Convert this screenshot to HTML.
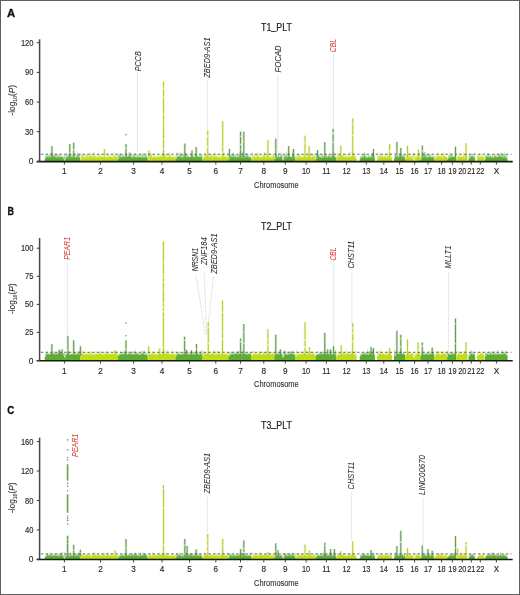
<!DOCTYPE html><html><head><meta charset="utf-8"><style>html,body{margin:0;padding:0;background:#fff;}svg{display:block;will-change:transform;}</style></head><body>
<svg width="520" height="595" viewBox="0 0 520 595" font-family='"Liberation Sans", sans-serif'>
<rect x="0" y="0" width="520" height="595" fill="#fff"/>
<text x="7" y="16.6" font-size="11.4" font-weight="bold" fill="#111" stroke="#111" stroke-width="0.3" textLength="8.2" lengthAdjust="spacingAndGlyphs">A</text>
<text x="261.0" y="31" font-size="10.2" fill="#222" stroke="#222" stroke-width="0.2" textLength="30.8" lengthAdjust="spacingAndGlyphs">T1<tspan dy="-1.3">_</tspan><tspan dy="1.3">PLT</tspan></text>
<text x="254.1" y="188" font-size="9.7" fill="#333" stroke="#333" stroke-width="0.15" textLength="44.6" lengthAdjust="spacingAndGlyphs">Chromosome</text>
<g transform="translate(15.0,100.2) rotate(-90)"><text x="0" y="0" text-anchor="middle" font-size="8.8" fill="#333" stroke="#333" stroke-width="0.12" textLength="30.6" lengthAdjust="spacingAndGlyphs">-log<tspan font-size="5.4" dy="1.6">10</tspan><tspan dy="-1.6">(</tspan><tspan font-style="italic">P</tspan>)</text></g>
<line x1="137.4" y1="73" x2="137.4" y2="152" stroke="#bdbdc4" stroke-width="0.6" stroke-dasharray="1.2 0.8"/>
<line x1="207.3" y1="80.4" x2="207.3" y2="130" stroke="#bdbdc4" stroke-width="0.6" stroke-dasharray="1.2 0.8"/>
<line x1="277.9" y1="74.8" x2="277.9" y2="152" stroke="#bdbdc4" stroke-width="0.6" stroke-dasharray="1.2 0.8"/>
<line x1="333.4" y1="54.2" x2="333.4" y2="128" stroke="#bdbdc4" stroke-width="0.6" stroke-dasharray="1.2 0.8"/>
<polygon points="44.8,161.4 44.8,157.5 45.4,157.5 45.4,156.1 46,156.1 46,154.8 46.6,154.8 46.6,154.6 47.2,154.6 47.2,154.5 47.8,154.5 47.8,155.3 48.4,155.3 48.4,154.3 49,154.3 49,155 49.6,155 49.6,156.2 50.2,156.2 50.2,155.2 50.8,155.2 50.8,156.3 51.4,156.3 51.4,154 52,154 52,153.9 52.6,153.9 52.6,155.5 53.2,155.5 53.2,155.6 53.8,155.6 53.8,154.4 54.4,154.4 54.4,155.9 55,155.9 55,155.9 55.6,155.9 55.6,155.9 56.2,155.9 56.2,155.5 56.8,155.5 56.8,154.8 57.4,154.8 57.4,153.9 58,153.9 58,155.9 58.6,155.9 58.6,153.9 59.2,153.9 59.2,155 59.8,155 59.8,154.1 60.4,154.1 60.4,154.3 61,154.3 61,156 61.6,156 61.6,154.7 62.2,154.7 62.2,156.1 62.8,156.1 62.8,156.7 63.4,156.7 63.4,156.7 64,156.7 64,156.6 64.6,156.6 64.6,156.8 65.2,156.8 65.2,156.9 65.8,156.9 65.8,154.2 66.4,154.2 66.4,154 67,154 67,155.8 67.6,155.8 67.6,155.2 68.2,155.2 68.2,154.7 68.8,154.7 68.8,154.1 69.4,154.1 69.4,156.1 70,156.1 70,155 70.6,155 70.6,153.9 71.2,153.9 71.2,154.8 71.8,154.8 71.8,154.5 72.4,154.5 72.4,154.4 73,154.4 73,155.1 73.6,155.1 73.6,155.6 74.2,155.6 74.2,154.9 74.8,154.9 74.8,155 75.4,155 75.4,155.5 76,155.5 76,154.2 76.6,154.2 76.6,155.5 77.2,155.5 77.2,155.1 77.8,155.1 77.8,154.4 78.4,154.4 78.4,154.3 79,154.3 79,154.3 79.6,154.3 79.6,155.4 80.2,155.4 80.2,157 80.4,157 80.4,161.4" fill="#5cb02e" fill-opacity="0.42"/>
<polygon points="44.8,161.4 44.8,158.9 45.6,158.9 45.6,157.9 46.4,157.9 46.4,157.2 47.2,157.2 47.2,157.1 48,157.1 48,157.4 48.8,157.4 48.8,157.4 49.6,157.4 49.6,157.3 50.4,157.3 50.4,157.8 51.2,157.8 51.2,157.2 52,157.2 52,157 52.8,157 52.8,157.7 53.6,157.7 53.6,157.1 54.4,157.1 54.4,157.2 55.2,157.2 55.2,157.8 56,157.8 56,157.8 56.8,157.8 56.8,157.3 57.6,157.3 57.6,157.7 58.4,157.7 58.4,157.6 59.2,157.6 59.2,157.3 60,157.3 60,157.2 60.8,157.2 60.8,157.2 61.6,157.2 61.6,157.3 62.4,157.3 62.4,157.6 63.2,157.6 63.2,159.3 64,159.3 64,161.1 64.8,161.1 64.8,160.1 65.6,160.1 65.6,157.9 66.4,157.9 66.4,157.2 67.2,157.2 67.2,157.7 68,157.7 68,157.5 68.8,157.5 68.8,157 69.6,157 69.6,157.5 70.4,157.5 70.4,157.2 71.2,157.2 71.2,157.3 72,157.3 72,157.2 72.8,157.2 72.8,157.4 73.6,157.4 73.6,157.4 74.4,157.4 74.4,157.2 75.2,157.2 75.2,157.7 76,157.7 76,157.1 76.8,157.1 76.8,157 77.6,157 77.6,157.9 78.4,157.9 78.4,157.7 79.2,157.7 79.2,158.1 80,158.1 80,159.2 80.4,159.2 80.4,161.4" fill="#5cb02e"/>
<line x1="50.1" y1="157.9" x2="50.1" y2="153.5" stroke="#6a945c" stroke-width="0.7" stroke-opacity="0.5"/>
<line x1="49.5" y1="157.9" x2="49.5" y2="155.6" stroke="#6a945c" stroke-width="0.7" stroke-opacity="0.5"/>
<line x1="78.1" y1="157.9" x2="78.1" y2="154.6" stroke="#6a945c" stroke-width="0.7" stroke-opacity="0.5"/>
<line x1="64" y1="157.9" x2="64" y2="154.3" stroke="#6a945c" stroke-width="0.7" stroke-opacity="0.5"/>
<line x1="57.2" y1="157.9" x2="57.2" y2="154.4" stroke="#6a945c" stroke-width="0.7" stroke-opacity="0.5"/>
<line x1="52" y1="157.9" x2="52" y2="153.8" stroke="#6a945c" stroke-width="0.7" stroke-opacity="0.5"/>
<line x1="53.9" y1="157.9" x2="53.9" y2="155.4" stroke="#6a945c" stroke-width="0.7" stroke-opacity="0.5"/>
<line x1="52.5" y1="157.9" x2="52.5" y2="154.6" stroke="#6a945c" stroke-width="0.7" stroke-opacity="0.5"/>
<line x1="77.6" y1="157.9" x2="77.6" y2="153.7" stroke="#6a945c" stroke-width="0.7" stroke-opacity="0.5"/>
<line x1="79.3" y1="157.9" x2="79.3" y2="154.6" stroke="#6a945c" stroke-width="0.7" stroke-opacity="0.5"/>
<line x1="54.3" y1="157.9" x2="54.3" y2="153.2" stroke="#6a945c" stroke-width="0.7" stroke-opacity="0.5"/>
<line x1="51.8" y1="157.9" x2="51.8" y2="151.5" stroke="#6a945c" stroke-width="0.7" stroke-opacity="0.5"/>
<line x1="58.8" y1="157.9" x2="58.8" y2="155.1" stroke="#6a945c" stroke-width="0.7" stroke-opacity="0.5"/>
<line x1="54.6" y1="157.9" x2="54.6" y2="155" stroke="#6a945c" stroke-width="0.7" stroke-opacity="0.5"/>
<line x1="77.8" y1="157.9" x2="77.8" y2="151.6" stroke="#6a945c" stroke-width="0.7" stroke-opacity="0.5"/>
<line x1="64.6" y1="157.9" x2="64.6" y2="155.2" stroke="#6a945c" stroke-width="0.7" stroke-opacity="0.5"/>
<line x1="45.5" y1="157.9" x2="45.5" y2="155.6" stroke="#6a945c" stroke-width="0.7" stroke-opacity="0.5"/>
<line x1="55.6" y1="157.9" x2="55.6" y2="153.5" stroke="#6a945c" stroke-width="0.7" stroke-opacity="0.5"/>
<line x1="67" y1="157.9" x2="67" y2="152.4" stroke="#6a945c" stroke-width="0.7" stroke-opacity="0.5"/>
<line x1="73.8" y1="157.9" x2="73.8" y2="154.8" stroke="#6a945c" stroke-width="0.7" stroke-opacity="0.5"/>
<line x1="68.6" y1="157.9" x2="68.6" y2="154.4" stroke="#6a945c" stroke-width="0.7" stroke-opacity="0.5"/>
<line x1="70.5" y1="157.9" x2="70.5" y2="155.3" stroke="#6a945c" stroke-width="0.7" stroke-opacity="0.5"/>
<polygon points="80.4,161.4 80.4,155.3 81,155.3 81,157.2 81.6,157.2 81.6,155.2 82.2,155.2 82.2,155.5 82.8,155.5 82.8,154.3 83.4,154.3 83.4,156 84,156 84,154.1 84.6,154.1 84.6,156.4 85.2,156.4 85.2,154.5 85.8,154.5 85.8,154.6 86.4,154.6 86.4,155.1 87,155.1 87,155.9 87.6,155.9 87.6,155.4 88.2,155.4 88.2,155.2 88.8,155.2 88.8,155.8 89.4,155.8 89.4,156 90,156 90,154.2 90.6,154.2 90.6,155 91.2,155 91.2,155.7 91.8,155.7 91.8,154.8 92.4,154.8 92.4,154.8 93,154.8 93,156 93.6,156 93.6,154.9 94.2,154.9 94.2,154.9 94.8,154.9 94.8,156.1 95.4,156.1 95.4,155.6 96,155.6 96,154.2 96.6,154.2 96.6,154.9 97.2,154.9 97.2,155.8 97.8,155.8 97.8,155.4 98.4,155.4 98.4,155.2 99,155.2 99,154.6 99.6,154.6 99.6,154.2 100.2,154.2 100.2,156.2 100.8,156.2 100.8,156.3 101.4,156.3 101.4,155.3 102,155.3 102,156.3 102.6,156.3 102.6,156 103.2,156 103.2,156.1 103.8,156.1 103.8,156.2 104.4,156.2 104.4,154.8 105,154.8 105,156.2 105.6,156.2 105.6,154.9 106.2,154.9 106.2,153.9 106.8,153.9 106.8,156 107.4,156 107.4,154.4 108,154.4 108,154.9 108.6,154.9 108.6,156 109.2,156 109.2,153.9 109.8,153.9 109.8,154.5 110.4,154.5 110.4,155.4 111,155.4 111,154.1 111.6,154.1 111.6,156.1 112.2,156.1 112.2,154.2 112.8,154.2 112.8,154.2 113.4,154.2 113.4,156.1 114,156.1 114,154 114.6,154 114.6,154.4 115.2,154.4 115.2,154 115.8,154 115.8,155.7 116.4,155.7 116.4,154.6 117,154.6 117,155 117.6,155 117.6,156.7 117.9,156.7 117.9,161.4" fill="#c0dd16" fill-opacity="0.42"/>
<polygon points="80.4,161.4 80.4,159.7 81.2,159.7 81.2,158.8 82,158.8 82,157.4 82.8,157.4 82.8,157.4 83.6,157.4 83.6,157.8 84.4,157.8 84.4,157.3 85.2,157.3 85.2,157.8 86,157.8 86,157.4 86.8,157.4 86.8,157.4 87.6,157.4 87.6,157.7 88.4,157.7 88.4,157.9 89.2,157.9 89.2,157 90,157 90,157 90.8,157 90.8,157.3 91.6,157.3 91.6,157.9 92.4,157.9 92.4,157.4 93.2,157.4 93.2,156.9 94,156.9 94,157.1 94.8,157.1 94.8,157.2 95.6,157.2 95.6,157.9 96.4,157.9 96.4,157.3 97.2,157.3 97.2,157.7 98,157.7 98,156.9 98.8,156.9 98.8,157.9 99.6,157.9 99.6,157.7 100.4,157.7 100.4,157 101.2,157 101.2,157.8 102,157.8 102,157.6 102.8,157.6 102.8,157.6 103.6,157.6 103.6,157 104.4,157 104.4,157.2 105.2,157.2 105.2,157 106,157 106,157.7 106.8,157.7 106.8,157.8 107.6,157.8 107.6,157.6 108.4,157.6 108.4,157.1 109.2,157.1 109.2,157.3 110,157.3 110,157 110.8,157 110.8,157.2 111.6,157.2 111.6,157.8 112.4,157.8 112.4,157.6 113.2,157.6 113.2,157.7 114,157.7 114,157.6 114.8,157.6 114.8,157.2 115.6,157.2 115.6,157.5 116.4,157.5 116.4,157.3 117.2,157.3 117.2,158.9 117.9,158.9 117.9,161.4" fill="#c0dd16"/>
<line x1="114.2" y1="157.9" x2="114.2" y2="155.4" stroke="#bac93c" stroke-width="0.7" stroke-opacity="0.5"/>
<line x1="108.1" y1="157.9" x2="108.1" y2="152.4" stroke="#bac93c" stroke-width="0.7" stroke-opacity="0.5"/>
<line x1="82.3" y1="157.9" x2="82.3" y2="154" stroke="#bac93c" stroke-width="0.7" stroke-opacity="0.5"/>
<line x1="116.6" y1="157.9" x2="116.6" y2="155.7" stroke="#bac93c" stroke-width="0.7" stroke-opacity="0.5"/>
<line x1="99" y1="157.9" x2="99" y2="154.5" stroke="#bac93c" stroke-width="0.7" stroke-opacity="0.5"/>
<line x1="94.8" y1="157.9" x2="94.8" y2="155.3" stroke="#bac93c" stroke-width="0.7" stroke-opacity="0.5"/>
<line x1="87.4" y1="157.9" x2="87.4" y2="155.1" stroke="#bac93c" stroke-width="0.7" stroke-opacity="0.5"/>
<line x1="88.8" y1="157.9" x2="88.8" y2="155" stroke="#bac93c" stroke-width="0.7" stroke-opacity="0.5"/>
<line x1="113.9" y1="157.9" x2="113.9" y2="151.8" stroke="#bac93c" stroke-width="0.7" stroke-opacity="0.5"/>
<line x1="90.3" y1="157.9" x2="90.3" y2="155.6" stroke="#bac93c" stroke-width="0.7" stroke-opacity="0.5"/>
<line x1="90.6" y1="157.9" x2="90.6" y2="152.4" stroke="#bac93c" stroke-width="0.7" stroke-opacity="0.5"/>
<line x1="87.3" y1="157.9" x2="87.3" y2="153.4" stroke="#bac93c" stroke-width="0.7" stroke-opacity="0.5"/>
<line x1="84.2" y1="157.9" x2="84.2" y2="154.8" stroke="#bac93c" stroke-width="0.7" stroke-opacity="0.5"/>
<line x1="87" y1="157.9" x2="87" y2="153.7" stroke="#bac93c" stroke-width="0.7" stroke-opacity="0.5"/>
<line x1="94.4" y1="157.9" x2="94.4" y2="152.8" stroke="#bac93c" stroke-width="0.7" stroke-opacity="0.5"/>
<line x1="99.8" y1="157.9" x2="99.8" y2="154.6" stroke="#bac93c" stroke-width="0.7" stroke-opacity="0.5"/>
<line x1="81.6" y1="157.9" x2="81.6" y2="152.5" stroke="#bac93c" stroke-width="0.7" stroke-opacity="0.5"/>
<line x1="82.2" y1="157.9" x2="82.2" y2="154.2" stroke="#bac93c" stroke-width="0.7" stroke-opacity="0.5"/>
<line x1="117.1" y1="157.9" x2="117.1" y2="152.7" stroke="#bac93c" stroke-width="0.7" stroke-opacity="0.5"/>
<line x1="93.8" y1="157.9" x2="93.8" y2="151.9" stroke="#bac93c" stroke-width="0.7" stroke-opacity="0.5"/>
<line x1="90.3" y1="157.9" x2="90.3" y2="153.8" stroke="#bac93c" stroke-width="0.7" stroke-opacity="0.5"/>
<line x1="101.9" y1="157.9" x2="101.9" y2="153.1" stroke="#bac93c" stroke-width="0.7" stroke-opacity="0.5"/>
<line x1="91.4" y1="157.9" x2="91.4" y2="154.6" stroke="#bac93c" stroke-width="0.7" stroke-opacity="0.5"/>
<polygon points="117.9,161.4 117.9,157 118.5,157 118.5,154.9 119.1,154.9 119.1,154.8 119.7,154.8 119.7,155.5 120.3,155.5 120.3,154.4 120.9,154.4 120.9,154.8 121.5,154.8 121.5,155.8 122.1,155.8 122.1,155.1 122.7,155.1 122.7,156.1 123.3,156.1 123.3,155.9 123.9,155.9 123.9,156.2 124.5,156.2 124.5,156.2 125.1,156.2 125.1,154.8 125.7,154.8 125.7,154.2 126.3,154.2 126.3,154.2 126.9,154.2 126.9,155.8 127.5,155.8 127.5,153.9 128.1,153.9 128.1,155.5 128.7,155.5 128.7,154.6 129.3,154.6 129.3,154.9 129.9,154.9 129.9,155.2 130.5,155.2 130.5,154.6 131.1,154.6 131.1,154.1 131.7,154.1 131.7,154.6 132.3,154.6 132.3,155.1 132.9,155.1 132.9,154.2 133.5,154.2 133.5,154.5 134.1,154.5 134.1,155.4 134.7,155.4 134.7,153.9 135.3,153.9 135.3,155.4 135.9,155.4 135.9,156.3 136.5,156.3 136.5,153.9 137.1,153.9 137.1,153.9 137.7,153.9 137.7,155 138.3,155 138.3,154.4 138.9,154.4 138.9,154.6 139.5,154.6 139.5,156.1 140.1,156.1 140.1,154.3 140.7,154.3 140.7,154.8 141.3,154.8 141.3,153.9 141.9,153.9 141.9,155.2 142.5,155.2 142.5,155.7 143.1,155.7 143.1,154.4 143.7,154.4 143.7,155 144.3,155 144.3,154.1 144.9,154.1 144.9,156.3 145.5,156.3 145.5,154.6 146.1,154.6 146.1,154 146.7,154 146.7,156.5 147.3,156.5 147.3,157.2 147.7,157.2 147.7,161.4" fill="#5cb02e" fill-opacity="0.42"/>
<polygon points="117.9,161.4 117.9,159.3 118.7,159.3 118.7,158.2 119.5,158.2 119.5,157.3 120.3,157.3 120.3,157.4 121.1,157.4 121.1,157.6 121.9,157.6 121.9,157.2 122.7,157.2 122.7,156.9 123.5,156.9 123.5,157.4 124.3,157.4 124.3,157.5 125.1,157.5 125.1,156.9 125.9,156.9 125.9,157.7 126.7,157.7 126.7,157.3 127.5,157.3 127.5,157.1 128.3,157.1 128.3,157.1 129.1,157.1 129.1,157.2 129.9,157.2 129.9,157.2 130.7,157.2 130.7,157.5 131.5,157.5 131.5,156.9 132.3,156.9 132.3,157.9 133.1,157.9 133.1,157.5 133.9,157.5 133.9,157.4 134.7,157.4 134.7,157.2 135.5,157.2 135.5,157.6 136.3,157.6 136.3,157.7 137.1,157.7 137.1,157.5 137.9,157.5 137.9,157.3 138.7,157.3 138.7,157.4 139.5,157.4 139.5,157 140.3,157 140.3,157.4 141.1,157.4 141.1,157.7 141.9,157.7 141.9,157.3 142.7,157.3 142.7,157.5 143.5,157.5 143.5,157.9 144.3,157.9 144.3,157.5 145.1,157.5 145.1,157.8 145.9,157.8 145.9,157.3 146.7,157.3 146.7,157.7 147.5,157.7 147.5,158.8 147.7,158.8 147.7,161.4" fill="#5cb02e"/>
<line x1="146.1" y1="157.9" x2="146.1" y2="155.4" stroke="#6a945c" stroke-width="0.7" stroke-opacity="0.5"/>
<line x1="142.5" y1="157.9" x2="142.5" y2="152.9" stroke="#6a945c" stroke-width="0.7" stroke-opacity="0.5"/>
<line x1="125.3" y1="157.9" x2="125.3" y2="154.3" stroke="#6a945c" stroke-width="0.7" stroke-opacity="0.5"/>
<line x1="123.3" y1="157.9" x2="123.3" y2="154.9" stroke="#6a945c" stroke-width="0.7" stroke-opacity="0.5"/>
<line x1="133.5" y1="157.9" x2="133.5" y2="154.7" stroke="#6a945c" stroke-width="0.7" stroke-opacity="0.5"/>
<line x1="129.6" y1="157.9" x2="129.6" y2="153.2" stroke="#6a945c" stroke-width="0.7" stroke-opacity="0.5"/>
<line x1="137.9" y1="157.9" x2="137.9" y2="155.5" stroke="#6a945c" stroke-width="0.7" stroke-opacity="0.5"/>
<line x1="134.8" y1="157.9" x2="134.8" y2="152.8" stroke="#6a945c" stroke-width="0.7" stroke-opacity="0.5"/>
<line x1="119.2" y1="157.9" x2="119.2" y2="153" stroke="#6a945c" stroke-width="0.7" stroke-opacity="0.5"/>
<line x1="118.9" y1="157.9" x2="118.9" y2="154.5" stroke="#6a945c" stroke-width="0.7" stroke-opacity="0.5"/>
<line x1="129.4" y1="157.9" x2="129.4" y2="155.7" stroke="#6a945c" stroke-width="0.7" stroke-opacity="0.5"/>
<line x1="120.5" y1="157.9" x2="120.5" y2="153.4" stroke="#6a945c" stroke-width="0.7" stroke-opacity="0.5"/>
<line x1="126" y1="157.9" x2="126" y2="154.1" stroke="#6a945c" stroke-width="0.7" stroke-opacity="0.5"/>
<line x1="123" y1="157.9" x2="123" y2="153.7" stroke="#6a945c" stroke-width="0.7" stroke-opacity="0.5"/>
<line x1="145.4" y1="157.9" x2="145.4" y2="153" stroke="#6a945c" stroke-width="0.7" stroke-opacity="0.5"/>
<line x1="128.9" y1="157.9" x2="128.9" y2="151.8" stroke="#6a945c" stroke-width="0.7" stroke-opacity="0.5"/>
<line x1="128.5" y1="157.9" x2="128.5" y2="155.1" stroke="#6a945c" stroke-width="0.7" stroke-opacity="0.5"/>
<line x1="130.5" y1="157.9" x2="130.5" y2="151.6" stroke="#6a945c" stroke-width="0.7" stroke-opacity="0.5"/>
<polygon points="147.7,161.4 147.7,156.8 148.3,156.8 148.3,156.5 148.9,156.5 148.9,155.3 149.5,155.3 149.5,154.7 150.1,154.7 150.1,154.4 150.7,154.4 150.7,154.6 151.3,154.6 151.3,154.7 151.9,154.7 151.9,155.3 152.5,155.3 152.5,155.3 153.1,155.3 153.1,153.8 153.7,153.8 153.7,155.1 154.3,155.1 154.3,154.4 154.9,154.4 154.9,155.5 155.5,155.5 155.5,156.4 156.1,156.4 156.1,155.4 156.7,155.4 156.7,155 157.3,155 157.3,155.4 157.9,155.4 157.9,155.9 158.5,155.9 158.5,156 159.1,156 159.1,156.3 159.7,156.3 159.7,154.6 160.3,154.6 160.3,155 160.9,155 160.9,154.3 161.5,154.3 161.5,154.2 162.1,154.2 162.1,154.4 162.7,154.4 162.7,154.3 163.3,154.3 163.3,154.1 163.9,154.1 163.9,154 164.5,154 164.5,154.3 165.1,154.3 165.1,154.1 165.7,154.1 165.7,155.5 166.3,155.5 166.3,153.8 166.9,153.8 166.9,154.1 167.5,154.1 167.5,154.3 168.1,154.3 168.1,154.2 168.7,154.2 168.7,154.5 169.3,154.5 169.3,154.9 169.9,154.9 169.9,155.1 170.5,155.1 170.5,154 171.1,154 171.1,155.7 171.7,155.7 171.7,154.7 172.3,154.7 172.3,154 172.9,154 172.9,155.7 173.5,155.7 173.5,156 174.1,156 174.1,155.7 174.7,155.7 174.7,155.9 175.3,155.9 175.3,156.3 175.6,156.3 175.6,161.4" fill="#c0dd16" fill-opacity="0.42"/>
<polygon points="147.7,161.4 147.7,159.5 148.5,159.5 148.5,158.6 149.3,158.6 149.3,157.8 150.1,157.8 150.1,157.4 150.9,157.4 150.9,157.8 151.7,157.8 151.7,157.5 152.5,157.5 152.5,157.7 153.3,157.7 153.3,157.3 154.1,157.3 154.1,157.3 154.9,157.3 154.9,157.7 155.7,157.7 155.7,156.9 156.5,156.9 156.5,157.6 157.3,157.6 157.3,157 158.1,157 158.1,157.6 158.9,157.6 158.9,157.3 159.7,157.3 159.7,157.3 160.5,157.3 160.5,157.3 161.3,157.3 161.3,157.6 162.1,157.6 162.1,157.1 162.9,157.1 162.9,157.3 163.7,157.3 163.7,157.3 164.5,157.3 164.5,157.4 165.3,157.4 165.3,157.6 166.1,157.6 166.1,157.5 166.9,157.5 166.9,157.2 167.7,157.2 167.7,157.2 168.5,157.2 168.5,156.9 169.3,156.9 169.3,157.2 170.1,157.2 170.1,156.9 170.9,156.9 170.9,157.6 171.7,157.6 171.7,157.6 172.5,157.6 172.5,156.9 173.3,156.9 173.3,157.5 174.1,157.5 174.1,157.4 174.9,157.4 174.9,158.1 175.6,158.1 175.6,161.4" fill="#c0dd16"/>
<line x1="151.5" y1="157.9" x2="151.5" y2="155.5" stroke="#bac93c" stroke-width="0.7" stroke-opacity="0.5"/>
<line x1="160.8" y1="157.9" x2="160.8" y2="155.3" stroke="#bac93c" stroke-width="0.7" stroke-opacity="0.5"/>
<line x1="149.8" y1="157.9" x2="149.8" y2="153.2" stroke="#bac93c" stroke-width="0.7" stroke-opacity="0.5"/>
<line x1="163" y1="157.9" x2="163" y2="154.4" stroke="#bac93c" stroke-width="0.7" stroke-opacity="0.5"/>
<line x1="165.4" y1="157.9" x2="165.4" y2="155" stroke="#bac93c" stroke-width="0.7" stroke-opacity="0.5"/>
<line x1="158.8" y1="157.9" x2="158.8" y2="154.9" stroke="#bac93c" stroke-width="0.7" stroke-opacity="0.5"/>
<line x1="165.6" y1="157.9" x2="165.6" y2="154.4" stroke="#bac93c" stroke-width="0.7" stroke-opacity="0.5"/>
<line x1="163.8" y1="157.9" x2="163.8" y2="154" stroke="#bac93c" stroke-width="0.7" stroke-opacity="0.5"/>
<line x1="163.5" y1="157.9" x2="163.5" y2="155.6" stroke="#bac93c" stroke-width="0.7" stroke-opacity="0.5"/>
<line x1="169.2" y1="157.9" x2="169.2" y2="152.1" stroke="#bac93c" stroke-width="0.7" stroke-opacity="0.5"/>
<line x1="150" y1="157.9" x2="150" y2="153" stroke="#bac93c" stroke-width="0.7" stroke-opacity="0.5"/>
<line x1="163.6" y1="157.9" x2="163.6" y2="153" stroke="#bac93c" stroke-width="0.7" stroke-opacity="0.5"/>
<line x1="148.5" y1="157.9" x2="148.5" y2="155.6" stroke="#bac93c" stroke-width="0.7" stroke-opacity="0.5"/>
<line x1="162.9" y1="157.9" x2="162.9" y2="154" stroke="#bac93c" stroke-width="0.7" stroke-opacity="0.5"/>
<line x1="150.9" y1="157.9" x2="150.9" y2="152.8" stroke="#bac93c" stroke-width="0.7" stroke-opacity="0.5"/>
<line x1="150.8" y1="157.9" x2="150.8" y2="152.2" stroke="#bac93c" stroke-width="0.7" stroke-opacity="0.5"/>
<line x1="169.7" y1="157.9" x2="169.7" y2="153.1" stroke="#bac93c" stroke-width="0.7" stroke-opacity="0.5"/>
<polygon points="175.6,161.4 175.6,155.6 176.2,155.6 176.2,156.5 176.8,156.5 176.8,155.2 177.4,155.2 177.4,156.3 178,156.3 178,154.4 178.6,154.4 178.6,155.9 179.2,155.9 179.2,156.3 179.8,156.3 179.8,154.4 180.4,154.4 180.4,156.2 181,156.2 181,154.7 181.6,154.7 181.6,153.9 182.2,153.9 182.2,155 182.8,155 182.8,155 183.4,155 183.4,154.4 184,154.4 184,154.5 184.6,154.5 184.6,155.1 185.2,155.1 185.2,156.3 185.8,156.3 185.8,153.8 186.4,153.8 186.4,154.5 187,154.5 187,155.2 187.6,155.2 187.6,154.7 188.2,154.7 188.2,155.7 188.8,155.7 188.8,155.8 189.4,155.8 189.4,156.3 190,156.3 190,155.4 190.6,155.4 190.6,154.9 191.2,154.9 191.2,156.1 191.8,156.1 191.8,155.9 192.4,155.9 192.4,155.4 193,155.4 193,156.4 193.6,156.4 193.6,154.3 194.2,154.3 194.2,156 194.8,156 194.8,154 195.4,154 195.4,154.9 196,154.9 196,155.6 196.6,155.6 196.6,156.2 197.2,156.2 197.2,154.8 197.8,154.8 197.8,156.2 198.4,156.2 198.4,155.5 199,155.5 199,153.8 199.6,153.8 199.6,154.2 200.2,154.2 200.2,154.6 200.8,154.6 200.8,154.9 201.4,154.9 201.4,155.2 202,155.2 202,155.5 202.5,155.5 202.5,161.4" fill="#5cb02e" fill-opacity="0.42"/>
<polygon points="175.6,161.4 175.6,158.9 176.4,158.9 176.4,158.7 177.2,158.7 177.2,157 178,157 178,156.9 178.8,156.9 178.8,157.3 179.6,157.3 179.6,157.6 180.4,157.6 180.4,157.8 181.2,157.8 181.2,157.6 182,157.6 182,157.9 182.8,157.9 182.8,157.2 183.6,157.2 183.6,157.3 184.4,157.3 184.4,157.2 185.2,157.2 185.2,157 186,157 186,157.6 186.8,157.6 186.8,157.2 187.6,157.2 187.6,157.2 188.4,157.2 188.4,157.3 189.2,157.3 189.2,157.8 190,157.8 190,157 190.8,157 190.8,157.3 191.6,157.3 191.6,157.4 192.4,157.4 192.4,157 193.2,157 193.2,157.8 194,157.8 194,157.9 194.8,157.9 194.8,157.2 195.6,157.2 195.6,157.2 196.4,157.2 196.4,157.4 197.2,157.4 197.2,157.3 198,157.3 198,157.1 198.8,157.1 198.8,157.1 199.6,157.1 199.6,157.3 200.4,157.3 200.4,157.2 201.2,157.2 201.2,157.7 202,157.7 202,159 202.5,159 202.5,161.4" fill="#5cb02e"/>
<line x1="196.9" y1="157.9" x2="196.9" y2="155.6" stroke="#6a945c" stroke-width="0.7" stroke-opacity="0.5"/>
<line x1="180.4" y1="157.9" x2="180.4" y2="153.9" stroke="#6a945c" stroke-width="0.7" stroke-opacity="0.5"/>
<line x1="185.6" y1="157.9" x2="185.6" y2="152.2" stroke="#6a945c" stroke-width="0.7" stroke-opacity="0.5"/>
<line x1="183.8" y1="157.9" x2="183.8" y2="154.2" stroke="#6a945c" stroke-width="0.7" stroke-opacity="0.5"/>
<line x1="180.9" y1="157.9" x2="180.9" y2="152.4" stroke="#6a945c" stroke-width="0.7" stroke-opacity="0.5"/>
<line x1="185.4" y1="157.9" x2="185.4" y2="153.1" stroke="#6a945c" stroke-width="0.7" stroke-opacity="0.5"/>
<line x1="195.2" y1="157.9" x2="195.2" y2="154.4" stroke="#6a945c" stroke-width="0.7" stroke-opacity="0.5"/>
<line x1="179" y1="157.9" x2="179" y2="151.7" stroke="#6a945c" stroke-width="0.7" stroke-opacity="0.5"/>
<line x1="177" y1="157.9" x2="177" y2="152.5" stroke="#6a945c" stroke-width="0.7" stroke-opacity="0.5"/>
<line x1="180.1" y1="157.9" x2="180.1" y2="154.5" stroke="#6a945c" stroke-width="0.7" stroke-opacity="0.5"/>
<line x1="187.6" y1="157.9" x2="187.6" y2="154.5" stroke="#6a945c" stroke-width="0.7" stroke-opacity="0.5"/>
<line x1="191.4" y1="157.9" x2="191.4" y2="153.4" stroke="#6a945c" stroke-width="0.7" stroke-opacity="0.5"/>
<line x1="193.7" y1="157.9" x2="193.7" y2="155.6" stroke="#6a945c" stroke-width="0.7" stroke-opacity="0.5"/>
<line x1="185.7" y1="157.9" x2="185.7" y2="155.3" stroke="#6a945c" stroke-width="0.7" stroke-opacity="0.5"/>
<line x1="201.3" y1="157.9" x2="201.3" y2="154" stroke="#6a945c" stroke-width="0.7" stroke-opacity="0.5"/>
<line x1="201.8" y1="157.9" x2="201.8" y2="155.3" stroke="#6a945c" stroke-width="0.7" stroke-opacity="0.5"/>
<polygon points="202.5,161.4 202.5,156.1 203.1,156.1 203.1,155.9 203.7,155.9 203.7,155.9 204.3,155.9 204.3,155.9 204.9,155.9 204.9,154.8 205.5,154.8 205.5,154.1 206.1,154.1 206.1,155.1 206.7,155.1 206.7,155.1 207.3,155.1 207.3,153.9 207.9,153.9 207.9,155.7 208.5,155.7 208.5,155.5 209.1,155.5 209.1,154.1 209.7,154.1 209.7,156.2 210.3,156.2 210.3,156.3 210.9,156.3 210.9,154.7 211.5,154.7 211.5,155.1 212.1,155.1 212.1,154 212.7,154 212.7,154.9 213.3,154.9 213.3,155.7 213.9,155.7 213.9,154.7 214.5,154.7 214.5,155.2 215.1,155.2 215.1,154.8 215.7,154.8 215.7,155.9 216.3,155.9 216.3,156.2 216.9,156.2 216.9,154 217.5,154 217.5,154.2 218.1,154.2 218.1,156 218.7,156 218.7,156.1 219.3,156.1 219.3,154.2 219.9,154.2 219.9,154.6 220.5,154.6 220.5,155.2 221.1,155.2 221.1,154.2 221.7,154.2 221.7,154.3 222.3,154.3 222.3,154.3 222.9,154.3 222.9,154 223.5,154 223.5,154.3 224.1,154.3 224.1,156.4 224.7,156.4 224.7,154.7 225.3,154.7 225.3,156.2 225.9,156.2 225.9,154.1 226.5,154.1 226.5,154.3 227.1,154.3 227.1,155 227.7,155 227.7,156 228.3,156 228.3,155.9 228.5,155.9 228.5,161.4" fill="#c0dd16" fill-opacity="0.42"/>
<polygon points="202.5,161.4 202.5,159.5 203.3,159.5 203.3,158.1 204.1,158.1 204.1,156.9 204.9,156.9 204.9,157.9 205.7,157.9 205.7,157.5 206.5,157.5 206.5,157.1 207.3,157.1 207.3,157.7 208.1,157.7 208.1,157.5 208.9,157.5 208.9,157.1 209.7,157.1 209.7,157.3 210.5,157.3 210.5,157.6 211.3,157.6 211.3,157.5 212.1,157.5 212.1,157.5 212.9,157.5 212.9,157.4 213.7,157.4 213.7,156.9 214.5,156.9 214.5,157.7 215.3,157.7 215.3,157.6 216.1,157.6 216.1,157 216.9,157 216.9,157.4 217.7,157.4 217.7,157.3 218.5,157.3 218.5,157 219.3,157 219.3,157.8 220.1,157.8 220.1,157.7 220.9,157.7 220.9,157.8 221.7,157.8 221.7,157.7 222.5,157.7 222.5,157.8 223.3,157.8 223.3,157.7 224.1,157.7 224.1,157 224.9,157 224.9,157 225.7,157 225.7,157.2 226.5,157.2 226.5,157.4 227.3,157.4 227.3,157.6 228.1,157.6 228.1,158.3 228.5,158.3 228.5,161.4" fill="#c0dd16"/>
<line x1="210" y1="157.9" x2="210" y2="153.1" stroke="#bac93c" stroke-width="0.7" stroke-opacity="0.5"/>
<line x1="206.1" y1="157.9" x2="206.1" y2="154.7" stroke="#bac93c" stroke-width="0.7" stroke-opacity="0.5"/>
<line x1="216.2" y1="157.9" x2="216.2" y2="153.6" stroke="#bac93c" stroke-width="0.7" stroke-opacity="0.5"/>
<line x1="208.1" y1="157.9" x2="208.1" y2="154.6" stroke="#bac93c" stroke-width="0.7" stroke-opacity="0.5"/>
<line x1="207.1" y1="157.9" x2="207.1" y2="154.8" stroke="#bac93c" stroke-width="0.7" stroke-opacity="0.5"/>
<line x1="223.2" y1="157.9" x2="223.2" y2="155.2" stroke="#bac93c" stroke-width="0.7" stroke-opacity="0.5"/>
<line x1="211.2" y1="157.9" x2="211.2" y2="153.7" stroke="#bac93c" stroke-width="0.7" stroke-opacity="0.5"/>
<line x1="207.7" y1="157.9" x2="207.7" y2="152.2" stroke="#bac93c" stroke-width="0.7" stroke-opacity="0.5"/>
<line x1="211.1" y1="157.9" x2="211.1" y2="155" stroke="#bac93c" stroke-width="0.7" stroke-opacity="0.5"/>
<line x1="211" y1="157.9" x2="211" y2="154.4" stroke="#bac93c" stroke-width="0.7" stroke-opacity="0.5"/>
<line x1="214.2" y1="157.9" x2="214.2" y2="154.6" stroke="#bac93c" stroke-width="0.7" stroke-opacity="0.5"/>
<line x1="213.4" y1="157.9" x2="213.4" y2="155.3" stroke="#bac93c" stroke-width="0.7" stroke-opacity="0.5"/>
<line x1="204.5" y1="157.9" x2="204.5" y2="152.3" stroke="#bac93c" stroke-width="0.7" stroke-opacity="0.5"/>
<line x1="223.9" y1="157.9" x2="223.9" y2="153" stroke="#bac93c" stroke-width="0.7" stroke-opacity="0.5"/>
<line x1="215.1" y1="157.9" x2="215.1" y2="151.7" stroke="#bac93c" stroke-width="0.7" stroke-opacity="0.5"/>
<line x1="206.2" y1="157.9" x2="206.2" y2="155.6" stroke="#bac93c" stroke-width="0.7" stroke-opacity="0.5"/>
<polygon points="228.5,161.4 228.5,155.4 229.1,155.4 229.1,155.9 229.7,155.9 229.7,155.4 230.3,155.4 230.3,155.1 230.9,155.1 230.9,154.5 231.5,154.5 231.5,154.7 232.1,154.7 232.1,154.5 232.7,154.5 232.7,155.1 233.3,155.1 233.3,154.4 233.9,154.4 233.9,154.7 234.5,154.7 234.5,154.2 235.1,154.2 235.1,154.4 235.7,154.4 235.7,156.1 236.3,156.1 236.3,155.2 236.9,155.2 236.9,154.7 237.5,154.7 237.5,154.5 238.1,154.5 238.1,155.2 238.7,155.2 238.7,154.9 239.3,154.9 239.3,154.1 239.9,154.1 239.9,155.8 240.5,155.8 240.5,155.7 241.1,155.7 241.1,155.6 241.7,155.6 241.7,156 242.3,156 242.3,154.8 242.9,154.8 242.9,154.9 243.5,154.9 243.5,153.8 244.1,153.8 244.1,155 244.7,155 244.7,155.8 245.3,155.8 245.3,156.1 245.9,156.1 245.9,154.8 246.5,154.8 246.5,156 247.1,156 247.1,156.1 247.7,156.1 247.7,155.2 248.3,155.2 248.3,154.3 248.9,154.3 248.9,155.6 249.5,155.6 249.5,155.7 250.1,155.7 250.1,156.4 250.7,156.4 250.7,154.6 251.3,154.6 251.3,155.6 251.5,155.6 251.5,161.4" fill="#5cb02e" fill-opacity="0.42"/>
<polygon points="228.5,161.4 228.5,159.2 229.3,159.2 229.3,158.8 230.1,158.8 230.1,157 230.9,157 230.9,157.3 231.7,157.3 231.7,157.2 232.5,157.2 232.5,157.2 233.3,157.2 233.3,157.3 234.1,157.3 234.1,157.5 234.9,157.5 234.9,157.1 235.7,157.1 235.7,157.8 236.5,157.8 236.5,157.6 237.3,157.6 237.3,157.3 238.1,157.3 238.1,157.4 238.9,157.4 238.9,157.4 239.7,157.4 239.7,157.3 240.5,157.3 240.5,157.8 241.3,157.8 241.3,157.7 242.1,157.7 242.1,157.9 242.9,157.9 242.9,157.2 243.7,157.2 243.7,157.3 244.5,157.3 244.5,157.9 245.3,157.9 245.3,157.7 246.1,157.7 246.1,157.6 246.9,157.6 246.9,157.1 247.7,157.1 247.7,157.2 248.5,157.2 248.5,157.7 249.3,157.7 249.3,157.4 250.1,157.4 250.1,157.6 250.9,157.6 250.9,158.3 251.5,158.3 251.5,161.4" fill="#5cb02e"/>
<line x1="233" y1="157.9" x2="233" y2="155.3" stroke="#6a945c" stroke-width="0.7" stroke-opacity="0.5"/>
<line x1="246" y1="157.9" x2="246" y2="153.3" stroke="#6a945c" stroke-width="0.7" stroke-opacity="0.5"/>
<line x1="235.7" y1="157.9" x2="235.7" y2="155.2" stroke="#6a945c" stroke-width="0.7" stroke-opacity="0.5"/>
<line x1="238.8" y1="157.9" x2="238.8" y2="155.6" stroke="#6a945c" stroke-width="0.7" stroke-opacity="0.5"/>
<line x1="242.8" y1="157.9" x2="242.8" y2="152.8" stroke="#6a945c" stroke-width="0.7" stroke-opacity="0.5"/>
<line x1="233.6" y1="157.9" x2="233.6" y2="152.2" stroke="#6a945c" stroke-width="0.7" stroke-opacity="0.5"/>
<line x1="247.7" y1="157.9" x2="247.7" y2="155.6" stroke="#6a945c" stroke-width="0.7" stroke-opacity="0.5"/>
<line x1="245.7" y1="157.9" x2="245.7" y2="152.8" stroke="#6a945c" stroke-width="0.7" stroke-opacity="0.5"/>
<line x1="242.1" y1="157.9" x2="242.1" y2="155.2" stroke="#6a945c" stroke-width="0.7" stroke-opacity="0.5"/>
<line x1="239.6" y1="157.9" x2="239.6" y2="151.8" stroke="#6a945c" stroke-width="0.7" stroke-opacity="0.5"/>
<line x1="242.3" y1="157.9" x2="242.3" y2="151.8" stroke="#6a945c" stroke-width="0.7" stroke-opacity="0.5"/>
<line x1="247" y1="157.9" x2="247" y2="153.7" stroke="#6a945c" stroke-width="0.7" stroke-opacity="0.5"/>
<line x1="247.1" y1="157.9" x2="247.1" y2="154.3" stroke="#6a945c" stroke-width="0.7" stroke-opacity="0.5"/>
<line x1="232" y1="157.9" x2="232" y2="154" stroke="#6a945c" stroke-width="0.7" stroke-opacity="0.5"/>
<polygon points="251.5,161.4 251.5,157.3 252.1,157.3 252.1,156.5 252.7,156.5 252.7,156.5 253.3,156.5 253.3,155 253.9,155 253.9,154.4 254.5,154.4 254.5,153.8 255.1,153.8 255.1,154.4 255.7,154.4 255.7,154.5 256.3,154.5 256.3,154.4 256.9,154.4 256.9,155.8 257.5,155.8 257.5,154.8 258.1,154.8 258.1,154 258.7,154 258.7,154.7 259.3,154.7 259.3,155.4 259.9,155.4 259.9,154.5 260.5,154.5 260.5,154.1 261.1,154.1 261.1,155.3 261.7,155.3 261.7,155.8 262.3,155.8 262.3,155.5 262.9,155.5 262.9,154.5 263.5,154.5 263.5,155.9 264.1,155.9 264.1,155.9 264.7,155.9 264.7,153.9 265.3,153.9 265.3,156.3 265.9,156.3 265.9,156.1 266.5,156.1 266.5,154.3 267.1,154.3 267.1,154.7 267.7,154.7 267.7,154.1 268.3,154.1 268.3,154 268.9,154 268.9,155.9 269.5,155.9 269.5,154.5 270.1,154.5 270.1,155.7 270.7,155.7 270.7,154.7 271.3,154.7 271.3,156.3 271.9,156.3 271.9,154.4 272.5,154.4 272.5,155.9 273.1,155.9 273.1,154.8 273.7,154.8 273.7,155.8 274.3,155.8 274.3,155.9 274.6,155.9 274.6,161.4" fill="#c0dd16" fill-opacity="0.42"/>
<polygon points="251.5,161.4 251.5,159.4 252.3,159.4 252.3,158.8 253.1,158.8 253.1,157.6 253.9,157.6 253.9,157.6 254.7,157.6 254.7,156.9 255.5,156.9 255.5,157.9 256.3,157.9 256.3,157.1 257.1,157.1 257.1,157.8 257.9,157.8 257.9,157.6 258.7,157.6 258.7,157.2 259.5,157.2 259.5,157.3 260.3,157.3 260.3,157.9 261.1,157.9 261.1,157.6 261.9,157.6 261.9,157.6 262.7,157.6 262.7,157.3 263.5,157.3 263.5,157.4 264.3,157.4 264.3,157.4 265.1,157.4 265.1,157.9 265.9,157.9 265.9,157.5 266.7,157.5 266.7,157.4 267.5,157.4 267.5,157.8 268.3,157.8 268.3,157.3 269.1,157.3 269.1,157.8 269.9,157.8 269.9,157.5 270.7,157.5 270.7,157.8 271.5,157.8 271.5,157.5 272.3,157.5 272.3,157.8 273.1,157.8 273.1,157.5 273.9,157.5 273.9,158.4 274.6,158.4 274.6,161.4" fill="#c0dd16"/>
<line x1="272.9" y1="157.9" x2="272.9" y2="155" stroke="#bac93c" stroke-width="0.7" stroke-opacity="0.5"/>
<line x1="254.5" y1="157.9" x2="254.5" y2="154.6" stroke="#bac93c" stroke-width="0.7" stroke-opacity="0.5"/>
<line x1="268.3" y1="157.9" x2="268.3" y2="155.2" stroke="#bac93c" stroke-width="0.7" stroke-opacity="0.5"/>
<line x1="273.2" y1="157.9" x2="273.2" y2="155.1" stroke="#bac93c" stroke-width="0.7" stroke-opacity="0.5"/>
<line x1="266.2" y1="157.9" x2="266.2" y2="155.5" stroke="#bac93c" stroke-width="0.7" stroke-opacity="0.5"/>
<line x1="264.8" y1="157.9" x2="264.8" y2="152.9" stroke="#bac93c" stroke-width="0.7" stroke-opacity="0.5"/>
<line x1="263.1" y1="157.9" x2="263.1" y2="155" stroke="#bac93c" stroke-width="0.7" stroke-opacity="0.5"/>
<line x1="264.6" y1="157.9" x2="264.6" y2="151.6" stroke="#bac93c" stroke-width="0.7" stroke-opacity="0.5"/>
<line x1="257.8" y1="157.9" x2="257.8" y2="153" stroke="#bac93c" stroke-width="0.7" stroke-opacity="0.5"/>
<line x1="263.9" y1="157.9" x2="263.9" y2="151.6" stroke="#bac93c" stroke-width="0.7" stroke-opacity="0.5"/>
<line x1="258" y1="157.9" x2="258" y2="152.4" stroke="#bac93c" stroke-width="0.7" stroke-opacity="0.5"/>
<line x1="252.6" y1="157.9" x2="252.6" y2="151.9" stroke="#bac93c" stroke-width="0.7" stroke-opacity="0.5"/>
<line x1="253" y1="157.9" x2="253" y2="154.9" stroke="#bac93c" stroke-width="0.7" stroke-opacity="0.5"/>
<line x1="256.9" y1="157.9" x2="256.9" y2="155" stroke="#bac93c" stroke-width="0.7" stroke-opacity="0.5"/>
<polygon points="274.4,161.4 274.4,155.5 275,155.5 275,156.8 275.6,156.8 275.6,155.2 276.2,155.2 276.2,154.8 276.8,154.8 276.8,156.2 277.4,156.2 277.4,154.4 278,154.4 278,153.9 278.6,153.9 278.6,155.1 279.2,155.1 279.2,155.9 279.8,155.9 279.8,155.6 280.4,155.6 280.4,154.9 281,154.9 281,153.9 281.6,153.9 281.6,155.1 282.2,155.1 282.2,157.3 282.8,157.3 282.8,158.6 283.4,158.6 283.4,156.1 284,156.1 284,155.8 284.6,155.8 284.6,155.6 285.2,155.6 285.2,154.3 285.8,154.3 285.8,155.6 286.4,155.6 286.4,154.4 287,154.4 287,154.4 287.6,154.4 287.6,154.4 288.2,154.4 288.2,155.8 288.8,155.8 288.8,155.1 289.4,155.1 289.4,154.1 290,154.1 290,155.7 290.6,155.7 290.6,156.2 291.2,156.2 291.2,156.3 291.8,156.3 291.8,154.8 292.4,154.8 292.4,155.1 293,155.1 293,154.5 293.6,154.5 293.6,154 294.2,154 294.2,155.2 294.8,155.2 294.8,156.1 295.4,156.1 295.4,155.5 295.5,155.5 295.5,161.4" fill="#5cb02e" fill-opacity="0.42"/>
<polygon points="274.4,161.4 274.4,159.1 275.2,159.1 275.2,158.8 276,158.8 276,157.6 276.8,157.6 276.8,157.3 277.6,157.3 277.6,157.7 278.4,157.7 278.4,156.9 279.2,156.9 279.2,157.9 280,157.9 280,157 280.8,157 280.8,157 281.6,157 281.6,158.5 282.4,158.5 282.4,160.4 283.2,160.4 283.2,160.2 284,160.2 284,158.6 284.8,158.6 284.8,156.9 285.6,156.9 285.6,157.3 286.4,157.3 286.4,157.4 287.2,157.4 287.2,157.6 288,157.6 288,157.3 288.8,157.3 288.8,157.3 289.6,157.3 289.6,157.2 290.4,157.2 290.4,157.2 291.2,157.2 291.2,157.2 292,157.2 292,157.8 292.8,157.8 292.8,157.4 293.6,157.4 293.6,157.5 294.4,157.5 294.4,157.7 295.2,157.7 295.2,159.2 295.5,159.2 295.5,161.4" fill="#5cb02e"/>
<line x1="281.3" y1="157.9" x2="281.3" y2="155" stroke="#6a945c" stroke-width="0.7" stroke-opacity="0.5"/>
<line x1="281.2" y1="157.9" x2="281.2" y2="151.9" stroke="#6a945c" stroke-width="0.7" stroke-opacity="0.5"/>
<line x1="292.8" y1="157.9" x2="292.8" y2="151.6" stroke="#6a945c" stroke-width="0.7" stroke-opacity="0.5"/>
<line x1="281.9" y1="157.9" x2="281.9" y2="154.4" stroke="#6a945c" stroke-width="0.7" stroke-opacity="0.5"/>
<line x1="275.9" y1="157.9" x2="275.9" y2="153.6" stroke="#6a945c" stroke-width="0.7" stroke-opacity="0.5"/>
<line x1="283.9" y1="157.9" x2="283.9" y2="154.7" stroke="#6a945c" stroke-width="0.7" stroke-opacity="0.5"/>
<line x1="292.6" y1="157.9" x2="292.6" y2="151.5" stroke="#6a945c" stroke-width="0.7" stroke-opacity="0.5"/>
<line x1="288.6" y1="157.9" x2="288.6" y2="153" stroke="#6a945c" stroke-width="0.7" stroke-opacity="0.5"/>
<line x1="288.9" y1="157.9" x2="288.9" y2="152.7" stroke="#6a945c" stroke-width="0.7" stroke-opacity="0.5"/>
<line x1="286.4" y1="157.9" x2="286.4" y2="151.8" stroke="#6a945c" stroke-width="0.7" stroke-opacity="0.5"/>
<line x1="278.6" y1="157.9" x2="278.6" y2="153.5" stroke="#6a945c" stroke-width="0.7" stroke-opacity="0.5"/>
<line x1="284.6" y1="157.9" x2="284.6" y2="154.9" stroke="#6a945c" stroke-width="0.7" stroke-opacity="0.5"/>
<line x1="288.9" y1="157.9" x2="288.9" y2="155.6" stroke="#6a945c" stroke-width="0.7" stroke-opacity="0.5"/>
<polygon points="295.5,161.4 295.5,155.5 296.1,155.5 296.1,155.2 296.7,155.2 296.7,156.4 297.3,156.4 297.3,154.1 297.9,154.1 297.9,155.5 298.5,155.5 298.5,154.5 299.1,154.5 299.1,156.3 299.7,156.3 299.7,154.3 300.3,154.3 300.3,154.4 300.9,154.4 300.9,155.3 301.5,155.3 301.5,155.4 302.1,155.4 302.1,155.1 302.7,155.1 302.7,156.1 303.3,156.1 303.3,153.9 303.9,153.9 303.9,155.1 304.5,155.1 304.5,154.8 305.1,154.8 305.1,154.9 305.7,154.9 305.7,156 306.3,156 306.3,154.6 306.9,154.6 306.9,153.9 307.5,153.9 307.5,153.8 308.1,153.8 308.1,155.3 308.7,155.3 308.7,155.2 309.3,155.2 309.3,153.8 309.9,153.8 309.9,154.3 310.5,154.3 310.5,154.6 311.1,154.6 311.1,154.6 311.7,154.6 311.7,154.1 312.3,154.1 312.3,155.6 312.9,155.6 312.9,155.5 313.5,155.5 313.5,155.5 314.1,155.5 314.1,156.3 314.7,156.3 314.7,155.7 315.3,155.7 315.3,161.4" fill="#c0dd16" fill-opacity="0.42"/>
<polygon points="295.5,161.4 295.5,159.8 296.3,159.8 296.3,158.2 297.1,158.2 297.1,157.6 297.9,157.6 297.9,157.5 298.7,157.5 298.7,157.8 299.5,157.8 299.5,157.1 300.3,157.1 300.3,157.7 301.1,157.7 301.1,157.9 301.9,157.9 301.9,157.1 302.7,157.1 302.7,157.9 303.5,157.9 303.5,157.6 304.3,157.6 304.3,156.9 305.1,156.9 305.1,157.7 305.9,157.7 305.9,157.4 306.7,157.4 306.7,157.2 307.5,157.2 307.5,157.3 308.3,157.3 308.3,157.4 309.1,157.4 309.1,157.1 309.9,157.1 309.9,157.8 310.7,157.8 310.7,157.6 311.5,157.6 311.5,157.7 312.3,157.7 312.3,156.9 313.1,156.9 313.1,157 313.9,157 313.9,157.9 314.7,157.9 314.7,158.5 315.3,158.5 315.3,161.4" fill="#c0dd16"/>
<line x1="309.8" y1="157.9" x2="309.8" y2="154" stroke="#bac93c" stroke-width="0.7" stroke-opacity="0.5"/>
<line x1="310.1" y1="157.9" x2="310.1" y2="152.9" stroke="#bac93c" stroke-width="0.7" stroke-opacity="0.5"/>
<line x1="297" y1="157.9" x2="297" y2="155.5" stroke="#bac93c" stroke-width="0.7" stroke-opacity="0.5"/>
<line x1="300.1" y1="157.9" x2="300.1" y2="155.3" stroke="#bac93c" stroke-width="0.7" stroke-opacity="0.5"/>
<line x1="298" y1="157.9" x2="298" y2="155" stroke="#bac93c" stroke-width="0.7" stroke-opacity="0.5"/>
<line x1="304.2" y1="157.9" x2="304.2" y2="154.5" stroke="#bac93c" stroke-width="0.7" stroke-opacity="0.5"/>
<line x1="299" y1="157.9" x2="299" y2="153.9" stroke="#bac93c" stroke-width="0.7" stroke-opacity="0.5"/>
<line x1="307.8" y1="157.9" x2="307.8" y2="155.1" stroke="#bac93c" stroke-width="0.7" stroke-opacity="0.5"/>
<line x1="314.6" y1="157.9" x2="314.6" y2="153.4" stroke="#bac93c" stroke-width="0.7" stroke-opacity="0.5"/>
<line x1="313.9" y1="157.9" x2="313.9" y2="154.3" stroke="#bac93c" stroke-width="0.7" stroke-opacity="0.5"/>
<line x1="310.3" y1="157.9" x2="310.3" y2="153.5" stroke="#bac93c" stroke-width="0.7" stroke-opacity="0.5"/>
<line x1="313.1" y1="157.9" x2="313.1" y2="154.9" stroke="#bac93c" stroke-width="0.7" stroke-opacity="0.5"/>
<polygon points="315.6,161.4 315.6,156.8 316.2,156.8 316.2,154.9 316.8,154.9 316.8,156.1 317.4,156.1 317.4,155.3 318,155.3 318,155.7 318.6,155.7 318.6,156.3 319.2,156.3 319.2,153.9 319.8,153.9 319.8,156.4 320.4,156.4 320.4,155 321,155 321,155 321.6,155 321.6,154.2 322.2,154.2 322.2,153.8 322.8,153.8 322.8,154.5 323.4,154.5 323.4,155.1 324,155.1 324,154.1 324.6,154.1 324.6,155.9 325.2,155.9 325.2,154.7 325.8,154.7 325.8,155.6 326.4,155.6 326.4,154 327,154 327,156.2 327.6,156.2 327.6,154.8 328.2,154.8 328.2,155.7 328.8,155.7 328.8,153.9 329.4,153.9 329.4,155.9 330,155.9 330,154.5 330.6,154.5 330.6,156.4 331.2,156.4 331.2,155.8 331.8,155.8 331.8,155.4 332.4,155.4 332.4,154.7 333,154.7 333,154.4 333.6,154.4 333.6,155.2 334.2,155.2 334.2,156 334.8,156 334.8,155.6 335.4,155.6 335.4,156.7 336,156.7 336,155.4 336.3,155.4 336.3,161.4" fill="#5cb02e" fill-opacity="0.42"/>
<polygon points="315.6,161.4 315.6,159.3 316.4,159.3 316.4,158.4 317.2,158.4 317.2,157.2 318,157.2 318,157.3 318.8,157.3 318.8,157.4 319.6,157.4 319.6,157.5 320.4,157.5 320.4,157.3 321.2,157.3 321.2,157.9 322,157.9 322,157.2 322.8,157.2 322.8,157.6 323.6,157.6 323.6,157.6 324.4,157.6 324.4,157.8 325.2,157.8 325.2,156.9 326,156.9 326,157.5 326.8,157.5 326.8,157.9 327.6,157.9 327.6,156.9 328.4,156.9 328.4,157.1 329.2,157.1 329.2,157.1 330,157.1 330,157.8 330.8,157.8 330.8,157.7 331.6,157.7 331.6,157.2 332.4,157.2 332.4,157.3 333.2,157.3 333.2,157.2 334,157.2 334,157.2 334.8,157.2 334.8,157.3 335.6,157.3 335.6,158.1 336.3,158.1 336.3,161.4" fill="#5cb02e"/>
<line x1="333.3" y1="157.9" x2="333.3" y2="153.5" stroke="#6a945c" stroke-width="0.7" stroke-opacity="0.5"/>
<line x1="318.7" y1="157.9" x2="318.7" y2="154.1" stroke="#6a945c" stroke-width="0.7" stroke-opacity="0.5"/>
<line x1="326.1" y1="157.9" x2="326.1" y2="154.5" stroke="#6a945c" stroke-width="0.7" stroke-opacity="0.5"/>
<line x1="334.7" y1="157.9" x2="334.7" y2="154" stroke="#6a945c" stroke-width="0.7" stroke-opacity="0.5"/>
<line x1="333.3" y1="157.9" x2="333.3" y2="152.2" stroke="#6a945c" stroke-width="0.7" stroke-opacity="0.5"/>
<line x1="331.7" y1="157.9" x2="331.7" y2="155.6" stroke="#6a945c" stroke-width="0.7" stroke-opacity="0.5"/>
<line x1="328.3" y1="157.9" x2="328.3" y2="154.8" stroke="#6a945c" stroke-width="0.7" stroke-opacity="0.5"/>
<line x1="330.7" y1="157.9" x2="330.7" y2="155.5" stroke="#6a945c" stroke-width="0.7" stroke-opacity="0.5"/>
<line x1="316.1" y1="157.9" x2="316.1" y2="153.3" stroke="#6a945c" stroke-width="0.7" stroke-opacity="0.5"/>
<line x1="329" y1="157.9" x2="329" y2="153.5" stroke="#6a945c" stroke-width="0.7" stroke-opacity="0.5"/>
<line x1="318.1" y1="157.9" x2="318.1" y2="153.4" stroke="#6a945c" stroke-width="0.7" stroke-opacity="0.5"/>
<line x1="333.8" y1="157.9" x2="333.8" y2="152.3" stroke="#6a945c" stroke-width="0.7" stroke-opacity="0.5"/>
<polygon points="336.3,161.4 336.3,156.4 336.9,156.4 336.9,156.4 337.5,156.4 337.5,154.4 338.1,154.4 338.1,154 338.7,154 338.7,154.3 339.3,154.3 339.3,155.2 339.9,155.2 339.9,156.1 340.5,156.1 340.5,155.3 341.1,155.3 341.1,154.4 341.7,154.4 341.7,155.8 342.3,155.8 342.3,155.4 342.9,155.4 342.9,155.5 343.5,155.5 343.5,154.4 344.1,154.4 344.1,155.6 344.7,155.6 344.7,154.9 345.3,154.9 345.3,155.7 345.9,155.7 345.9,153.9 346.5,153.9 346.5,155.9 347.1,155.9 347.1,154.2 347.7,154.2 347.7,155.4 348.3,155.4 348.3,154.5 348.9,154.5 348.9,154 349.5,154 349.5,156.1 350.1,156.1 350.1,155.9 350.7,155.9 350.7,155.9 351.3,155.9 351.3,155.9 351.9,155.9 351.9,154.5 352.5,154.5 352.5,155.7 353.1,155.7 353.1,155 353.7,155 353.7,156.1 354.3,156.1 354.3,155.1 354.9,155.1 354.9,155.6 355.5,155.6 355.5,155.1 356.1,155.1 356.1,156.5 356.5,156.5 356.5,161.4" fill="#c0dd16" fill-opacity="0.42"/>
<polygon points="336.3,161.4 336.3,159.7 337.1,159.7 337.1,158.4 337.9,158.4 337.9,157.7 338.7,157.7 338.7,157.9 339.5,157.9 339.5,157.4 340.3,157.4 340.3,157.3 341.1,157.3 341.1,157.1 341.9,157.1 341.9,157.2 342.7,157.2 342.7,157.9 343.5,157.9 343.5,157.5 344.3,157.5 344.3,157.6 345.1,157.6 345.1,157 345.9,157 345.9,157.2 346.7,157.2 346.7,157.7 347.5,157.7 347.5,157.3 348.3,157.3 348.3,157.1 349.1,157.1 349.1,157.2 349.9,157.2 349.9,157.3 350.7,157.3 350.7,157.3 351.5,157.3 351.5,156.9 352.3,156.9 352.3,157 353.1,157 353.1,157.5 353.9,157.5 353.9,156.9 354.7,156.9 354.7,157.1 355.5,157.1 355.5,158.2 356.3,158.2 356.3,159.1 356.5,159.1 356.5,161.4" fill="#c0dd16"/>
<line x1="337.3" y1="157.9" x2="337.3" y2="152.6" stroke="#bac93c" stroke-width="0.7" stroke-opacity="0.5"/>
<line x1="338.8" y1="157.9" x2="338.8" y2="154.9" stroke="#bac93c" stroke-width="0.7" stroke-opacity="0.5"/>
<line x1="354.1" y1="157.9" x2="354.1" y2="152" stroke="#bac93c" stroke-width="0.7" stroke-opacity="0.5"/>
<line x1="340.6" y1="157.9" x2="340.6" y2="154" stroke="#bac93c" stroke-width="0.7" stroke-opacity="0.5"/>
<line x1="343.4" y1="157.9" x2="343.4" y2="153.1" stroke="#bac93c" stroke-width="0.7" stroke-opacity="0.5"/>
<line x1="346" y1="157.9" x2="346" y2="153.5" stroke="#bac93c" stroke-width="0.7" stroke-opacity="0.5"/>
<line x1="350.2" y1="157.9" x2="350.2" y2="151.6" stroke="#bac93c" stroke-width="0.7" stroke-opacity="0.5"/>
<line x1="343.2" y1="157.9" x2="343.2" y2="155.7" stroke="#bac93c" stroke-width="0.7" stroke-opacity="0.5"/>
<line x1="342.3" y1="157.9" x2="342.3" y2="155.7" stroke="#bac93c" stroke-width="0.7" stroke-opacity="0.5"/>
<line x1="337.9" y1="157.9" x2="337.9" y2="155.6" stroke="#bac93c" stroke-width="0.7" stroke-opacity="0.5"/>
<line x1="341.4" y1="157.9" x2="341.4" y2="153.8" stroke="#bac93c" stroke-width="0.7" stroke-opacity="0.5"/>
<line x1="338.9" y1="157.9" x2="338.9" y2="154.5" stroke="#bac93c" stroke-width="0.7" stroke-opacity="0.5"/>
<polygon points="359.8,161.4 359.8,155.8 360.4,155.8 360.4,155.9 361,155.9 361,155.8 361.6,155.8 361.6,154.5 362.2,154.5 362.2,154.1 362.8,154.1 362.8,154 363.4,154 363.4,155.3 364,155.3 364,154.5 364.6,154.5 364.6,154.5 365.2,154.5 365.2,155.6 365.8,155.6 365.8,155.9 366.4,155.9 366.4,154.6 367,154.6 367,156.3 367.6,156.3 367.6,156.3 368.2,156.3 368.2,153.8 368.8,153.8 368.8,155 369.4,155 369.4,155.4 370,155.4 370,155.1 370.6,155.1 370.6,155.9 371.2,155.9 371.2,156 371.8,156 371.8,155.4 372.4,155.4 372.4,154.5 373,154.5 373,154.1 373.6,154.1 373.6,156.6 374.2,156.6 374.2,156.4 374.8,156.4 374.8,161.4" fill="#5cb02e" fill-opacity="0.42"/>
<polygon points="359.8,161.4 359.8,159 360.6,159 360.6,158.3 361.4,158.3 361.4,157 362.2,157 362.2,157.5 363,157.5 363,157.2 363.8,157.2 363.8,157 364.6,157 364.6,157.4 365.4,157.4 365.4,157.8 366.2,157.8 366.2,157.9 367,157.9 367,157.8 367.8,157.8 367.8,157.3 368.6,157.3 368.6,157 369.4,157 369.4,157.7 370.2,157.7 370.2,157.5 371,157.5 371,157.8 371.8,157.8 371.8,157.6 372.6,157.6 372.6,157.6 373.4,157.6 373.4,158.1 374.2,158.1 374.2,158.4 374.8,158.4 374.8,161.4" fill="#5cb02e"/>
<line x1="371.5" y1="157.9" x2="371.5" y2="154.9" stroke="#6a945c" stroke-width="0.7" stroke-opacity="0.5"/>
<line x1="373" y1="157.9" x2="373" y2="152" stroke="#6a945c" stroke-width="0.7" stroke-opacity="0.5"/>
<line x1="372.3" y1="157.9" x2="372.3" y2="153.6" stroke="#6a945c" stroke-width="0.7" stroke-opacity="0.5"/>
<line x1="364.5" y1="157.9" x2="364.5" y2="152.8" stroke="#6a945c" stroke-width="0.7" stroke-opacity="0.5"/>
<line x1="365" y1="157.9" x2="365" y2="151.6" stroke="#6a945c" stroke-width="0.7" stroke-opacity="0.5"/>
<line x1="373.1" y1="157.9" x2="373.1" y2="155.1" stroke="#6a945c" stroke-width="0.7" stroke-opacity="0.5"/>
<line x1="372.7" y1="157.9" x2="372.7" y2="155.5" stroke="#6a945c" stroke-width="0.7" stroke-opacity="0.5"/>
<line x1="364.4" y1="157.9" x2="364.4" y2="154.7" stroke="#6a945c" stroke-width="0.7" stroke-opacity="0.5"/>
<line x1="372.8" y1="157.9" x2="372.8" y2="153.1" stroke="#6a945c" stroke-width="0.7" stroke-opacity="0.5"/>
<polygon points="377,161.4 377,156.1 377.6,156.1 377.6,155.4 378.2,155.4 378.2,155.5 378.8,155.5 378.8,155.7 379.4,155.7 379.4,156 380,156 380,154.4 380.6,154.4 380.6,155.4 381.2,155.4 381.2,155.3 381.8,155.3 381.8,155.9 382.4,155.9 382.4,153.8 383,153.8 383,155.9 383.6,155.9 383.6,156.4 384.2,156.4 384.2,155.5 384.8,155.5 384.8,155.8 385.4,155.8 385.4,155.7 386,155.7 386,156.2 386.6,156.2 386.6,154.2 387.2,154.2 387.2,155.2 387.8,155.2 387.8,154.4 388.4,154.4 388.4,154.7 389,154.7 389,156.2 389.6,156.2 389.6,154.2 390.2,154.2 390.2,155.6 390.8,155.6 390.8,154.7 391.4,154.7 391.4,156.3 392,156.3 392,161.4" fill="#c0dd16" fill-opacity="0.42"/>
<polygon points="377,161.4 377,159.5 377.8,159.5 377.8,158.8 378.6,158.8 378.6,157.8 379.4,157.8 379.4,157.8 380.2,157.8 380.2,157.4 381,157.4 381,157 381.8,157 381.8,157.8 382.6,157.8 382.6,157 383.4,157 383.4,157.6 384.2,157.6 384.2,157 385,157 385,157.6 385.8,157.6 385.8,157.7 386.6,157.7 386.6,157.7 387.4,157.7 387.4,157 388.2,157 388.2,157.1 389,157.1 389,157.8 389.8,157.8 389.8,157.4 390.6,157.4 390.6,157.5 391.4,157.5 391.4,158.6 392,158.6 392,161.4" fill="#c0dd16"/>
<line x1="385.4" y1="157.9" x2="385.4" y2="153.6" stroke="#bac93c" stroke-width="0.7" stroke-opacity="0.5"/>
<line x1="379.1" y1="157.9" x2="379.1" y2="155.5" stroke="#bac93c" stroke-width="0.7" stroke-opacity="0.5"/>
<line x1="377.7" y1="157.9" x2="377.7" y2="155.6" stroke="#bac93c" stroke-width="0.7" stroke-opacity="0.5"/>
<line x1="382.4" y1="157.9" x2="382.4" y2="154.4" stroke="#bac93c" stroke-width="0.7" stroke-opacity="0.5"/>
<line x1="380" y1="157.9" x2="380" y2="153.5" stroke="#bac93c" stroke-width="0.7" stroke-opacity="0.5"/>
<line x1="385.4" y1="157.9" x2="385.4" y2="154.1" stroke="#bac93c" stroke-width="0.7" stroke-opacity="0.5"/>
<line x1="387.9" y1="157.9" x2="387.9" y2="151.5" stroke="#bac93c" stroke-width="0.7" stroke-opacity="0.5"/>
<line x1="379.3" y1="157.9" x2="379.3" y2="151.8" stroke="#bac93c" stroke-width="0.7" stroke-opacity="0.5"/>
<line x1="381.7" y1="157.9" x2="381.7" y2="153.5" stroke="#bac93c" stroke-width="0.7" stroke-opacity="0.5"/>
<polygon points="394,161.4 394,156.8 394.6,156.8 394.6,154.9 395.2,154.9 395.2,154.3 395.8,154.3 395.8,156 396.4,156 396.4,156.3 397,156.3 397,155 397.6,155 397.6,155.4 398.2,155.4 398.2,154.6 398.8,154.6 398.8,154.6 399.4,154.6 399.4,154.2 400,154.2 400,154.6 400.6,154.6 400.6,154.7 401.2,154.7 401.2,156.3 401.8,156.3 401.8,155.1 402.4,155.1 402.4,154.5 403,154.5 403,154.7 403.6,154.7 403.6,154.4 404.2,154.4 404.2,155.3 404.8,155.3 404.8,154.9 405.3,154.9 405.3,161.4" fill="#5cb02e" fill-opacity="0.42"/>
<polygon points="394,161.4 394,159.1 394.8,159.1 394.8,157.9 395.6,157.9 395.6,157 396.4,157 396.4,157.8 397.2,157.8 397.2,157 398,157 398,157.8 398.8,157.8 398.8,157.3 399.6,157.3 399.6,157 400.4,157 400.4,157.6 401.2,157.6 401.2,157.3 402,157.3 402,157.3 402.8,157.3 402.8,157.1 403.6,157.1 403.6,157.1 404.4,157.1 404.4,158.5 405.2,158.5 405.2,159.5 405.3,159.5 405.3,161.4" fill="#5cb02e"/>
<line x1="402.8" y1="157.9" x2="402.8" y2="155.5" stroke="#6a945c" stroke-width="0.7" stroke-opacity="0.5"/>
<line x1="403.7" y1="157.9" x2="403.7" y2="155.7" stroke="#6a945c" stroke-width="0.7" stroke-opacity="0.5"/>
<line x1="399.9" y1="157.9" x2="399.9" y2="152.7" stroke="#6a945c" stroke-width="0.7" stroke-opacity="0.5"/>
<line x1="395.5" y1="157.9" x2="395.5" y2="154.4" stroke="#6a945c" stroke-width="0.7" stroke-opacity="0.5"/>
<line x1="399.9" y1="157.9" x2="399.9" y2="154.9" stroke="#6a945c" stroke-width="0.7" stroke-opacity="0.5"/>
<line x1="400.5" y1="157.9" x2="400.5" y2="155.3" stroke="#6a945c" stroke-width="0.7" stroke-opacity="0.5"/>
<line x1="395.2" y1="157.9" x2="395.2" y2="155.3" stroke="#6a945c" stroke-width="0.7" stroke-opacity="0.5"/>
<polygon points="405.3,161.4 405.3,155.9 405.9,155.9 405.9,155 406.5,155 406.5,156.1 407.1,156.1 407.1,156.3 407.7,156.3 407.7,155.4 408.3,155.4 408.3,154.7 408.9,154.7 408.9,153.8 409.5,153.8 409.5,155.5 410.1,155.5 410.1,155.2 410.7,155.2 410.7,154.4 411.3,154.4 411.3,156.1 411.9,156.1 411.9,154 412.5,154 412.5,154.5 413.1,154.5 413.1,155.6 413.7,155.6 413.7,157.8 414.3,157.8 414.3,156.2 414.9,156.2 414.9,155.5 415.5,155.5 415.5,154.4 416.1,154.4 416.1,155.6 416.7,155.6 416.7,154.2 417.3,154.2 417.3,154.5 417.9,154.5 417.9,155.2 418.5,155.2 418.5,154.4 419.1,154.4 419.1,155.6 419.7,155.6 419.7,154.8 420.3,154.8 420.3,155.5 420.5,155.5 420.5,161.4" fill="#c0dd16" fill-opacity="0.42"/>
<polygon points="405.3,161.4 405.3,159.1 406.1,159.1 406.1,158.2 406.9,158.2 406.9,157.4 407.7,157.4 407.7,157.2 408.5,157.2 408.5,157.4 409.3,157.4 409.3,157.5 410.1,157.5 410.1,157.7 410.9,157.7 410.9,157.4 411.7,157.4 411.7,157.4 412.5,157.4 412.5,158.2 413.3,158.2 413.3,160.5 414.1,160.5 414.1,161 414.9,161 414.9,158.2 415.7,158.2 415.7,157 416.5,157 416.5,157.6 417.3,157.6 417.3,157.1 418.1,157.1 418.1,157.2 418.9,157.2 418.9,157.8 419.7,157.8 419.7,158.4 420.5,158.4 420.5,161.4" fill="#c0dd16"/>
<line x1="406.8" y1="157.9" x2="406.8" y2="154.8" stroke="#bac93c" stroke-width="0.7" stroke-opacity="0.5"/>
<line x1="414.4" y1="157.9" x2="414.4" y2="153.1" stroke="#bac93c" stroke-width="0.7" stroke-opacity="0.5"/>
<line x1="418.1" y1="157.9" x2="418.1" y2="153.7" stroke="#bac93c" stroke-width="0.7" stroke-opacity="0.5"/>
<line x1="419.5" y1="157.9" x2="419.5" y2="154.6" stroke="#bac93c" stroke-width="0.7" stroke-opacity="0.5"/>
<line x1="414" y1="157.9" x2="414" y2="152.4" stroke="#bac93c" stroke-width="0.7" stroke-opacity="0.5"/>
<line x1="409.5" y1="157.9" x2="409.5" y2="151.6" stroke="#bac93c" stroke-width="0.7" stroke-opacity="0.5"/>
<line x1="407.3" y1="157.9" x2="407.3" y2="153.5" stroke="#bac93c" stroke-width="0.7" stroke-opacity="0.5"/>
<line x1="413.2" y1="157.9" x2="413.2" y2="152.7" stroke="#bac93c" stroke-width="0.7" stroke-opacity="0.5"/>
<line x1="411.9" y1="157.9" x2="411.9" y2="154.9" stroke="#bac93c" stroke-width="0.7" stroke-opacity="0.5"/>
<polygon points="420.5,161.4 420.5,156.5 421.1,156.5 421.1,157.3 421.7,157.3 421.7,154.4 422.3,154.4 422.3,154.3 422.9,154.3 422.9,154.4 423.5,154.4 423.5,155.2 424.1,155.2 424.1,156 424.7,156 424.7,153.9 425.3,153.9 425.3,156.2 425.9,156.2 425.9,154.3 426.5,154.3 426.5,154.8 427.1,154.8 427.1,155.5 427.7,155.5 427.7,154 428.3,154 428.3,154.8 428.9,154.8 428.9,156.4 429.5,156.4 429.5,154 430.1,154 430.1,153.9 430.7,153.9 430.7,154.7 431.3,154.7 431.3,155.8 431.9,155.8 431.9,155.7 432.5,155.7 432.5,155.5 433.1,155.5 433.1,156.3 433.7,156.3 433.7,156.3 434.2,156.3 434.2,161.4" fill="#5cb02e" fill-opacity="0.42"/>
<polygon points="420.5,161.4 420.5,159.7 421.3,159.7 421.3,158.2 422.1,158.2 422.1,157.1 422.9,157.1 422.9,157.6 423.7,157.6 423.7,157.7 424.5,157.7 424.5,157 425.3,157 425.3,157.8 426.1,157.8 426.1,157.5 426.9,157.5 426.9,157.4 427.7,157.4 427.7,157.8 428.5,157.8 428.5,157.2 429.3,157.2 429.3,157.3 430.1,157.3 430.1,157.1 430.9,157.1 430.9,157.6 431.7,157.6 431.7,157 432.5,157 432.5,157.2 433.3,157.2 433.3,158 434.1,158 434.1,159.2 434.2,159.2 434.2,161.4" fill="#5cb02e"/>
<line x1="429.3" y1="157.9" x2="429.3" y2="154.3" stroke="#6a945c" stroke-width="0.7" stroke-opacity="0.5"/>
<line x1="425.6" y1="157.9" x2="425.6" y2="151.5" stroke="#6a945c" stroke-width="0.7" stroke-opacity="0.5"/>
<line x1="424.3" y1="157.9" x2="424.3" y2="155.1" stroke="#6a945c" stroke-width="0.7" stroke-opacity="0.5"/>
<line x1="423" y1="157.9" x2="423" y2="155.6" stroke="#6a945c" stroke-width="0.7" stroke-opacity="0.5"/>
<line x1="424.4" y1="157.9" x2="424.4" y2="151.8" stroke="#6a945c" stroke-width="0.7" stroke-opacity="0.5"/>
<line x1="423.9" y1="157.9" x2="423.9" y2="152.4" stroke="#6a945c" stroke-width="0.7" stroke-opacity="0.5"/>
<line x1="428.8" y1="157.9" x2="428.8" y2="154.8" stroke="#6a945c" stroke-width="0.7" stroke-opacity="0.5"/>
<line x1="425.6" y1="157.9" x2="425.6" y2="153.8" stroke="#6a945c" stroke-width="0.7" stroke-opacity="0.5"/>
<polygon points="434.2,161.4 434.2,156.8 434.8,156.8 434.8,154.7 435.4,154.7 435.4,155.1 436,155.1 436,156.3 436.6,156.3 436.6,156 437.2,156 437.2,154.1 437.8,154.1 437.8,156.3 438.4,156.3 438.4,156.1 439,156.1 439,155.3 439.6,155.3 439.6,154 440.2,154 440.2,155.5 440.8,155.5 440.8,155.4 441.4,155.4 441.4,154.4 442,154.4 442,154.7 442.6,154.7 442.6,154.4 443.2,154.4 443.2,155.6 443.8,155.6 443.8,155.9 444.4,155.9 444.4,154.2 445,154.2 445,155.8 445.6,155.8 445.6,154.5 446.2,154.5 446.2,154.8 446.8,154.8 446.8,156.6 447.2,156.6 447.2,161.4" fill="#c0dd16" fill-opacity="0.42"/>
<polygon points="434.2,161.4 434.2,159.2 435,159.2 435,158.6 435.8,158.6 435.8,157.3 436.6,157.3 436.6,157.8 437.4,157.8 437.4,157.6 438.2,157.6 438.2,157.3 439,157.3 439,157.2 439.8,157.2 439.8,157.3 440.6,157.3 440.6,157.3 441.4,157.3 441.4,157.3 442.2,157.3 442.2,157.9 443,157.9 443,157.1 443.8,157.1 443.8,156.9 444.6,156.9 444.6,157.2 445.4,157.2 445.4,157 446.2,157 446.2,157.6 447,157.6 447,159.3 447.2,159.3 447.2,161.4" fill="#c0dd16"/>
<line x1="438" y1="157.9" x2="438" y2="152.1" stroke="#bac93c" stroke-width="0.7" stroke-opacity="0.5"/>
<line x1="434.6" y1="157.9" x2="434.6" y2="154.7" stroke="#bac93c" stroke-width="0.7" stroke-opacity="0.5"/>
<line x1="437.9" y1="157.9" x2="437.9" y2="154.5" stroke="#bac93c" stroke-width="0.7" stroke-opacity="0.5"/>
<line x1="438.9" y1="157.9" x2="438.9" y2="154.5" stroke="#bac93c" stroke-width="0.7" stroke-opacity="0.5"/>
<line x1="444.8" y1="157.9" x2="444.8" y2="153.3" stroke="#bac93c" stroke-width="0.7" stroke-opacity="0.5"/>
<line x1="443.4" y1="157.9" x2="443.4" y2="152.2" stroke="#bac93c" stroke-width="0.7" stroke-opacity="0.5"/>
<line x1="441.7" y1="157.9" x2="441.7" y2="155.5" stroke="#bac93c" stroke-width="0.7" stroke-opacity="0.5"/>
<line x1="441.3" y1="157.9" x2="441.3" y2="153.3" stroke="#bac93c" stroke-width="0.7" stroke-opacity="0.5"/>
<polygon points="447.2,161.4 447.2,157.8 447.8,157.8 447.8,156.6 448.4,156.6 448.4,154.5 449,154.5 449,155 449.6,155 449.6,155.8 450.2,155.8 450.2,155.6 450.8,155.6 450.8,155.1 451.4,155.1 451.4,154.1 452,154.1 452,156.3 452.6,156.3 452.6,155.1 453.2,155.1 453.2,155.9 453.8,155.9 453.8,156 454.4,156 454.4,156.3 455,156.3 455,155.3 455.6,155.3 455.6,156.2 456.2,156.2 456.2,155.6 456.3,155.6 456.3,161.4" fill="#5cb02e" fill-opacity="0.42"/>
<polygon points="447.2,161.4 447.2,159.7 448,159.7 448,158.7 448.8,158.7 448.8,157.7 449.6,157.7 449.6,157.4 450.4,157.4 450.4,157.5 451.2,157.5 451.2,157.3 452,157.3 452,157.1 452.8,157.1 452.8,157.1 453.6,157.1 453.6,157.3 454.4,157.3 454.4,157.2 455.2,157.2 455.2,157.7 456,157.7 456,158.8 456.3,158.8 456.3,161.4" fill="#5cb02e"/>
<line x1="455.3" y1="157.9" x2="455.3" y2="153.6" stroke="#6a945c" stroke-width="0.7" stroke-opacity="0.5"/>
<line x1="455.5" y1="157.9" x2="455.5" y2="154.3" stroke="#6a945c" stroke-width="0.7" stroke-opacity="0.5"/>
<line x1="449.6" y1="157.9" x2="449.6" y2="152.3" stroke="#6a945c" stroke-width="0.7" stroke-opacity="0.5"/>
<line x1="451" y1="157.9" x2="451" y2="154.7" stroke="#6a945c" stroke-width="0.7" stroke-opacity="0.5"/>
<line x1="452.1" y1="157.9" x2="452.1" y2="153.5" stroke="#6a945c" stroke-width="0.7" stroke-opacity="0.5"/>
<polygon points="456.3,161.4 456.3,156.6 456.9,156.6 456.9,155.4 457.5,155.4 457.5,155.6 458.1,155.6 458.1,154.2 458.7,154.2 458.7,155.8 459.3,155.8 459.3,155.9 459.9,155.9 459.9,154 460.5,154 460.5,155.5 461.1,155.5 461.1,155.7 461.7,155.7 461.7,155.3 462.3,155.3 462.3,156.4 462.9,156.4 462.9,156 463.5,156 463.5,155.7 464.1,155.7 464.1,153.9 464.7,153.9 464.7,155.1 465.3,155.1 465.3,155.1 465.9,155.1 465.9,156.4 466.5,156.4 466.5,155.8 467.1,155.8 467.1,156.1 467.4,156.1 467.4,161.4" fill="#c0dd16" fill-opacity="0.42"/>
<polygon points="456.3,161.4 456.3,159.2 457.1,159.2 457.1,158.7 457.9,158.7 457.9,157 458.7,157 458.7,157.2 459.5,157.2 459.5,157.1 460.3,157.1 460.3,157.7 461.1,157.7 461.1,157.1 461.9,157.1 461.9,157.8 462.7,157.8 462.7,157.7 463.5,157.7 463.5,157.4 464.3,157.4 464.3,157.9 465.1,157.9 465.1,157.1 465.9,157.1 465.9,157.8 466.7,157.8 466.7,158.3 467.4,158.3 467.4,161.4" fill="#c0dd16"/>
<line x1="463.5" y1="157.9" x2="463.5" y2="151.9" stroke="#bac93c" stroke-width="0.7" stroke-opacity="0.5"/>
<line x1="459.4" y1="157.9" x2="459.4" y2="151.6" stroke="#bac93c" stroke-width="0.7" stroke-opacity="0.5"/>
<line x1="462.2" y1="157.9" x2="462.2" y2="155.6" stroke="#bac93c" stroke-width="0.7" stroke-opacity="0.5"/>
<line x1="466.5" y1="157.9" x2="466.5" y2="153.8" stroke="#bac93c" stroke-width="0.7" stroke-opacity="0.5"/>
<line x1="466" y1="157.9" x2="466" y2="153.8" stroke="#bac93c" stroke-width="0.7" stroke-opacity="0.5"/>
<line x1="464.2" y1="157.9" x2="464.2" y2="154.2" stroke="#bac93c" stroke-width="0.7" stroke-opacity="0.5"/>
<polygon points="468.6,161.4 468.6,155.5 469.2,155.5 469.2,155.3 469.8,155.3 469.8,155.3 470.4,155.3 470.4,154.8 471,154.8 471,155.8 471.6,155.8 471.6,155.8 472.2,155.8 472.2,154 472.8,154 472.8,155.6 473.4,155.6 473.4,155.8 474,155.8 474,156.1 474.6,156.1 474.6,156.5 475.1,156.5 475.1,161.4" fill="#5cb02e" fill-opacity="0.42"/>
<polygon points="468.6,161.4 468.6,159 469.4,159 469.4,158.2 470.2,158.2 470.2,157.2 471,157.2 471,157 471.8,157 471.8,157.3 472.6,157.3 472.6,157.3 473.4,157.3 473.4,157.4 474.2,157.4 474.2,158.3 475,158.3 475,158.8 475.1,158.8 475.1,161.4" fill="#5cb02e"/>
<line x1="471.7" y1="157.9" x2="471.7" y2="153" stroke="#6a945c" stroke-width="0.7" stroke-opacity="0.5"/>
<line x1="474.4" y1="157.9" x2="474.4" y2="153.2" stroke="#6a945c" stroke-width="0.7" stroke-opacity="0.5"/>
<line x1="472.5" y1="157.9" x2="472.5" y2="153.8" stroke="#6a945c" stroke-width="0.7" stroke-opacity="0.5"/>
<line x1="469.8" y1="157.9" x2="469.8" y2="154.9" stroke="#6a945c" stroke-width="0.7" stroke-opacity="0.5"/>
<polygon points="477,161.4 477,155.4 477.6,155.4 477.6,155 478.2,155 478.2,155.1 478.8,155.1 478.8,155.5 479.4,155.5 479.4,154.6 480,154.6 480,156.1 480.6,156.1 480.6,154.8 481.2,154.8 481.2,153.9 481.8,153.9 481.8,153.9 482.4,153.9 482.4,154.2 483,154.2 483,156.1 483.6,156.1 483.6,156 484.2,156 484.2,157.1 484.3,157.1 484.3,161.4" fill="#c0dd16" fill-opacity="0.42"/>
<polygon points="477,161.4 477,158.9 477.8,158.9 477.8,158.1 478.6,158.1 478.6,156.9 479.4,156.9 479.4,157.6 480.2,157.6 480.2,157.5 481,157.5 481,157.1 481.8,157.1 481.8,157.3 482.6,157.3 482.6,157.6 483.4,157.6 483.4,158.6 484.2,158.6 484.2,159.6 484.3,159.6 484.3,161.4" fill="#c0dd16"/>
<line x1="477.5" y1="157.9" x2="477.5" y2="155.4" stroke="#bac93c" stroke-width="0.7" stroke-opacity="0.5"/>
<line x1="479.6" y1="157.9" x2="479.6" y2="153.7" stroke="#bac93c" stroke-width="0.7" stroke-opacity="0.5"/>
<line x1="483.9" y1="157.9" x2="483.9" y2="155.6" stroke="#bac93c" stroke-width="0.7" stroke-opacity="0.5"/>
<line x1="477.7" y1="157.9" x2="477.7" y2="155.7" stroke="#bac93c" stroke-width="0.7" stroke-opacity="0.5"/>
<polygon points="484.9,161.4 484.9,155.9 485.5,155.9 485.5,155.5 486.1,155.5 486.1,155.8 486.7,155.8 486.7,155.1 487.3,155.1 487.3,154.2 487.9,154.2 487.9,155.9 488.5,155.9 488.5,154 489.1,154 489.1,155.9 489.7,155.9 489.7,154.4 490.3,154.4 490.3,154 490.9,154 490.9,156.3 491.5,156.3 491.5,155.7 492.1,155.7 492.1,155.5 492.7,155.5 492.7,154 493.3,154 493.3,156.1 493.9,156.1 493.9,154 494.5,154 494.5,155 495.1,155 495.1,156.1 495.7,156.1 495.7,154.3 496.3,154.3 496.3,155.7 496.9,155.7 496.9,156.3 497.5,156.3 497.5,154.6 498.1,154.6 498.1,155.2 498.7,155.2 498.7,154 499.3,154 499.3,153.9 499.9,153.9 499.9,154.1 500.5,154.1 500.5,156.3 501.1,156.3 501.1,155.4 501.7,155.4 501.7,154 502.3,154 502.3,154.7 502.9,154.7 502.9,155.1 503.5,155.1 503.5,155 504.1,155 504.1,154 504.7,154 504.7,154 505.3,154 505.3,155.4 505.9,155.4 505.9,153.8 506.5,153.8 506.5,155.5 507.1,155.5 507.1,154.9 507.5,154.9 507.5,161.4" fill="#5cb02e" fill-opacity="0.42"/>
<polygon points="484.9,161.4 484.9,159.2 485.7,159.2 485.7,157.9 486.5,157.9 486.5,157.2 487.3,157.2 487.3,156.9 488.1,156.9 488.1,157.4 488.9,157.4 488.9,157.4 489.7,157.4 489.7,157.3 490.5,157.3 490.5,157.7 491.3,157.7 491.3,156.9 492.1,156.9 492.1,157.8 492.9,157.8 492.9,157.4 493.7,157.4 493.7,157.8 494.5,157.8 494.5,157.1 495.3,157.1 495.3,157.5 496.1,157.5 496.1,157.4 496.9,157.4 496.9,157.6 497.7,157.6 497.7,157.1 498.5,157.1 498.5,157 499.3,157 499.3,156.9 500.1,156.9 500.1,157.1 500.9,157.1 500.9,157.7 501.7,157.7 501.7,157 502.5,157 502.5,157.6 503.3,157.6 503.3,157.8 504.1,157.8 504.1,157.7 504.9,157.7 504.9,157.8 505.7,157.8 505.7,157.6 506.5,157.6 506.5,158.4 507.3,158.4 507.3,159.3 507.5,159.3 507.5,161.4" fill="#5cb02e"/>
<line x1="495.7" y1="157.9" x2="495.7" y2="155.2" stroke="#6a945c" stroke-width="0.7" stroke-opacity="0.5"/>
<line x1="487.3" y1="157.9" x2="487.3" y2="153" stroke="#6a945c" stroke-width="0.7" stroke-opacity="0.5"/>
<line x1="499" y1="157.9" x2="499" y2="155.6" stroke="#6a945c" stroke-width="0.7" stroke-opacity="0.5"/>
<line x1="503" y1="157.9" x2="503" y2="155.3" stroke="#6a945c" stroke-width="0.7" stroke-opacity="0.5"/>
<line x1="504.7" y1="157.9" x2="504.7" y2="152.1" stroke="#6a945c" stroke-width="0.7" stroke-opacity="0.5"/>
<line x1="498.9" y1="157.9" x2="498.9" y2="153.7" stroke="#6a945c" stroke-width="0.7" stroke-opacity="0.5"/>
<line x1="485.4" y1="157.9" x2="485.4" y2="155.2" stroke="#6a945c" stroke-width="0.7" stroke-opacity="0.5"/>
<line x1="488.7" y1="157.9" x2="488.7" y2="153.1" stroke="#6a945c" stroke-width="0.7" stroke-opacity="0.5"/>
<line x1="494.8" y1="157.9" x2="494.8" y2="153.5" stroke="#6a945c" stroke-width="0.7" stroke-opacity="0.5"/>
<line x1="505.3" y1="157.9" x2="505.3" y2="155.7" stroke="#6a945c" stroke-width="0.7" stroke-opacity="0.5"/>
<line x1="499.6" y1="157.9" x2="499.6" y2="154.6" stroke="#6a945c" stroke-width="0.7" stroke-opacity="0.5"/>
<line x1="501.1" y1="157.9" x2="501.1" y2="152.1" stroke="#6a945c" stroke-width="0.7" stroke-opacity="0.5"/>
<line x1="501.4" y1="157.9" x2="501.4" y2="152.9" stroke="#6a945c" stroke-width="0.7" stroke-opacity="0.5"/>
<line x1="490.5" y1="157.9" x2="490.5" y2="155.2" stroke="#6a945c" stroke-width="0.7" stroke-opacity="0.5"/>
<line x1="51.9" y1="146.1" x2="51.9" y2="157.4" stroke="#5cb02e" stroke-width="2.4" stroke-opacity="0.3"/>
<line x1="51.9" y1="146.1" x2="51.9" y2="151.6" stroke="#6a945c" stroke-width="1"/>
<line x1="51.9" y1="151.6" x2="51.9" y2="155.8" stroke="#6a945c" stroke-width="1"/>
<line x1="51.9" y1="155.8" x2="51.9" y2="157.4" stroke="#6a945c" stroke-width="1"/>
<line x1="69.8" y1="144.1" x2="69.8" y2="157.4" stroke="#5cb02e" stroke-width="2.4" stroke-opacity="0.3"/>
<line x1="69.8" y1="144.1" x2="69.8" y2="152.4" stroke="#6a945c" stroke-width="1"/>
<line x1="69.8" y1="153.9" x2="69.8" y2="157.4" stroke="#6a945c" stroke-width="1"/>
<line x1="73.7" y1="142.6" x2="73.7" y2="157.4" stroke="#5cb02e" stroke-width="2.4" stroke-opacity="0.3"/>
<line x1="73.7" y1="142.6" x2="73.7" y2="148.9" stroke="#6a945c" stroke-width="1"/>
<line x1="73.7" y1="150.8" x2="73.7" y2="155.4" stroke="#6a945c" stroke-width="1"/>
<line x1="73.7" y1="155.4" x2="73.7" y2="157.4" stroke="#6a945c" stroke-width="1"/>
<line x1="104.4" y1="148.9" x2="104.4" y2="157.4" stroke="#c0dd16" stroke-width="2.4" stroke-opacity="0.3"/>
<line x1="104.4" y1="148.9" x2="104.4" y2="156.1" stroke="#bac93c" stroke-width="1"/>
<line x1="126" y1="144.1" x2="126" y2="157.4" stroke="#5cb02e" stroke-width="2.4" stroke-opacity="0.3"/>
<line x1="126" y1="144.1" x2="126" y2="147.7" stroke="#6a945c" stroke-width="1"/>
<line x1="126" y1="148.8" x2="126" y2="154.4" stroke="#6a945c" stroke-width="1"/>
<line x1="126" y1="154.4" x2="126" y2="157.4" stroke="#6a945c" stroke-width="1"/>
<circle cx="126" cy="134.7" r="0.75" fill="#6f7f78"/>
<line x1="148.7" y1="150.5" x2="148.7" y2="157.4" stroke="#c0dd16" stroke-width="2.4" stroke-opacity="0.3"/>
<line x1="148.7" y1="150.5" x2="148.7" y2="157.4" stroke="#bac93c" stroke-width="1"/>
<line x1="163.5" y1="81.8" x2="163.5" y2="157.4" stroke="#c0dd16" stroke-width="2.4" stroke-opacity="0.3"/>
<line x1="163.5" y1="81.8" x2="163.5" y2="87.6" stroke="#bac93c" stroke-width="1"/>
<line x1="163.5" y1="89.5" x2="163.5" y2="96.6" stroke="#bac93c" stroke-width="1"/>
<line x1="163.5" y1="98.4" x2="163.5" y2="105.5" stroke="#bac93c" stroke-width="1"/>
<line x1="163.5" y1="105.5" x2="163.5" y2="113.6" stroke="#bac93c" stroke-width="1"/>
<line x1="163.5" y1="115.3" x2="163.5" y2="121" stroke="#bac93c" stroke-width="1"/>
<line x1="163.5" y1="121.6" x2="163.5" y2="124.7" stroke="#bac93c" stroke-width="1"/>
<line x1="163.5" y1="125.5" x2="163.5" y2="129.6" stroke="#bac93c" stroke-width="1"/>
<line x1="163.5" y1="129.6" x2="163.5" y2="138.4" stroke="#bac93c" stroke-width="1"/>
<line x1="163.5" y1="139.5" x2="163.5" y2="144" stroke="#bac93c" stroke-width="1"/>
<line x1="163.5" y1="144" x2="163.5" y2="148.4" stroke="#bac93c" stroke-width="1"/>
<line x1="163.5" y1="149.5" x2="163.5" y2="154.2" stroke="#bac93c" stroke-width="1"/>
<line x1="163.5" y1="154.2" x2="163.5" y2="157.4" stroke="#bac93c" stroke-width="1"/>
<line x1="184.8" y1="143.6" x2="184.8" y2="157.4" stroke="#5cb02e" stroke-width="2.4" stroke-opacity="0.3"/>
<line x1="184.8" y1="143.6" x2="184.8" y2="149.5" stroke="#6a945c" stroke-width="1"/>
<line x1="184.8" y1="149.5" x2="184.8" y2="152" stroke="#6a945c" stroke-width="1"/>
<line x1="184.8" y1="152" x2="184.8" y2="155.6" stroke="#6a945c" stroke-width="1"/>
<line x1="184.8" y1="156.5" x2="184.8" y2="157.4" stroke="#6a945c" stroke-width="1"/>
<line x1="192" y1="150.5" x2="192" y2="157.4" stroke="#5cb02e" stroke-width="2.4" stroke-opacity="0.3"/>
<line x1="192" y1="150.5" x2="192" y2="157.4" stroke="#6a945c" stroke-width="1"/>
<line x1="196.2" y1="147.1" x2="196.2" y2="157.4" stroke="#5cb02e" stroke-width="2.4" stroke-opacity="0.3"/>
<line x1="196.2" y1="147.1" x2="196.2" y2="153.9" stroke="#6a945c" stroke-width="1"/>
<line x1="196.2" y1="153.9" x2="196.2" y2="157.4" stroke="#6a945c" stroke-width="1"/>
<line x1="207.7" y1="130.7" x2="207.7" y2="157.4" stroke="#c0dd16" stroke-width="2.4" stroke-opacity="0.3"/>
<line x1="207.7" y1="130.7" x2="207.7" y2="135.3" stroke="#bac93c" stroke-width="1"/>
<line x1="207.7" y1="137" x2="207.7" y2="145.8" stroke="#bac93c" stroke-width="1"/>
<line x1="207.7" y1="147.7" x2="207.7" y2="153.9" stroke="#bac93c" stroke-width="1"/>
<line x1="207.7" y1="155.3" x2="207.7" y2="157.4" stroke="#bac93c" stroke-width="1"/>
<line x1="222.7" y1="121" x2="222.7" y2="157.4" stroke="#c0dd16" stroke-width="2.4" stroke-opacity="0.3"/>
<line x1="222.7" y1="121" x2="222.7" y2="127.4" stroke="#bac93c" stroke-width="1"/>
<line x1="222.7" y1="127.4" x2="222.7" y2="131.9" stroke="#bac93c" stroke-width="1"/>
<line x1="222.7" y1="131.9" x2="222.7" y2="139" stroke="#bac93c" stroke-width="1"/>
<line x1="222.7" y1="139" x2="222.7" y2="146.6" stroke="#bac93c" stroke-width="1"/>
<line x1="222.7" y1="147.5" x2="222.7" y2="151.7" stroke="#bac93c" stroke-width="1"/>
<line x1="222.7" y1="153.1" x2="222.7" y2="155.3" stroke="#bac93c" stroke-width="1"/>
<line x1="222.7" y1="156.2" x2="222.7" y2="157.4" stroke="#bac93c" stroke-width="1"/>
<line x1="229.4" y1="148.9" x2="229.4" y2="157.4" stroke="#5cb02e" stroke-width="2.4" stroke-opacity="0.3"/>
<line x1="229.4" y1="148.9" x2="229.4" y2="153.7" stroke="#6a945c" stroke-width="1"/>
<line x1="229.4" y1="153.7" x2="229.4" y2="157.4" stroke="#6a945c" stroke-width="1"/>
<line x1="240.6" y1="131.7" x2="240.6" y2="157.4" stroke="#5cb02e" stroke-width="2.4" stroke-opacity="0.3"/>
<line x1="240.6" y1="131.7" x2="240.6" y2="135.7" stroke="#6a945c" stroke-width="1"/>
<line x1="240.6" y1="136.7" x2="240.6" y2="143.7" stroke="#6a945c" stroke-width="1"/>
<line x1="240.6" y1="145.1" x2="240.6" y2="149.3" stroke="#6a945c" stroke-width="1"/>
<line x1="240.6" y1="149.9" x2="240.6" y2="157.4" stroke="#6a945c" stroke-width="1"/>
<line x1="243.8" y1="131.7" x2="243.8" y2="157.4" stroke="#5cb02e" stroke-width="2.4" stroke-opacity="0.3"/>
<line x1="243.8" y1="131.7" x2="243.8" y2="134.5" stroke="#6a945c" stroke-width="1"/>
<line x1="243.8" y1="134.5" x2="243.8" y2="141.3" stroke="#6a945c" stroke-width="1"/>
<line x1="243.8" y1="142.1" x2="243.8" y2="147.8" stroke="#6a945c" stroke-width="1"/>
<line x1="243.8" y1="147.8" x2="243.8" y2="156" stroke="#6a945c" stroke-width="1"/>
<line x1="243.8" y1="156" x2="243.8" y2="157.4" stroke="#6a945c" stroke-width="1"/>
<line x1="267.9" y1="140.1" x2="267.9" y2="157.4" stroke="#c0dd16" stroke-width="2.4" stroke-opacity="0.3"/>
<line x1="267.9" y1="140.1" x2="267.9" y2="143.3" stroke="#bac93c" stroke-width="1"/>
<line x1="267.9" y1="143.3" x2="267.9" y2="149.9" stroke="#bac93c" stroke-width="1"/>
<line x1="267.9" y1="149.9" x2="267.9" y2="154" stroke="#bac93c" stroke-width="1"/>
<line x1="267.9" y1="154" x2="267.9" y2="156.8" stroke="#bac93c" stroke-width="1"/>
<line x1="267.9" y1="156.8" x2="267.9" y2="157.4" stroke="#bac93c" stroke-width="1"/>
<line x1="275.8" y1="138.7" x2="275.8" y2="157.4" stroke="#5cb02e" stroke-width="2.4" stroke-opacity="0.3"/>
<line x1="275.8" y1="138.7" x2="275.8" y2="140.9" stroke="#6a945c" stroke-width="1"/>
<line x1="275.8" y1="140.9" x2="275.8" y2="149.6" stroke="#6a945c" stroke-width="1"/>
<line x1="275.8" y1="150.3" x2="275.8" y2="157.2" stroke="#6a945c" stroke-width="1"/>
<line x1="275.8" y1="157.2" x2="275.8" y2="157.4" stroke="#6a945c" stroke-width="1"/>
<line x1="288.7" y1="146.1" x2="288.7" y2="157.4" stroke="#5cb02e" stroke-width="2.4" stroke-opacity="0.3"/>
<line x1="288.7" y1="146.1" x2="288.7" y2="155" stroke="#6a945c" stroke-width="1"/>
<line x1="288.7" y1="156.8" x2="288.7" y2="157.4" stroke="#6a945c" stroke-width="1"/>
<line x1="293.5" y1="149" x2="293.5" y2="157.4" stroke="#5cb02e" stroke-width="2.4" stroke-opacity="0.3"/>
<line x1="293.5" y1="149" x2="293.5" y2="152.9" stroke="#6a945c" stroke-width="1"/>
<line x1="293.5" y1="154.1" x2="293.5" y2="157.4" stroke="#6a945c" stroke-width="1"/>
<line x1="305" y1="135.7" x2="305" y2="157.4" stroke="#c0dd16" stroke-width="2.4" stroke-opacity="0.3"/>
<line x1="305" y1="135.7" x2="305" y2="142" stroke="#bac93c" stroke-width="1"/>
<line x1="305" y1="143.3" x2="305" y2="150.6" stroke="#bac93c" stroke-width="1"/>
<line x1="305" y1="150.6" x2="305" y2="155.3" stroke="#bac93c" stroke-width="1"/>
<line x1="305" y1="155.3" x2="305" y2="157.4" stroke="#bac93c" stroke-width="1"/>
<line x1="309.2" y1="146.1" x2="309.2" y2="157.4" stroke="#c0dd16" stroke-width="2.4" stroke-opacity="0.3"/>
<line x1="309.2" y1="146.1" x2="309.2" y2="151.6" stroke="#bac93c" stroke-width="1"/>
<line x1="309.2" y1="151.6" x2="309.2" y2="154" stroke="#bac93c" stroke-width="1"/>
<line x1="309.2" y1="154" x2="309.2" y2="157.4" stroke="#bac93c" stroke-width="1"/>
<line x1="317.5" y1="150.1" x2="317.5" y2="157.4" stroke="#5cb02e" stroke-width="2.4" stroke-opacity="0.3"/>
<line x1="317.5" y1="150.1" x2="317.5" y2="156.9" stroke="#6a945c" stroke-width="1"/>
<line x1="324.8" y1="142.2" x2="324.8" y2="157.4" stroke="#5cb02e" stroke-width="2.4" stroke-opacity="0.3"/>
<line x1="324.8" y1="142.2" x2="324.8" y2="146.1" stroke="#6a945c" stroke-width="1"/>
<line x1="324.8" y1="146.1" x2="324.8" y2="154.8" stroke="#6a945c" stroke-width="1"/>
<line x1="324.8" y1="155.5" x2="324.8" y2="157.4" stroke="#6a945c" stroke-width="1"/>
<line x1="333.1" y1="128.8" x2="333.1" y2="157.4" stroke="#5cb02e" stroke-width="2.4" stroke-opacity="0.3"/>
<line x1="333.1" y1="128.8" x2="333.1" y2="132.4" stroke="#6a945c" stroke-width="1"/>
<line x1="333.1" y1="134.3" x2="333.1" y2="141.7" stroke="#6a945c" stroke-width="1"/>
<line x1="333.1" y1="143.1" x2="333.1" y2="150.7" stroke="#6a945c" stroke-width="1"/>
<line x1="333.1" y1="150.7" x2="333.1" y2="155.9" stroke="#6a945c" stroke-width="1"/>
<line x1="333.1" y1="155.9" x2="333.1" y2="157.4" stroke="#6a945c" stroke-width="1"/>
<line x1="340.8" y1="145.7" x2="340.8" y2="157.4" stroke="#c0dd16" stroke-width="2.4" stroke-opacity="0.3"/>
<line x1="340.8" y1="145.7" x2="340.8" y2="153.3" stroke="#bac93c" stroke-width="1"/>
<line x1="340.8" y1="155.3" x2="340.8" y2="157.4" stroke="#bac93c" stroke-width="1"/>
<line x1="352.7" y1="118.3" x2="352.7" y2="157.4" stroke="#c0dd16" stroke-width="2.4" stroke-opacity="0.3"/>
<line x1="352.7" y1="118.3" x2="352.7" y2="124.1" stroke="#bac93c" stroke-width="1"/>
<line x1="352.7" y1="124.9" x2="352.7" y2="128.7" stroke="#bac93c" stroke-width="1"/>
<line x1="352.7" y1="128.7" x2="352.7" y2="134.9" stroke="#bac93c" stroke-width="1"/>
<line x1="352.7" y1="136" x2="352.7" y2="144.3" stroke="#bac93c" stroke-width="1"/>
<line x1="352.7" y1="144.3" x2="352.7" y2="149.3" stroke="#bac93c" stroke-width="1"/>
<line x1="352.7" y1="149.3" x2="352.7" y2="156.8" stroke="#bac93c" stroke-width="1"/>
<line x1="373.5" y1="149.1" x2="373.5" y2="157.4" stroke="#5cb02e" stroke-width="2.4" stroke-opacity="0.3"/>
<line x1="373.5" y1="149.1" x2="373.5" y2="151.7" stroke="#6a945c" stroke-width="1"/>
<line x1="373.5" y1="151.7" x2="373.5" y2="157.4" stroke="#6a945c" stroke-width="1"/>
<line x1="389.6" y1="144" x2="389.6" y2="157.4" stroke="#c0dd16" stroke-width="2.4" stroke-opacity="0.3"/>
<line x1="389.6" y1="144" x2="389.6" y2="150.6" stroke="#bac93c" stroke-width="1"/>
<line x1="389.6" y1="152.4" x2="389.6" y2="156.7" stroke="#bac93c" stroke-width="1"/>
<line x1="389.6" y1="156.7" x2="389.6" y2="157.4" stroke="#bac93c" stroke-width="1"/>
<line x1="396.9" y1="141.8" x2="396.9" y2="157.4" stroke="#5cb02e" stroke-width="2.4" stroke-opacity="0.3"/>
<line x1="396.9" y1="141.8" x2="396.9" y2="150.3" stroke="#6a945c" stroke-width="1"/>
<line x1="396.9" y1="150.3" x2="396.9" y2="154.5" stroke="#6a945c" stroke-width="1"/>
<line x1="396.9" y1="155.9" x2="396.9" y2="157.4" stroke="#6a945c" stroke-width="1"/>
<line x1="400.8" y1="147.9" x2="400.8" y2="157.4" stroke="#5cb02e" stroke-width="2.4" stroke-opacity="0.3"/>
<line x1="400.8" y1="147.9" x2="400.8" y2="156.5" stroke="#6a945c" stroke-width="1"/>
<line x1="400.8" y1="156.5" x2="400.8" y2="157.4" stroke="#6a945c" stroke-width="1"/>
<line x1="407.5" y1="145.7" x2="407.5" y2="157.4" stroke="#c0dd16" stroke-width="2.4" stroke-opacity="0.3"/>
<line x1="407.5" y1="145.7" x2="407.5" y2="153.2" stroke="#bac93c" stroke-width="1"/>
<line x1="407.5" y1="153.2" x2="407.5" y2="157.4" stroke="#bac93c" stroke-width="1"/>
<line x1="418.5" y1="149.6" x2="418.5" y2="157.4" stroke="#c0dd16" stroke-width="2.4" stroke-opacity="0.3"/>
<line x1="418.5" y1="149.6" x2="418.5" y2="157.1" stroke="#bac93c" stroke-width="1"/>
<line x1="418.5" y1="157.1" x2="418.5" y2="157.4" stroke="#bac93c" stroke-width="1"/>
<line x1="422.3" y1="145.6" x2="422.3" y2="157.4" stroke="#5cb02e" stroke-width="2.4" stroke-opacity="0.3"/>
<line x1="422.3" y1="145.6" x2="422.3" y2="150.1" stroke="#6a945c" stroke-width="1"/>
<line x1="422.3" y1="151.3" x2="422.3" y2="157.4" stroke="#6a945c" stroke-width="1"/>
<line x1="455.5" y1="146.6" x2="455.5" y2="157.4" stroke="#5cb02e" stroke-width="2.4" stroke-opacity="0.3"/>
<line x1="455.5" y1="146.6" x2="455.5" y2="154.2" stroke="#6a945c" stroke-width="1"/>
<line x1="455.5" y1="155" x2="455.5" y2="157.4" stroke="#6a945c" stroke-width="1"/>
<line x1="466" y1="143.2" x2="466" y2="157.4" stroke="#c0dd16" stroke-width="2.4" stroke-opacity="0.3"/>
<line x1="466" y1="143.2" x2="466" y2="145.5" stroke="#bac93c" stroke-width="1"/>
<line x1="466" y1="145.5" x2="466" y2="148.5" stroke="#bac93c" stroke-width="1"/>
<line x1="466" y1="148.5" x2="466" y2="153.6" stroke="#bac93c" stroke-width="1"/>
<line x1="466" y1="153.6" x2="466" y2="157.4" stroke="#bac93c" stroke-width="1"/>
<line x1="41" y1="154.2" x2="511.5" y2="154.2" stroke="#555" stroke-width="0.9" stroke-dasharray="2.3 2.35"/>
<line x1="39.6" y1="39.3" x2="39.6" y2="162" stroke="#474747" stroke-width="1.5"/>
<line x1="36.7" y1="161.6" x2="512.7" y2="161.6" stroke="#161b12" stroke-width="1.6"/>
<line x1="36.7" y1="161.4" x2="40" y2="161.4" stroke="#3c3c3c" stroke-width="1"/>
<text x="33.5" y="164.4" text-anchor="end" font-size="8.4" fill="#2a2a2a" stroke="#2a2a2a" stroke-width="0.15">0</text>
<line x1="36.7" y1="131.7" x2="40" y2="131.7" stroke="#3c3c3c" stroke-width="1"/>
<text x="33.5" y="134.7" text-anchor="end" font-size="8.4" fill="#2a2a2a" stroke="#2a2a2a" stroke-width="0.15" textLength="8.4" lengthAdjust="spacingAndGlyphs">30</text>
<line x1="36.7" y1="102.1" x2="40" y2="102.1" stroke="#3c3c3c" stroke-width="1"/>
<text x="33.5" y="105.1" text-anchor="end" font-size="8.4" fill="#2a2a2a" stroke="#2a2a2a" stroke-width="0.15" textLength="8.4" lengthAdjust="spacingAndGlyphs">60</text>
<line x1="36.7" y1="72.4" x2="40" y2="72.4" stroke="#3c3c3c" stroke-width="1"/>
<text x="33.5" y="75.4" text-anchor="end" font-size="8.4" fill="#2a2a2a" stroke="#2a2a2a" stroke-width="0.15" textLength="8.4" lengthAdjust="spacingAndGlyphs">90</text>
<line x1="36.7" y1="42.7" x2="40" y2="42.7" stroke="#3c3c3c" stroke-width="1"/>
<text x="33.5" y="45.7" text-anchor="end" font-size="8.4" fill="#2a2a2a" stroke="#2a2a2a" stroke-width="0.15" textLength="12.6" lengthAdjust="spacingAndGlyphs">120</text>
<line x1="64.4" y1="161.4" x2="64.4" y2="164.6" stroke="#333" stroke-width="0.9"/>
<text x="64.4" y="174.4" text-anchor="middle" font-size="8.2" fill="#2a2a2a" stroke="#2a2a2a" stroke-width="0.15">1</text>
<line x1="100.5" y1="161.4" x2="100.5" y2="164.6" stroke="#333" stroke-width="0.9"/>
<text x="100.5" y="174.4" text-anchor="middle" font-size="8.2" fill="#2a2a2a" stroke="#2a2a2a" stroke-width="0.15">2</text>
<line x1="133.6" y1="161.4" x2="133.6" y2="164.6" stroke="#333" stroke-width="0.9"/>
<text x="133.6" y="174.4" text-anchor="middle" font-size="8.2" fill="#2a2a2a" stroke="#2a2a2a" stroke-width="0.15">3</text>
<line x1="162" y1="161.4" x2="162" y2="164.6" stroke="#333" stroke-width="0.9"/>
<text x="162" y="174.4" text-anchor="middle" font-size="8.2" fill="#2a2a2a" stroke="#2a2a2a" stroke-width="0.15">4</text>
<line x1="189.5" y1="161.4" x2="189.5" y2="164.6" stroke="#333" stroke-width="0.9"/>
<text x="189.5" y="174.4" text-anchor="middle" font-size="8.2" fill="#2a2a2a" stroke="#2a2a2a" stroke-width="0.15">5</text>
<line x1="215.8" y1="161.4" x2="215.8" y2="164.6" stroke="#333" stroke-width="0.9"/>
<text x="215.8" y="174.4" text-anchor="middle" font-size="8.2" fill="#2a2a2a" stroke="#2a2a2a" stroke-width="0.15">6</text>
<line x1="240.5" y1="161.4" x2="240.5" y2="164.6" stroke="#333" stroke-width="0.9"/>
<text x="240.5" y="174.4" text-anchor="middle" font-size="8.2" fill="#2a2a2a" stroke="#2a2a2a" stroke-width="0.15">7</text>
<line x1="263.8" y1="161.4" x2="263.8" y2="164.6" stroke="#333" stroke-width="0.9"/>
<text x="263.8" y="174.4" text-anchor="middle" font-size="8.2" fill="#2a2a2a" stroke="#2a2a2a" stroke-width="0.15">8</text>
<line x1="285.3" y1="161.4" x2="285.3" y2="164.6" stroke="#333" stroke-width="0.9"/>
<text x="285.3" y="174.4" text-anchor="middle" font-size="8.2" fill="#2a2a2a" stroke="#2a2a2a" stroke-width="0.15">9</text>
<line x1="306.1" y1="161.4" x2="306.1" y2="164.6" stroke="#333" stroke-width="0.9"/>
<text x="306.1" y="174.4" text-anchor="middle" font-size="8.2" fill="#2a2a2a" stroke="#2a2a2a" stroke-width="0.15" textLength="8.2" lengthAdjust="spacingAndGlyphs">10</text>
<line x1="326.4" y1="161.4" x2="326.4" y2="164.6" stroke="#333" stroke-width="0.9"/>
<text x="326.4" y="174.4" text-anchor="middle" font-size="8.2" fill="#2a2a2a" stroke="#2a2a2a" stroke-width="0.15" textLength="8.2" lengthAdjust="spacingAndGlyphs">11</text>
<line x1="346.5" y1="161.4" x2="346.5" y2="164.6" stroke="#333" stroke-width="0.9"/>
<text x="346.5" y="174.4" text-anchor="middle" font-size="8.2" fill="#2a2a2a" stroke="#2a2a2a" stroke-width="0.15" textLength="8.2" lengthAdjust="spacingAndGlyphs">12</text>
<line x1="366.3" y1="161.4" x2="366.3" y2="164.6" stroke="#333" stroke-width="0.9"/>
<text x="366.3" y="174.4" text-anchor="middle" font-size="8.2" fill="#2a2a2a" stroke="#2a2a2a" stroke-width="0.15" textLength="8.2" lengthAdjust="spacingAndGlyphs">13</text>
<line x1="383.8" y1="161.4" x2="383.8" y2="164.6" stroke="#333" stroke-width="0.9"/>
<text x="383.8" y="174.4" text-anchor="middle" font-size="8.2" fill="#2a2a2a" stroke="#2a2a2a" stroke-width="0.15" textLength="8.2" lengthAdjust="spacingAndGlyphs">14</text>
<line x1="399.6" y1="161.4" x2="399.6" y2="164.6" stroke="#333" stroke-width="0.9"/>
<text x="399.6" y="174.4" text-anchor="middle" font-size="8.2" fill="#2a2a2a" stroke="#2a2a2a" stroke-width="0.15" textLength="8.2" lengthAdjust="spacingAndGlyphs">15</text>
<line x1="414.6" y1="161.4" x2="414.6" y2="164.6" stroke="#333" stroke-width="0.9"/>
<text x="414.6" y="174.4" text-anchor="middle" font-size="8.2" fill="#2a2a2a" stroke="#2a2a2a" stroke-width="0.15" textLength="8.2" lengthAdjust="spacingAndGlyphs">16</text>
<line x1="428.1" y1="161.4" x2="428.1" y2="164.6" stroke="#333" stroke-width="0.9"/>
<text x="428.1" y="174.4" text-anchor="middle" font-size="8.2" fill="#2a2a2a" stroke="#2a2a2a" stroke-width="0.15" textLength="8.2" lengthAdjust="spacingAndGlyphs">17</text>
<line x1="441.6" y1="161.4" x2="441.6" y2="164.6" stroke="#333" stroke-width="0.9"/>
<text x="441.6" y="174.4" text-anchor="middle" font-size="8.2" fill="#2a2a2a" stroke="#2a2a2a" stroke-width="0.15" textLength="8.2" lengthAdjust="spacingAndGlyphs">18</text>
<line x1="452.4" y1="161.4" x2="452.4" y2="164.6" stroke="#333" stroke-width="0.9"/>
<text x="452.4" y="174.4" text-anchor="middle" font-size="8.2" fill="#2a2a2a" stroke="#2a2a2a" stroke-width="0.15" textLength="8.2" lengthAdjust="spacingAndGlyphs">19</text>
<line x1="462.3" y1="161.4" x2="462.3" y2="164.6" stroke="#333" stroke-width="0.9"/>
<text x="462.3" y="174.4" text-anchor="middle" font-size="8.2" fill="#2a2a2a" stroke="#2a2a2a" stroke-width="0.15" textLength="8.2" lengthAdjust="spacingAndGlyphs">20</text>
<line x1="471.3" y1="161.4" x2="471.3" y2="164.6" stroke="#333" stroke-width="0.9"/>
<text x="471.3" y="174.4" text-anchor="middle" font-size="8.2" fill="#2a2a2a" stroke="#2a2a2a" stroke-width="0.15" textLength="8.2" lengthAdjust="spacingAndGlyphs">21</text>
<line x1="480.3" y1="161.4" x2="480.3" y2="164.6" stroke="#333" stroke-width="0.9"/>
<text x="480.3" y="174.4" text-anchor="middle" font-size="8.2" fill="#2a2a2a" stroke="#2a2a2a" stroke-width="0.15" textLength="8.2" lengthAdjust="spacingAndGlyphs">22</text>
<line x1="496.4" y1="161.4" x2="496.4" y2="164.6" stroke="#333" stroke-width="0.9"/>
<text x="496.4" y="174.4" text-anchor="middle" font-size="8.2" fill="#2a2a2a" stroke="#2a2a2a" stroke-width="0.15">X</text>
<text transform="translate(140.6,71.2) rotate(-90)" font-size="8.6" font-style="italic" fill="#2e2e2e" stroke="#2e2e2e" stroke-width="0.05" textLength="20" lengthAdjust="spacingAndGlyphs">PCCB</text>
<text transform="translate(209.6,77.7) rotate(-90)" font-size="8.6" font-style="italic" fill="#2e2e2e" stroke="#2e2e2e" stroke-width="0.05" textLength="40.3" lengthAdjust="spacingAndGlyphs">ZBED9-AS1</text>
<text transform="translate(280.6,72.4) rotate(-90)" font-size="8.6" font-style="italic" fill="#2e2e2e" stroke="#2e2e2e" stroke-width="0.05" textLength="27" lengthAdjust="spacingAndGlyphs">FOCAD</text>
<text transform="translate(335.6,52.3) rotate(-90)" font-size="8.6" font-style="italic" fill="#dc3f3a" stroke="#dc3f3a" stroke-width="0.05" textLength="13.4" lengthAdjust="spacingAndGlyphs">CBL</text>
<text x="7.6" y="215.2" font-size="11.4" font-weight="bold" fill="#111" stroke="#111" stroke-width="0.3" textLength="6.5" lengthAdjust="spacingAndGlyphs">B</text>
<text x="261.0" y="229.6" font-size="10.2" fill="#222" stroke="#222" stroke-width="0.2" textLength="30.8" lengthAdjust="spacingAndGlyphs">T2<tspan dy="-1.3">_</tspan><tspan dy="1.3">PLT</tspan></text>
<text x="254.1" y="386.6" font-size="9.7" fill="#333" stroke="#333" stroke-width="0.15" textLength="44.6" lengthAdjust="spacingAndGlyphs">Chromosome</text>
<g transform="translate(15.0,298.8) rotate(-90)"><text x="0" y="0" text-anchor="middle" font-size="8.8" fill="#333" stroke="#333" stroke-width="0.12" textLength="30.6" lengthAdjust="spacingAndGlyphs">-log<tspan font-size="5.4" dy="1.6">10</tspan><tspan dy="-1.6">(</tspan><tspan font-style="italic">P</tspan>)</text></g>
<line x1="67.6" y1="263.3" x2="67.6" y2="335" stroke="#bdbdc4" stroke-width="0.6" stroke-dasharray="1.2 0.8"/>
<line x1="196" y1="275.4" x2="205.5" y2="335" stroke="#bdbdc4" stroke-width="0.6" stroke-dasharray="1.2 0.8"/>
<line x1="204.1" y1="273" x2="206.8" y2="335" stroke="#bdbdc4" stroke-width="0.6" stroke-dasharray="1.2 0.8"/>
<line x1="213.5" y1="277" x2="208.5" y2="322" stroke="#bdbdc4" stroke-width="0.6" stroke-dasharray="1.2 0.8"/>
<line x1="333.3" y1="264.4" x2="333.3" y2="346" stroke="#bdbdc4" stroke-width="0.6" stroke-dasharray="1.2 0.8"/>
<line x1="351.8" y1="272" x2="351.8" y2="323" stroke="#bdbdc4" stroke-width="0.6" stroke-dasharray="1.2 0.8"/>
<line x1="448.6" y1="272.8" x2="448.6" y2="350" stroke="#bdbdc4" stroke-width="0.6" stroke-dasharray="1.2 0.8"/>
<polygon points="44.8,360.5 44.8,353.8 45.4,353.8 45.4,354.3 46,354.3 46,351.8 46.6,351.8 46.6,351.5 47.2,351.5 47.2,352.7 47.8,352.7 47.8,352.2 48.4,352.2 48.4,353.3 49,353.3 49,353.3 49.6,353.3 49.6,353.1 50.2,353.1 50.2,352.1 50.8,352.1 50.8,353.3 51.4,353.3 51.4,351.4 52,351.4 52,353.7 52.6,353.7 52.6,353.4 53.2,353.4 53.2,353.7 53.8,353.7 53.8,351.9 54.4,351.9 54.4,352.9 55,352.9 55,352.7 55.6,352.7 55.6,353.1 56.2,353.1 56.2,352.2 56.8,352.2 56.8,352.8 57.4,352.8 57.4,353.4 58,353.4 58,352.8 58.6,352.8 58.6,353.1 59.2,353.1 59.2,353.6 59.8,353.6 59.8,351.8 60.4,351.8 60.4,352.1 61,352.1 61,352.2 61.6,352.2 61.6,351.6 62.2,351.6 62.2,352.9 62.8,352.9 62.8,353.2 63.4,353.2 63.4,354.1 64,354.1 64,355.1 64.6,355.1 64.6,354.1 65.2,354.1 65.2,354.8 65.8,354.8 65.8,352.7 66.4,352.7 66.4,352.5 67,352.5 67,353 67.6,353 67.6,353.8 68.2,353.8 68.2,352.1 68.8,352.1 68.8,353.9 69.4,353.9 69.4,352.4 70,352.4 70,353.5 70.6,353.5 70.6,353.8 71.2,353.8 71.2,353.4 71.8,353.4 71.8,353.7 72.4,353.7 72.4,353.5 73,353.5 73,352.1 73.6,352.1 73.6,352 74.2,352 74.2,353 74.8,353 74.8,352.2 75.4,352.2 75.4,352.7 76,352.7 76,352.6 76.6,352.6 76.6,351.6 77.2,351.6 77.2,353.1 77.8,353.1 77.8,351.6 78.4,351.6 78.4,352.1 79,352.1 79,352.3 79.6,352.3 79.6,354.6 80.2,354.6 80.2,354.9 80.4,354.9 80.4,360.5" fill="#5cb02e" fill-opacity="0.42"/>
<polygon points="44.8,360.5 44.8,356.9 45.6,356.9 45.6,355.7 46.4,355.7 46.4,354.2 47.2,354.2 47.2,354.2 48,354.2 48,354.3 48.8,354.3 48.8,355 49.6,355 49.6,354.4 50.4,354.4 50.4,354.3 51.2,354.3 51.2,354.3 52,354.3 52,354.3 52.8,354.3 52.8,355 53.6,355 53.6,354.9 54.4,354.9 54.4,354.3 55.2,354.3 55.2,354.4 56,354.4 56,354.2 56.8,354.2 56.8,354.7 57.6,354.7 57.6,354.2 58.4,354.2 58.4,355 59.2,355 59.2,354.1 60,354.1 60,354.2 60.8,354.2 60.8,354.8 61.6,354.8 61.6,355 62.4,355 62.4,354.6 63.2,354.6 63.2,355.9 64,355.9 64,358.1 64.8,358.1 64.8,357.4 65.6,357.4 65.6,355.3 66.4,355.3 66.4,354.3 67.2,354.3 67.2,355 68,355 68,354.2 68.8,354.2 68.8,354.8 69.6,354.8 69.6,354.9 70.4,354.9 70.4,355 71.2,355 71.2,354.1 72,354.1 72,354.2 72.8,354.2 72.8,354.8 73.6,354.8 73.6,355 74.4,355 74.4,354.4 75.2,354.4 75.2,354.2 76,354.2 76,355.1 76.8,355.1 76.8,354.5 77.6,354.5 77.6,354.2 78.4,354.2 78.4,354.6 79.2,354.6 79.2,355 80,355 80,355.7 80.4,355.7 80.4,360.5" fill="#5cb02e"/>
<line x1="53.5" y1="355.1" x2="53.5" y2="353.3" stroke="#6a945c" stroke-width="0.7" stroke-opacity="0.5"/>
<line x1="68.2" y1="355.1" x2="68.2" y2="352.1" stroke="#6a945c" stroke-width="0.7" stroke-opacity="0.5"/>
<line x1="63.8" y1="355.1" x2="63.8" y2="353.1" stroke="#6a945c" stroke-width="0.7" stroke-opacity="0.5"/>
<line x1="77.8" y1="355.1" x2="77.8" y2="353.3" stroke="#6a945c" stroke-width="0.7" stroke-opacity="0.5"/>
<line x1="68.8" y1="355.1" x2="68.8" y2="350" stroke="#6a945c" stroke-width="0.7" stroke-opacity="0.5"/>
<line x1="59.1" y1="355.1" x2="59.1" y2="353.9" stroke="#6a945c" stroke-width="0.7" stroke-opacity="0.5"/>
<line x1="52.9" y1="355.1" x2="52.9" y2="353.9" stroke="#6a945c" stroke-width="0.7" stroke-opacity="0.5"/>
<line x1="50.4" y1="355.1" x2="50.4" y2="353.8" stroke="#6a945c" stroke-width="0.7" stroke-opacity="0.5"/>
<line x1="57.1" y1="355.1" x2="57.1" y2="352.9" stroke="#6a945c" stroke-width="0.7" stroke-opacity="0.5"/>
<line x1="60.8" y1="355.1" x2="60.8" y2="351.4" stroke="#6a945c" stroke-width="0.7" stroke-opacity="0.5"/>
<line x1="68.7" y1="355.1" x2="68.7" y2="351.3" stroke="#6a945c" stroke-width="0.7" stroke-opacity="0.5"/>
<line x1="57.9" y1="355.1" x2="57.9" y2="351.4" stroke="#6a945c" stroke-width="0.7" stroke-opacity="0.5"/>
<line x1="64.3" y1="355.1" x2="64.3" y2="353.8" stroke="#6a945c" stroke-width="0.7" stroke-opacity="0.5"/>
<line x1="64.2" y1="355.1" x2="64.2" y2="353.1" stroke="#6a945c" stroke-width="0.7" stroke-opacity="0.5"/>
<line x1="68.7" y1="355.1" x2="68.7" y2="351" stroke="#6a945c" stroke-width="0.7" stroke-opacity="0.5"/>
<line x1="53.6" y1="355.1" x2="53.6" y2="352.6" stroke="#6a945c" stroke-width="0.7" stroke-opacity="0.5"/>
<line x1="61" y1="355.1" x2="61" y2="353.2" stroke="#6a945c" stroke-width="0.7" stroke-opacity="0.5"/>
<line x1="46.6" y1="355.1" x2="46.6" y2="353.9" stroke="#6a945c" stroke-width="0.7" stroke-opacity="0.5"/>
<line x1="79.8" y1="355.1" x2="79.8" y2="351" stroke="#6a945c" stroke-width="0.7" stroke-opacity="0.5"/>
<line x1="60.5" y1="355.1" x2="60.5" y2="351.4" stroke="#6a945c" stroke-width="0.7" stroke-opacity="0.5"/>
<line x1="54.6" y1="355.1" x2="54.6" y2="351.2" stroke="#6a945c" stroke-width="0.7" stroke-opacity="0.5"/>
<line x1="78.3" y1="355.1" x2="78.3" y2="350.8" stroke="#6a945c" stroke-width="0.7" stroke-opacity="0.5"/>
<polygon points="80.4,360.5 80.4,354.1 81,354.1 81,352.2 81.6,352.2 81.6,351.9 82.2,351.9 82.2,353.7 82.8,353.7 82.8,352.8 83.4,352.8 83.4,352.7 84,352.7 84,353.2 84.6,353.2 84.6,352.3 85.2,352.3 85.2,353.5 85.8,353.5 85.8,352 86.4,352 86.4,351.7 87,351.7 87,353.7 87.6,353.7 87.6,352.1 88.2,352.1 88.2,353.2 88.8,353.2 88.8,352.2 89.4,352.2 89.4,352.1 90,352.1 90,351.4 90.6,351.4 90.6,351.8 91.2,351.8 91.2,353 91.8,353 91.8,352 92.4,352 92.4,353.5 93,353.5 93,352 93.6,352 93.6,352.8 94.2,352.8 94.2,353.2 94.8,353.2 94.8,353.3 95.4,353.3 95.4,353.3 96,353.3 96,351.8 96.6,351.8 96.6,353.7 97.2,353.7 97.2,353.3 97.8,353.3 97.8,353.4 98.4,353.4 98.4,353.5 99,353.5 99,352 99.6,352 99.6,352.4 100.2,352.4 100.2,352.2 100.8,352.2 100.8,351.6 101.4,351.6 101.4,352.7 102,352.7 102,353.8 102.6,353.8 102.6,353.4 103.2,353.4 103.2,352.6 103.8,352.6 103.8,352 104.4,352 104.4,351.5 105,351.5 105,352.6 105.6,352.6 105.6,353.3 106.2,353.3 106.2,352.4 106.8,352.4 106.8,351.5 107.4,351.5 107.4,353 108,353 108,351.5 108.6,351.5 108.6,351.6 109.2,351.6 109.2,352.4 109.8,352.4 109.8,352.6 110.4,352.6 110.4,353.6 111,353.6 111,353.6 111.6,353.6 111.6,353.8 112.2,353.8 112.2,352.3 112.8,352.3 112.8,352 113.4,352 113.4,351.3 114,351.3 114,352.3 114.6,352.3 114.6,351.3 115.2,351.3 115.2,352.9 115.8,352.9 115.8,353.6 116.4,353.6 116.4,353.8 117,353.8 117,353.8 117.6,353.8 117.6,353.7 117.9,353.7 117.9,360.5" fill="#c0dd16" fill-opacity="0.42"/>
<polygon points="80.4,360.5 80.4,356 81.2,356 81.2,355.7 82,355.7 82,354.9 82.8,354.9 82.8,354.4 83.6,354.4 83.6,354.7 84.4,354.7 84.4,354.5 85.2,354.5 85.2,354.9 86,354.9 86,354.2 86.8,354.2 86.8,354.2 87.6,354.2 87.6,354.3 88.4,354.3 88.4,354.2 89.2,354.2 89.2,354.8 90,354.8 90,355.1 90.8,355.1 90.8,354.8 91.6,354.8 91.6,354.2 92.4,354.2 92.4,354.6 93.2,354.6 93.2,354.9 94,354.9 94,354.9 94.8,354.9 94.8,354.9 95.6,354.9 95.6,354.7 96.4,354.7 96.4,354.2 97.2,354.2 97.2,354.2 98,354.2 98,354.3 98.8,354.3 98.8,354.3 99.6,354.3 99.6,354.9 100.4,354.9 100.4,354.3 101.2,354.3 101.2,354.9 102,354.9 102,354.6 102.8,354.6 102.8,355.1 103.6,355.1 103.6,354.2 104.4,354.2 104.4,355 105.2,355 105.2,354.5 106,354.5 106,354.4 106.8,354.4 106.8,354.5 107.6,354.5 107.6,354.4 108.4,354.4 108.4,354.7 109.2,354.7 109.2,354.3 110,354.3 110,354.2 110.8,354.2 110.8,354.5 111.6,354.5 111.6,354.1 112.4,354.1 112.4,354.3 113.2,354.3 113.2,355 114,355 114,354.4 114.8,354.4 114.8,355 115.6,355 115.6,354.4 116.4,354.4 116.4,354.8 117.2,354.8 117.2,355.3 117.9,355.3 117.9,360.5" fill="#c0dd16"/>
<line x1="82.4" y1="355.1" x2="82.4" y2="349.6" stroke="#bac93c" stroke-width="0.7" stroke-opacity="0.5"/>
<line x1="82.4" y1="355.1" x2="82.4" y2="353.9" stroke="#bac93c" stroke-width="0.7" stroke-opacity="0.5"/>
<line x1="80.9" y1="355.1" x2="80.9" y2="353.8" stroke="#bac93c" stroke-width="0.7" stroke-opacity="0.5"/>
<line x1="117" y1="355.1" x2="117" y2="350.4" stroke="#bac93c" stroke-width="0.7" stroke-opacity="0.5"/>
<line x1="114.4" y1="355.1" x2="114.4" y2="353.6" stroke="#bac93c" stroke-width="0.7" stroke-opacity="0.5"/>
<line x1="106" y1="355.1" x2="106" y2="350.6" stroke="#bac93c" stroke-width="0.7" stroke-opacity="0.5"/>
<line x1="107.5" y1="355.1" x2="107.5" y2="353.3" stroke="#bac93c" stroke-width="0.7" stroke-opacity="0.5"/>
<line x1="116.4" y1="355.1" x2="116.4" y2="351.1" stroke="#bac93c" stroke-width="0.7" stroke-opacity="0.5"/>
<line x1="105.9" y1="355.1" x2="105.9" y2="353.3" stroke="#bac93c" stroke-width="0.7" stroke-opacity="0.5"/>
<line x1="95.4" y1="355.1" x2="95.4" y2="350.9" stroke="#bac93c" stroke-width="0.7" stroke-opacity="0.5"/>
<line x1="99.7" y1="355.1" x2="99.7" y2="352.4" stroke="#bac93c" stroke-width="0.7" stroke-opacity="0.5"/>
<line x1="114.6" y1="355.1" x2="114.6" y2="352.7" stroke="#bac93c" stroke-width="0.7" stroke-opacity="0.5"/>
<line x1="112.3" y1="355.1" x2="112.3" y2="353.9" stroke="#bac93c" stroke-width="0.7" stroke-opacity="0.5"/>
<line x1="100.3" y1="355.1" x2="100.3" y2="351.1" stroke="#bac93c" stroke-width="0.7" stroke-opacity="0.5"/>
<line x1="81.2" y1="355.1" x2="81.2" y2="351.2" stroke="#bac93c" stroke-width="0.7" stroke-opacity="0.5"/>
<line x1="91.3" y1="355.1" x2="91.3" y2="351.7" stroke="#bac93c" stroke-width="0.7" stroke-opacity="0.5"/>
<line x1="103.7" y1="355.1" x2="103.7" y2="353.7" stroke="#bac93c" stroke-width="0.7" stroke-opacity="0.5"/>
<line x1="115.4" y1="355.1" x2="115.4" y2="353.4" stroke="#bac93c" stroke-width="0.7" stroke-opacity="0.5"/>
<line x1="85.8" y1="355.1" x2="85.8" y2="352.6" stroke="#bac93c" stroke-width="0.7" stroke-opacity="0.5"/>
<line x1="83.1" y1="355.1" x2="83.1" y2="353.8" stroke="#bac93c" stroke-width="0.7" stroke-opacity="0.5"/>
<line x1="108.7" y1="355.1" x2="108.7" y2="353.8" stroke="#bac93c" stroke-width="0.7" stroke-opacity="0.5"/>
<line x1="100.7" y1="355.1" x2="100.7" y2="350.1" stroke="#bac93c" stroke-width="0.7" stroke-opacity="0.5"/>
<line x1="97.5" y1="355.1" x2="97.5" y2="350.5" stroke="#bac93c" stroke-width="0.7" stroke-opacity="0.5"/>
<polygon points="117.9,360.5 117.9,353.2 118.5,353.2 118.5,354.4 119.1,354.4 119.1,354.1 119.7,354.1 119.7,351.9 120.3,351.9 120.3,351.6 120.9,351.6 120.9,351.7 121.5,351.7 121.5,352 122.1,352 122.1,352.6 122.7,352.6 122.7,351.4 123.3,351.4 123.3,352 123.9,352 123.9,351.9 124.5,351.9 124.5,351.5 125.1,351.5 125.1,353.8 125.7,353.8 125.7,352 126.3,352 126.3,352.4 126.9,352.4 126.9,353.9 127.5,353.9 127.5,353.2 128.1,353.2 128.1,352 128.7,352 128.7,352.5 129.3,352.5 129.3,352.4 129.9,352.4 129.9,353.2 130.5,353.2 130.5,352.4 131.1,352.4 131.1,351.6 131.7,351.6 131.7,351.4 132.3,351.4 132.3,352.5 132.9,352.5 132.9,352 133.5,352 133.5,353.7 134.1,353.7 134.1,353.5 134.7,353.5 134.7,352.4 135.3,352.4 135.3,351.8 135.9,351.8 135.9,353.6 136.5,353.6 136.5,353.5 137.1,353.5 137.1,352.6 137.7,352.6 137.7,353.1 138.3,353.1 138.3,353.5 138.9,353.5 138.9,353.5 139.5,353.5 139.5,352.8 140.1,352.8 140.1,351.8 140.7,351.8 140.7,353.5 141.3,353.5 141.3,351.8 141.9,351.8 141.9,353.7 142.5,353.7 142.5,353.2 143.1,353.2 143.1,352.2 143.7,352.2 143.7,353.9 144.3,353.9 144.3,353.1 144.9,353.1 144.9,353.5 145.5,353.5 145.5,353.3 146.1,353.3 146.1,351.6 146.7,351.6 146.7,354 147.3,354 147.3,353.1 147.7,353.1 147.7,360.5" fill="#5cb02e" fill-opacity="0.42"/>
<polygon points="117.9,360.5 117.9,356.1 118.7,356.1 118.7,355.8 119.5,355.8 119.5,354.2 120.3,354.2 120.3,354.8 121.1,354.8 121.1,354.3 121.9,354.3 121.9,354.5 122.7,354.5 122.7,354.7 123.5,354.7 123.5,354.2 124.3,354.2 124.3,354.4 125.1,354.4 125.1,354.8 125.9,354.8 125.9,354.5 126.7,354.5 126.7,354.8 127.5,354.8 127.5,354.8 128.3,354.8 128.3,354.2 129.1,354.2 129.1,354.1 129.9,354.1 129.9,354.9 130.7,354.9 130.7,354.2 131.5,354.2 131.5,354.4 132.3,354.4 132.3,355.1 133.1,355.1 133.1,355 133.9,355 133.9,354.7 134.7,354.7 134.7,354.2 135.5,354.2 135.5,354.2 136.3,354.2 136.3,354.8 137.1,354.8 137.1,354.7 137.9,354.7 137.9,354.2 138.7,354.2 138.7,354.9 139.5,354.9 139.5,355 140.3,355 140.3,354.7 141.1,354.7 141.1,354.4 141.9,354.4 141.9,354.2 142.7,354.2 142.7,354.2 143.5,354.2 143.5,355.1 144.3,355.1 144.3,354.9 145.1,354.9 145.1,355 145.9,355 145.9,354.5 146.7,354.5 146.7,355.4 147.5,355.4 147.5,355.8 147.7,355.8 147.7,360.5" fill="#5cb02e"/>
<line x1="136.1" y1="355.1" x2="136.1" y2="351.7" stroke="#6a945c" stroke-width="0.7" stroke-opacity="0.5"/>
<line x1="138.2" y1="355.1" x2="138.2" y2="353.5" stroke="#6a945c" stroke-width="0.7" stroke-opacity="0.5"/>
<line x1="144.3" y1="355.1" x2="144.3" y2="350.2" stroke="#6a945c" stroke-width="0.7" stroke-opacity="0.5"/>
<line x1="142.2" y1="355.1" x2="142.2" y2="350.7" stroke="#6a945c" stroke-width="0.7" stroke-opacity="0.5"/>
<line x1="123.3" y1="355.1" x2="123.3" y2="353.9" stroke="#6a945c" stroke-width="0.7" stroke-opacity="0.5"/>
<line x1="128.9" y1="355.1" x2="128.9" y2="351.1" stroke="#6a945c" stroke-width="0.7" stroke-opacity="0.5"/>
<line x1="124.1" y1="355.1" x2="124.1" y2="350.2" stroke="#6a945c" stroke-width="0.7" stroke-opacity="0.5"/>
<line x1="143.2" y1="355.1" x2="143.2" y2="351.2" stroke="#6a945c" stroke-width="0.7" stroke-opacity="0.5"/>
<line x1="132.3" y1="355.1" x2="132.3" y2="353.7" stroke="#6a945c" stroke-width="0.7" stroke-opacity="0.5"/>
<line x1="141.8" y1="355.1" x2="141.8" y2="353.6" stroke="#6a945c" stroke-width="0.7" stroke-opacity="0.5"/>
<line x1="132.7" y1="355.1" x2="132.7" y2="350.9" stroke="#6a945c" stroke-width="0.7" stroke-opacity="0.5"/>
<line x1="136.7" y1="355.1" x2="136.7" y2="353.4" stroke="#6a945c" stroke-width="0.7" stroke-opacity="0.5"/>
<line x1="143.8" y1="355.1" x2="143.8" y2="353.1" stroke="#6a945c" stroke-width="0.7" stroke-opacity="0.5"/>
<line x1="130.5" y1="355.1" x2="130.5" y2="352.6" stroke="#6a945c" stroke-width="0.7" stroke-opacity="0.5"/>
<line x1="138.6" y1="355.1" x2="138.6" y2="354" stroke="#6a945c" stroke-width="0.7" stroke-opacity="0.5"/>
<line x1="136.8" y1="355.1" x2="136.8" y2="352.4" stroke="#6a945c" stroke-width="0.7" stroke-opacity="0.5"/>
<line x1="141.5" y1="355.1" x2="141.5" y2="352.9" stroke="#6a945c" stroke-width="0.7" stroke-opacity="0.5"/>
<line x1="134.9" y1="355.1" x2="134.9" y2="349.5" stroke="#6a945c" stroke-width="0.7" stroke-opacity="0.5"/>
<polygon points="147.7,360.5 147.7,355.2 148.3,355.2 148.3,352.7 148.9,352.7 148.9,353 149.5,353 149.5,353.1 150.1,353.1 150.1,353.2 150.7,353.2 150.7,353.3 151.3,353.3 151.3,351.7 151.9,351.7 151.9,353.4 152.5,353.4 152.5,351.4 153.1,351.4 153.1,352.6 153.7,352.6 153.7,353.2 154.3,353.2 154.3,351.9 154.9,351.9 154.9,352.4 155.5,352.4 155.5,351.6 156.1,351.6 156.1,353.5 156.7,353.5 156.7,352.1 157.3,352.1 157.3,353.8 157.9,353.8 157.9,353.4 158.5,353.4 158.5,352.8 159.1,352.8 159.1,353.1 159.7,353.1 159.7,353.2 160.3,353.2 160.3,352.4 160.9,352.4 160.9,352 161.5,352 161.5,352.8 162.1,352.8 162.1,352.6 162.7,352.6 162.7,351.9 163.3,351.9 163.3,353.3 163.9,353.3 163.9,351.3 164.5,351.3 164.5,353.8 165.1,353.8 165.1,352.9 165.7,352.9 165.7,351.8 166.3,351.8 166.3,353.3 166.9,353.3 166.9,353 167.5,353 167.5,353.5 168.1,353.5 168.1,351.4 168.7,351.4 168.7,351.6 169.3,351.6 169.3,353.7 169.9,353.7 169.9,352.5 170.5,352.5 170.5,353.5 171.1,353.5 171.1,353.9 171.7,353.9 171.7,353.3 172.3,353.3 172.3,352.1 172.9,352.1 172.9,352.5 173.5,352.5 173.5,353.2 174.1,353.2 174.1,352.5 174.7,352.5 174.7,354.3 175.3,354.3 175.3,354.2 175.6,354.2 175.6,360.5" fill="#c0dd16" fill-opacity="0.42"/>
<polygon points="147.7,360.5 147.7,356.9 148.5,356.9 148.5,355.2 149.3,355.2 149.3,354.7 150.1,354.7 150.1,354.4 150.9,354.4 150.9,354.8 151.7,354.8 151.7,354.7 152.5,354.7 152.5,354.5 153.3,354.5 153.3,354.8 154.1,354.8 154.1,354.6 154.9,354.6 154.9,354.3 155.7,354.3 155.7,355 156.5,355 156.5,354.9 157.3,354.9 157.3,355.1 158.1,355.1 158.1,354.6 158.9,354.6 158.9,355 159.7,355 159.7,354.6 160.5,354.6 160.5,354.9 161.3,354.9 161.3,354.6 162.1,354.6 162.1,354.8 162.9,354.8 162.9,354.4 163.7,354.4 163.7,354.3 164.5,354.3 164.5,354.1 165.3,354.1 165.3,354.6 166.1,354.6 166.1,354.2 166.9,354.2 166.9,354.2 167.7,354.2 167.7,354.8 168.5,354.8 168.5,354.1 169.3,354.1 169.3,354.1 170.1,354.1 170.1,354.9 170.9,354.9 170.9,354.3 171.7,354.3 171.7,354.4 172.5,354.4 172.5,354.5 173.3,354.5 173.3,354.4 174.1,354.4 174.1,354.9 174.9,354.9 174.9,355.3 175.6,355.3 175.6,360.5" fill="#c0dd16"/>
<line x1="167.7" y1="355.1" x2="167.7" y2="353.6" stroke="#bac93c" stroke-width="0.7" stroke-opacity="0.5"/>
<line x1="174.3" y1="355.1" x2="174.3" y2="351" stroke="#bac93c" stroke-width="0.7" stroke-opacity="0.5"/>
<line x1="149.6" y1="355.1" x2="149.6" y2="354" stroke="#bac93c" stroke-width="0.7" stroke-opacity="0.5"/>
<line x1="152.7" y1="355.1" x2="152.7" y2="351.4" stroke="#bac93c" stroke-width="0.7" stroke-opacity="0.5"/>
<line x1="167.7" y1="355.1" x2="167.7" y2="349.7" stroke="#bac93c" stroke-width="0.7" stroke-opacity="0.5"/>
<line x1="172" y1="355.1" x2="172" y2="353.6" stroke="#bac93c" stroke-width="0.7" stroke-opacity="0.5"/>
<line x1="153.4" y1="355.1" x2="153.4" y2="353.9" stroke="#bac93c" stroke-width="0.7" stroke-opacity="0.5"/>
<line x1="158.7" y1="355.1" x2="158.7" y2="352.7" stroke="#bac93c" stroke-width="0.7" stroke-opacity="0.5"/>
<line x1="158.4" y1="355.1" x2="158.4" y2="350.5" stroke="#bac93c" stroke-width="0.7" stroke-opacity="0.5"/>
<line x1="164.7" y1="355.1" x2="164.7" y2="350.6" stroke="#bac93c" stroke-width="0.7" stroke-opacity="0.5"/>
<line x1="171.5" y1="355.1" x2="171.5" y2="350.8" stroke="#bac93c" stroke-width="0.7" stroke-opacity="0.5"/>
<line x1="162" y1="355.1" x2="162" y2="352.8" stroke="#bac93c" stroke-width="0.7" stroke-opacity="0.5"/>
<line x1="162.6" y1="355.1" x2="162.6" y2="352.5" stroke="#bac93c" stroke-width="0.7" stroke-opacity="0.5"/>
<line x1="166.2" y1="355.1" x2="166.2" y2="350.3" stroke="#bac93c" stroke-width="0.7" stroke-opacity="0.5"/>
<line x1="166.4" y1="355.1" x2="166.4" y2="353.4" stroke="#bac93c" stroke-width="0.7" stroke-opacity="0.5"/>
<line x1="163.4" y1="355.1" x2="163.4" y2="352.5" stroke="#bac93c" stroke-width="0.7" stroke-opacity="0.5"/>
<line x1="151.4" y1="355.1" x2="151.4" y2="353.8" stroke="#bac93c" stroke-width="0.7" stroke-opacity="0.5"/>
<polygon points="175.6,360.5 175.6,354.2 176.2,354.2 176.2,352.4 176.8,352.4 176.8,352.4 177.4,352.4 177.4,353.8 178,353.8 178,351.5 178.6,351.5 178.6,352 179.2,352 179.2,352.3 179.8,352.3 179.8,353.9 180.4,353.9 180.4,353.1 181,353.1 181,353 181.6,353 181.6,352.6 182.2,352.6 182.2,353.6 182.8,353.6 182.8,352.3 183.4,352.3 183.4,352.3 184,352.3 184,352.2 184.6,352.2 184.6,352.6 185.2,352.6 185.2,352.5 185.8,352.5 185.8,353.6 186.4,353.6 186.4,351.8 187,351.8 187,351.6 187.6,351.6 187.6,351.7 188.2,351.7 188.2,351.9 188.8,351.9 188.8,353.3 189.4,353.3 189.4,353.1 190,353.1 190,353.8 190.6,353.8 190.6,351.9 191.2,351.9 191.2,351.7 191.8,351.7 191.8,351.5 192.4,351.5 192.4,352.3 193,352.3 193,351.8 193.6,351.8 193.6,351.7 194.2,351.7 194.2,353.6 194.8,353.6 194.8,353.7 195.4,353.7 195.4,351.6 196,351.6 196,351.4 196.6,351.4 196.6,352 197.2,352 197.2,352.3 197.8,352.3 197.8,352.9 198.4,352.9 198.4,351.7 199,351.7 199,353.2 199.6,353.2 199.6,353.8 200.2,353.8 200.2,351.8 200.8,351.8 200.8,353.7 201.4,353.7 201.4,352.5 202,352.5 202,353.2 202.5,353.2 202.5,360.5" fill="#5cb02e" fill-opacity="0.42"/>
<polygon points="175.6,360.5 175.6,356.9 176.4,356.9 176.4,355.6 177.2,355.6 177.2,354.8 178,354.8 178,354.3 178.8,354.3 178.8,354.3 179.6,354.3 179.6,354.8 180.4,354.8 180.4,354.9 181.2,354.9 181.2,354.8 182,354.8 182,354.7 182.8,354.7 182.8,354.5 183.6,354.5 183.6,354.2 184.4,354.2 184.4,354.8 185.2,354.8 185.2,355 186,355 186,354.5 186.8,354.5 186.8,354.7 187.6,354.7 187.6,354.4 188.4,354.4 188.4,354.4 189.2,354.4 189.2,354.6 190,354.6 190,354.3 190.8,354.3 190.8,354.9 191.6,354.9 191.6,354.3 192.4,354.3 192.4,354.9 193.2,354.9 193.2,354.6 194,354.6 194,354.5 194.8,354.5 194.8,354.6 195.6,354.6 195.6,355 196.4,355 196.4,354.6 197.2,354.6 197.2,354.8 198,354.8 198,354.8 198.8,354.8 198.8,354.7 199.6,354.7 199.6,354.7 200.4,354.7 200.4,354.9 201.2,354.9 201.2,354.8 202,354.8 202,355.5 202.5,355.5 202.5,360.5" fill="#5cb02e"/>
<line x1="200.7" y1="355.1" x2="200.7" y2="353.6" stroke="#6a945c" stroke-width="0.7" stroke-opacity="0.5"/>
<line x1="182.1" y1="355.1" x2="182.1" y2="352.8" stroke="#6a945c" stroke-width="0.7" stroke-opacity="0.5"/>
<line x1="191.5" y1="355.1" x2="191.5" y2="351.3" stroke="#6a945c" stroke-width="0.7" stroke-opacity="0.5"/>
<line x1="191.4" y1="355.1" x2="191.4" y2="352.4" stroke="#6a945c" stroke-width="0.7" stroke-opacity="0.5"/>
<line x1="202.1" y1="355.1" x2="202.1" y2="349.5" stroke="#6a945c" stroke-width="0.7" stroke-opacity="0.5"/>
<line x1="197" y1="355.1" x2="197" y2="353.4" stroke="#6a945c" stroke-width="0.7" stroke-opacity="0.5"/>
<line x1="196" y1="355.1" x2="196" y2="354" stroke="#6a945c" stroke-width="0.7" stroke-opacity="0.5"/>
<line x1="200.7" y1="355.1" x2="200.7" y2="351.2" stroke="#6a945c" stroke-width="0.7" stroke-opacity="0.5"/>
<line x1="200.2" y1="355.1" x2="200.2" y2="352.7" stroke="#6a945c" stroke-width="0.7" stroke-opacity="0.5"/>
<line x1="194.6" y1="355.1" x2="194.6" y2="353.4" stroke="#6a945c" stroke-width="0.7" stroke-opacity="0.5"/>
<line x1="200.2" y1="355.1" x2="200.2" y2="353.6" stroke="#6a945c" stroke-width="0.7" stroke-opacity="0.5"/>
<line x1="176.2" y1="355.1" x2="176.2" y2="353.3" stroke="#6a945c" stroke-width="0.7" stroke-opacity="0.5"/>
<line x1="193.3" y1="355.1" x2="193.3" y2="352.1" stroke="#6a945c" stroke-width="0.7" stroke-opacity="0.5"/>
<line x1="197.1" y1="355.1" x2="197.1" y2="351.3" stroke="#6a945c" stroke-width="0.7" stroke-opacity="0.5"/>
<line x1="196.4" y1="355.1" x2="196.4" y2="349.7" stroke="#6a945c" stroke-width="0.7" stroke-opacity="0.5"/>
<line x1="177.7" y1="355.1" x2="177.7" y2="353.8" stroke="#6a945c" stroke-width="0.7" stroke-opacity="0.5"/>
<polygon points="202.5,360.5 202.5,354.6 203.1,354.6 203.1,354.5 203.7,354.5 203.7,352.8 204.3,352.8 204.3,352 204.9,352 204.9,353.4 205.5,353.4 205.5,352.6 206.1,352.6 206.1,353.3 206.7,353.3 206.7,353.9 207.3,353.9 207.3,353.2 207.9,353.2 207.9,353.2 208.5,353.2 208.5,352.1 209.1,352.1 209.1,351.4 209.7,351.4 209.7,353.7 210.3,353.7 210.3,352.6 210.9,352.6 210.9,352.7 211.5,352.7 211.5,352.3 212.1,352.3 212.1,353.5 212.7,353.5 212.7,351.4 213.3,351.4 213.3,353.2 213.9,353.2 213.9,352.4 214.5,352.4 214.5,352.8 215.1,352.8 215.1,352.4 215.7,352.4 215.7,351.6 216.3,351.6 216.3,352.3 216.9,352.3 216.9,353 217.5,353 217.5,351.4 218.1,351.4 218.1,353.4 218.7,353.4 218.7,351.4 219.3,351.4 219.3,352.1 219.9,352.1 219.9,353.3 220.5,353.3 220.5,351.3 221.1,351.3 221.1,351.6 221.7,351.6 221.7,352.6 222.3,352.6 222.3,351.8 222.9,351.8 222.9,353.7 223.5,353.7 223.5,353.2 224.1,353.2 224.1,352.7 224.7,352.7 224.7,351.4 225.3,351.4 225.3,352.9 225.9,352.9 225.9,351.3 226.5,351.3 226.5,352.4 227.1,352.4 227.1,352.2 227.7,352.2 227.7,352.6 228.3,352.6 228.3,354.8 228.5,354.8 228.5,360.5" fill="#c0dd16" fill-opacity="0.42"/>
<polygon points="202.5,360.5 202.5,356.1 203.3,356.1 203.3,355.4 204.1,355.4 204.1,355 204.9,355 204.9,354.9 205.7,354.9 205.7,354.3 206.5,354.3 206.5,354.5 207.3,354.5 207.3,354.2 208.1,354.2 208.1,354.2 208.9,354.2 208.9,354.6 209.7,354.6 209.7,354.7 210.5,354.7 210.5,354.3 211.3,354.3 211.3,354.1 212.1,354.1 212.1,354.8 212.9,354.8 212.9,354.6 213.7,354.6 213.7,355 214.5,355 214.5,355.1 215.3,355.1 215.3,355 216.1,355 216.1,354.7 216.9,354.7 216.9,354.5 217.7,354.5 217.7,354.2 218.5,354.2 218.5,354.3 219.3,354.3 219.3,354.1 220.1,354.1 220.1,354.8 220.9,354.8 220.9,354.2 221.7,354.2 221.7,354.8 222.5,354.8 222.5,354.7 223.3,354.7 223.3,354.6 224.1,354.6 224.1,354.1 224.9,354.1 224.9,354.6 225.7,354.6 225.7,355 226.5,355 226.5,354.7 227.3,354.7 227.3,355 228.1,355 228.1,355.8 228.5,355.8 228.5,360.5" fill="#c0dd16"/>
<line x1="206.8" y1="355.1" x2="206.8" y2="353.3" stroke="#bac93c" stroke-width="0.7" stroke-opacity="0.5"/>
<line x1="207.1" y1="355.1" x2="207.1" y2="352.3" stroke="#bac93c" stroke-width="0.7" stroke-opacity="0.5"/>
<line x1="212.8" y1="355.1" x2="212.8" y2="353.1" stroke="#bac93c" stroke-width="0.7" stroke-opacity="0.5"/>
<line x1="215.7" y1="355.1" x2="215.7" y2="350.9" stroke="#bac93c" stroke-width="0.7" stroke-opacity="0.5"/>
<line x1="218.4" y1="355.1" x2="218.4" y2="351" stroke="#bac93c" stroke-width="0.7" stroke-opacity="0.5"/>
<line x1="213.1" y1="355.1" x2="213.1" y2="349.8" stroke="#bac93c" stroke-width="0.7" stroke-opacity="0.5"/>
<line x1="205.8" y1="355.1" x2="205.8" y2="353.9" stroke="#bac93c" stroke-width="0.7" stroke-opacity="0.5"/>
<line x1="205.3" y1="355.1" x2="205.3" y2="352.4" stroke="#bac93c" stroke-width="0.7" stroke-opacity="0.5"/>
<line x1="211.1" y1="355.1" x2="211.1" y2="353.6" stroke="#bac93c" stroke-width="0.7" stroke-opacity="0.5"/>
<line x1="203.1" y1="355.1" x2="203.1" y2="350.7" stroke="#bac93c" stroke-width="0.7" stroke-opacity="0.5"/>
<line x1="204.4" y1="355.1" x2="204.4" y2="351.6" stroke="#bac93c" stroke-width="0.7" stroke-opacity="0.5"/>
<line x1="227.2" y1="355.1" x2="227.2" y2="353.4" stroke="#bac93c" stroke-width="0.7" stroke-opacity="0.5"/>
<line x1="217.7" y1="355.1" x2="217.7" y2="350.1" stroke="#bac93c" stroke-width="0.7" stroke-opacity="0.5"/>
<line x1="213.9" y1="355.1" x2="213.9" y2="349.8" stroke="#bac93c" stroke-width="0.7" stroke-opacity="0.5"/>
<line x1="203.8" y1="355.1" x2="203.8" y2="351.9" stroke="#bac93c" stroke-width="0.7" stroke-opacity="0.5"/>
<line x1="222.5" y1="355.1" x2="222.5" y2="352.4" stroke="#bac93c" stroke-width="0.7" stroke-opacity="0.5"/>
<polygon points="228.5,360.5 228.5,353.2 229.1,353.2 229.1,352.2 229.7,352.2 229.7,352.1 230.3,352.1 230.3,352.7 230.9,352.7 230.9,352.1 231.5,352.1 231.5,351.6 232.1,351.6 232.1,352.3 232.7,352.3 232.7,353.8 233.3,353.8 233.3,353.4 233.9,353.4 233.9,352.3 234.5,352.3 234.5,353.6 235.1,353.6 235.1,353.5 235.7,353.5 235.7,351.4 236.3,351.4 236.3,352.6 236.9,352.6 236.9,351.3 237.5,351.3 237.5,351.7 238.1,351.7 238.1,351.9 238.7,351.9 238.7,352.8 239.3,352.8 239.3,353.3 239.9,353.3 239.9,353.7 240.5,353.7 240.5,353.3 241.1,353.3 241.1,352.6 241.7,352.6 241.7,352.3 242.3,352.3 242.3,353.5 242.9,353.5 242.9,352.7 243.5,352.7 243.5,352.9 244.1,352.9 244.1,351.6 244.7,351.6 244.7,353.1 245.3,353.1 245.3,351.7 245.9,351.7 245.9,352.2 246.5,352.2 246.5,351.5 247.1,351.5 247.1,353.2 247.7,353.2 247.7,353.2 248.3,353.2 248.3,352.6 248.9,352.6 248.9,353.2 249.5,353.2 249.5,352.3 250.1,352.3 250.1,351.6 250.7,351.6 250.7,353.2 251.3,353.2 251.3,354.7 251.5,354.7 251.5,360.5" fill="#5cb02e" fill-opacity="0.42"/>
<polygon points="228.5,360.5 228.5,356.9 229.3,356.9 229.3,355.4 230.1,355.4 230.1,354.7 230.9,354.7 230.9,355.1 231.7,355.1 231.7,354.7 232.5,354.7 232.5,354.3 233.3,354.3 233.3,354.5 234.1,354.5 234.1,354.8 234.9,354.8 234.9,354.1 235.7,354.1 235.7,354.1 236.5,354.1 236.5,355.1 237.3,355.1 237.3,354.9 238.1,354.9 238.1,354.5 238.9,354.5 238.9,354.8 239.7,354.8 239.7,354.9 240.5,354.9 240.5,354.3 241.3,354.3 241.3,354.2 242.1,354.2 242.1,354.6 242.9,354.6 242.9,354.1 243.7,354.1 243.7,354.5 244.5,354.5 244.5,354.5 245.3,354.5 245.3,354.6 246.1,354.6 246.1,354.3 246.9,354.3 246.9,354.2 247.7,354.2 247.7,354.6 248.5,354.6 248.5,354.6 249.3,354.6 249.3,354.3 250.1,354.3 250.1,354.5 250.9,354.5 250.9,355.6 251.5,355.6 251.5,360.5" fill="#5cb02e"/>
<line x1="232.5" y1="355.1" x2="232.5" y2="353.8" stroke="#6a945c" stroke-width="0.7" stroke-opacity="0.5"/>
<line x1="237" y1="355.1" x2="237" y2="353.9" stroke="#6a945c" stroke-width="0.7" stroke-opacity="0.5"/>
<line x1="236.7" y1="355.1" x2="236.7" y2="353" stroke="#6a945c" stroke-width="0.7" stroke-opacity="0.5"/>
<line x1="231.7" y1="355.1" x2="231.7" y2="353.7" stroke="#6a945c" stroke-width="0.7" stroke-opacity="0.5"/>
<line x1="243.1" y1="355.1" x2="243.1" y2="350" stroke="#6a945c" stroke-width="0.7" stroke-opacity="0.5"/>
<line x1="233.8" y1="355.1" x2="233.8" y2="351.1" stroke="#6a945c" stroke-width="0.7" stroke-opacity="0.5"/>
<line x1="238.1" y1="355.1" x2="238.1" y2="354" stroke="#6a945c" stroke-width="0.7" stroke-opacity="0.5"/>
<line x1="249.6" y1="355.1" x2="249.6" y2="353.8" stroke="#6a945c" stroke-width="0.7" stroke-opacity="0.5"/>
<line x1="239.6" y1="355.1" x2="239.6" y2="354" stroke="#6a945c" stroke-width="0.7" stroke-opacity="0.5"/>
<line x1="235.2" y1="355.1" x2="235.2" y2="353" stroke="#6a945c" stroke-width="0.7" stroke-opacity="0.5"/>
<line x1="237.3" y1="355.1" x2="237.3" y2="352.2" stroke="#6a945c" stroke-width="0.7" stroke-opacity="0.5"/>
<line x1="250.4" y1="355.1" x2="250.4" y2="351.7" stroke="#6a945c" stroke-width="0.7" stroke-opacity="0.5"/>
<line x1="238.9" y1="355.1" x2="238.9" y2="350.4" stroke="#6a945c" stroke-width="0.7" stroke-opacity="0.5"/>
<line x1="239" y1="355.1" x2="239" y2="351.2" stroke="#6a945c" stroke-width="0.7" stroke-opacity="0.5"/>
<polygon points="251.5,360.5 251.5,354.2 252.1,354.2 252.1,352.9 252.7,352.9 252.7,354 253.3,354 253.3,353.5 253.9,353.5 253.9,352.1 254.5,352.1 254.5,352 255.1,352 255.1,353 255.7,353 255.7,353.8 256.3,353.8 256.3,352.3 256.9,352.3 256.9,353.6 257.5,353.6 257.5,352.9 258.1,352.9 258.1,351.8 258.7,351.8 258.7,351.8 259.3,351.8 259.3,351.8 259.9,351.8 259.9,353.6 260.5,353.6 260.5,352 261.1,352 261.1,353.8 261.7,353.8 261.7,351.3 262.3,351.3 262.3,352 262.9,352 262.9,351.9 263.5,351.9 263.5,351.7 264.1,351.7 264.1,351.8 264.7,351.8 264.7,351.9 265.3,351.9 265.3,351.5 265.9,351.5 265.9,353.7 266.5,353.7 266.5,353.7 267.1,353.7 267.1,352.1 267.7,352.1 267.7,353.6 268.3,353.6 268.3,351.8 268.9,351.8 268.9,352.8 269.5,352.8 269.5,351.9 270.1,351.9 270.1,353.6 270.7,353.6 270.7,352.5 271.3,352.5 271.3,352 271.9,352 271.9,352 272.5,352 272.5,353.4 273.1,353.4 273.1,353.4 273.7,353.4 273.7,352.3 274.3,352.3 274.3,353 274.6,353 274.6,360.5" fill="#c0dd16" fill-opacity="0.42"/>
<polygon points="251.5,360.5 251.5,356.5 252.3,356.5 252.3,356 253.1,356 253.1,354.4 253.9,354.4 253.9,354.3 254.7,354.3 254.7,354.5 255.5,354.5 255.5,354.1 256.3,354.1 256.3,354.5 257.1,354.5 257.1,354.3 257.9,354.3 257.9,354.9 258.7,354.9 258.7,354.8 259.5,354.8 259.5,354.1 260.3,354.1 260.3,354.1 261.1,354.1 261.1,355 261.9,355 261.9,354.5 262.7,354.5 262.7,354.4 263.5,354.4 263.5,354.5 264.3,354.5 264.3,354.7 265.1,354.7 265.1,354.7 265.9,354.7 265.9,354.2 266.7,354.2 266.7,355 267.5,355 267.5,355 268.3,355 268.3,354.4 269.1,354.4 269.1,355.1 269.9,355.1 269.9,354.7 270.7,354.7 270.7,354.5 271.5,354.5 271.5,354.4 272.3,354.4 272.3,354.8 273.1,354.8 273.1,354.6 273.9,354.6 273.9,355.5 274.6,355.5 274.6,360.5" fill="#c0dd16"/>
<line x1="270.2" y1="355.1" x2="270.2" y2="352.5" stroke="#bac93c" stroke-width="0.7" stroke-opacity="0.5"/>
<line x1="272.7" y1="355.1" x2="272.7" y2="352.6" stroke="#bac93c" stroke-width="0.7" stroke-opacity="0.5"/>
<line x1="272.3" y1="355.1" x2="272.3" y2="352.8" stroke="#bac93c" stroke-width="0.7" stroke-opacity="0.5"/>
<line x1="268.1" y1="355.1" x2="268.1" y2="353.2" stroke="#bac93c" stroke-width="0.7" stroke-opacity="0.5"/>
<line x1="265.9" y1="355.1" x2="265.9" y2="350.9" stroke="#bac93c" stroke-width="0.7" stroke-opacity="0.5"/>
<line x1="253.3" y1="355.1" x2="253.3" y2="350.8" stroke="#bac93c" stroke-width="0.7" stroke-opacity="0.5"/>
<line x1="253.8" y1="355.1" x2="253.8" y2="350.7" stroke="#bac93c" stroke-width="0.7" stroke-opacity="0.5"/>
<line x1="255.1" y1="355.1" x2="255.1" y2="353.4" stroke="#bac93c" stroke-width="0.7" stroke-opacity="0.5"/>
<line x1="258.9" y1="355.1" x2="258.9" y2="353.4" stroke="#bac93c" stroke-width="0.7" stroke-opacity="0.5"/>
<line x1="265.5" y1="355.1" x2="265.5" y2="353" stroke="#bac93c" stroke-width="0.7" stroke-opacity="0.5"/>
<line x1="270.2" y1="355.1" x2="270.2" y2="352.9" stroke="#bac93c" stroke-width="0.7" stroke-opacity="0.5"/>
<line x1="269.2" y1="355.1" x2="269.2" y2="353.1" stroke="#bac93c" stroke-width="0.7" stroke-opacity="0.5"/>
<line x1="263.7" y1="355.1" x2="263.7" y2="351.9" stroke="#bac93c" stroke-width="0.7" stroke-opacity="0.5"/>
<line x1="259.7" y1="355.1" x2="259.7" y2="350.7" stroke="#bac93c" stroke-width="0.7" stroke-opacity="0.5"/>
<polygon points="274.4,360.5 274.4,353.7 275,353.7 275,353.4 275.6,353.4 275.6,352.5 276.2,352.5 276.2,353.3 276.8,353.3 276.8,353.1 277.4,353.1 277.4,351.6 278,351.6 278,352.1 278.6,352.1 278.6,352.7 279.2,352.7 279.2,351.3 279.8,351.3 279.8,351.4 280.4,351.4 280.4,352.1 281,352.1 281,353.6 281.6,353.6 281.6,353.5 282.2,353.5 282.2,354.5 282.8,354.5 282.8,355 283.4,355 283.4,354.7 284,354.7 284,353.3 284.6,353.3 284.6,351.6 285.2,351.6 285.2,353.6 285.8,353.6 285.8,353.7 286.4,353.7 286.4,352.5 287,352.5 287,353.9 287.6,353.9 287.6,353 288.2,353 288.2,353.3 288.8,353.3 288.8,351.9 289.4,351.9 289.4,353.4 290,353.4 290,352.5 290.6,352.5 290.6,351.6 291.2,351.6 291.2,352.1 291.8,352.1 291.8,352.9 292.4,352.9 292.4,353.4 293,353.4 293,351.4 293.6,351.4 293.6,351.9 294.2,351.9 294.2,352.4 294.8,352.4 294.8,354 295.4,354 295.4,354.6 295.5,354.6 295.5,360.5" fill="#5cb02e" fill-opacity="0.42"/>
<polygon points="274.4,360.5 274.4,356.1 275.2,356.1 275.2,355.2 276,355.2 276,354.3 276.8,354.3 276.8,354.8 277.6,354.8 277.6,354.4 278.4,354.4 278.4,354.3 279.2,354.3 279.2,354.2 280,354.2 280,354.4 280.8,354.4 280.8,355 281.6,355 281.6,356 282.4,356 282.4,357.7 283.2,357.7 283.2,357.2 284,357.2 284,355.7 284.8,355.7 284.8,355.1 285.6,355.1 285.6,354.6 286.4,354.6 286.4,354.9 287.2,354.9 287.2,354.7 288,354.7 288,354.4 288.8,354.4 288.8,354.6 289.6,354.6 289.6,354.6 290.4,354.6 290.4,354.6 291.2,354.6 291.2,354.1 292,354.1 292,354.2 292.8,354.2 292.8,354.6 293.6,354.6 293.6,355 294.4,355 294.4,355 295.2,355 295.2,356.5 295.5,356.5 295.5,360.5" fill="#5cb02e"/>
<line x1="275" y1="355.1" x2="275" y2="353.9" stroke="#6a945c" stroke-width="0.7" stroke-opacity="0.5"/>
<line x1="283.7" y1="355.1" x2="283.7" y2="350.2" stroke="#6a945c" stroke-width="0.7" stroke-opacity="0.5"/>
<line x1="284.9" y1="355.1" x2="284.9" y2="350.7" stroke="#6a945c" stroke-width="0.7" stroke-opacity="0.5"/>
<line x1="285.6" y1="355.1" x2="285.6" y2="351.1" stroke="#6a945c" stroke-width="0.7" stroke-opacity="0.5"/>
<line x1="285.3" y1="355.1" x2="285.3" y2="351" stroke="#6a945c" stroke-width="0.7" stroke-opacity="0.5"/>
<line x1="282" y1="355.1" x2="282" y2="353.3" stroke="#6a945c" stroke-width="0.7" stroke-opacity="0.5"/>
<line x1="291" y1="355.1" x2="291" y2="350.7" stroke="#6a945c" stroke-width="0.7" stroke-opacity="0.5"/>
<line x1="290.9" y1="355.1" x2="290.9" y2="351.4" stroke="#6a945c" stroke-width="0.7" stroke-opacity="0.5"/>
<line x1="290.9" y1="355.1" x2="290.9" y2="351.9" stroke="#6a945c" stroke-width="0.7" stroke-opacity="0.5"/>
<line x1="288.3" y1="355.1" x2="288.3" y2="351.3" stroke="#6a945c" stroke-width="0.7" stroke-opacity="0.5"/>
<line x1="282.9" y1="355.1" x2="282.9" y2="354" stroke="#6a945c" stroke-width="0.7" stroke-opacity="0.5"/>
<line x1="292.4" y1="355.1" x2="292.4" y2="350.1" stroke="#6a945c" stroke-width="0.7" stroke-opacity="0.5"/>
<line x1="281.4" y1="355.1" x2="281.4" y2="352.6" stroke="#6a945c" stroke-width="0.7" stroke-opacity="0.5"/>
<polygon points="295.5,360.5 295.5,355 296.1,355 296.1,352.4 296.7,352.4 296.7,354.1 297.3,354.1 297.3,352.8 297.9,352.8 297.9,353.8 298.5,353.8 298.5,351.7 299.1,351.7 299.1,352.1 299.7,352.1 299.7,351.9 300.3,351.9 300.3,352.4 300.9,352.4 300.9,352.1 301.5,352.1 301.5,351.5 302.1,351.5 302.1,353.7 302.7,353.7 302.7,353.2 303.3,353.2 303.3,353.6 303.9,353.6 303.9,352.7 304.5,352.7 304.5,353.7 305.1,353.7 305.1,352.2 305.7,352.2 305.7,352.3 306.3,352.3 306.3,352 306.9,352 306.9,351.7 307.5,351.7 307.5,353.7 308.1,353.7 308.1,353.8 308.7,353.8 308.7,352.7 309.3,352.7 309.3,352.5 309.9,352.5 309.9,352.1 310.5,352.1 310.5,353 311.1,353 311.1,351.5 311.7,351.5 311.7,352.5 312.3,352.5 312.3,352.6 312.9,352.6 312.9,352.1 313.5,352.1 313.5,351.5 314.1,351.5 314.1,352.3 314.7,352.3 314.7,352.5 315.3,352.5 315.3,360.5" fill="#c0dd16" fill-opacity="0.42"/>
<polygon points="295.5,360.5 295.5,356.8 296.3,356.8 296.3,355.9 297.1,355.9 297.1,355.1 297.9,355.1 297.9,354.5 298.7,354.5 298.7,354.4 299.5,354.4 299.5,354.9 300.3,354.9 300.3,354.5 301.1,354.5 301.1,354.9 301.9,354.9 301.9,354.5 302.7,354.5 302.7,354.1 303.5,354.1 303.5,354.2 304.3,354.2 304.3,354.8 305.1,354.8 305.1,355 305.9,355 305.9,354.9 306.7,354.9 306.7,354.6 307.5,354.6 307.5,354.8 308.3,354.8 308.3,354.7 309.1,354.7 309.1,354.6 309.9,354.6 309.9,354.2 310.7,354.2 310.7,354.7 311.5,354.7 311.5,354.7 312.3,354.7 312.3,354.8 313.1,354.8 313.1,354.5 313.9,354.5 313.9,355.2 314.7,355.2 314.7,355.8 315.3,355.8 315.3,360.5" fill="#c0dd16"/>
<line x1="305.7" y1="355.1" x2="305.7" y2="350.6" stroke="#bac93c" stroke-width="0.7" stroke-opacity="0.5"/>
<line x1="306.3" y1="355.1" x2="306.3" y2="349.8" stroke="#bac93c" stroke-width="0.7" stroke-opacity="0.5"/>
<line x1="302.3" y1="355.1" x2="302.3" y2="352.4" stroke="#bac93c" stroke-width="0.7" stroke-opacity="0.5"/>
<line x1="302.6" y1="355.1" x2="302.6" y2="354" stroke="#bac93c" stroke-width="0.7" stroke-opacity="0.5"/>
<line x1="309.6" y1="355.1" x2="309.6" y2="351.2" stroke="#bac93c" stroke-width="0.7" stroke-opacity="0.5"/>
<line x1="314.2" y1="355.1" x2="314.2" y2="353.9" stroke="#bac93c" stroke-width="0.7" stroke-opacity="0.5"/>
<line x1="312.2" y1="355.1" x2="312.2" y2="350.8" stroke="#bac93c" stroke-width="0.7" stroke-opacity="0.5"/>
<line x1="313" y1="355.1" x2="313" y2="353.7" stroke="#bac93c" stroke-width="0.7" stroke-opacity="0.5"/>
<line x1="300.9" y1="355.1" x2="300.9" y2="351" stroke="#bac93c" stroke-width="0.7" stroke-opacity="0.5"/>
<line x1="308.7" y1="355.1" x2="308.7" y2="353.8" stroke="#bac93c" stroke-width="0.7" stroke-opacity="0.5"/>
<line x1="296.6" y1="355.1" x2="296.6" y2="349.5" stroke="#bac93c" stroke-width="0.7" stroke-opacity="0.5"/>
<line x1="309.6" y1="355.1" x2="309.6" y2="352.9" stroke="#bac93c" stroke-width="0.7" stroke-opacity="0.5"/>
<polygon points="315.6,360.5 315.6,354.1 316.2,354.1 316.2,354.4 316.8,354.4 316.8,353.5 317.4,353.5 317.4,351.4 318,351.4 318,353.7 318.6,353.7 318.6,351.5 319.2,351.5 319.2,351.9 319.8,351.9 319.8,352.9 320.4,352.9 320.4,351.9 321,351.9 321,352.5 321.6,352.5 321.6,352.2 322.2,352.2 322.2,352.4 322.8,352.4 322.8,352.8 323.4,352.8 323.4,351.4 324,351.4 324,351.9 324.6,351.9 324.6,352.9 325.2,352.9 325.2,352.5 325.8,352.5 325.8,353.2 326.4,353.2 326.4,353.6 327,353.6 327,353.2 327.6,353.2 327.6,351.7 328.2,351.7 328.2,353.3 328.8,353.3 328.8,353.2 329.4,353.2 329.4,353.8 330,353.8 330,351.4 330.6,351.4 330.6,353.2 331.2,353.2 331.2,353.4 331.8,353.4 331.8,352 332.4,352 332.4,353.7 333,353.7 333,351.8 333.6,351.8 333.6,352 334.2,352 334.2,353.8 334.8,353.8 334.8,351.9 335.4,351.9 335.4,354 336,354 336,354.8 336.3,354.8 336.3,360.5" fill="#5cb02e" fill-opacity="0.42"/>
<polygon points="315.6,360.5 315.6,356.2 316.4,356.2 316.4,355.1 317.2,355.1 317.2,354.7 318,354.7 318,354.8 318.8,354.8 318.8,354.6 319.6,354.6 319.6,354.3 320.4,354.3 320.4,354.1 321.2,354.1 321.2,354.4 322,354.4 322,354.7 322.8,354.7 322.8,354.6 323.6,354.6 323.6,354.2 324.4,354.2 324.4,354.8 325.2,354.8 325.2,354.7 326,354.7 326,354.9 326.8,354.9 326.8,354.1 327.6,354.1 327.6,354.3 328.4,354.3 328.4,354.9 329.2,354.9 329.2,354.3 330,354.3 330,354.2 330.8,354.2 330.8,354.8 331.6,354.8 331.6,354.8 332.4,354.8 332.4,354.8 333.2,354.8 333.2,354.2 334,354.2 334,354.6 334.8,354.6 334.8,354.4 335.6,354.4 335.6,355.8 336.3,355.8 336.3,360.5" fill="#5cb02e"/>
<line x1="330.9" y1="355.1" x2="330.9" y2="349.6" stroke="#6a945c" stroke-width="0.7" stroke-opacity="0.5"/>
<line x1="325.7" y1="355.1" x2="325.7" y2="353.6" stroke="#6a945c" stroke-width="0.7" stroke-opacity="0.5"/>
<line x1="333.5" y1="355.1" x2="333.5" y2="349.5" stroke="#6a945c" stroke-width="0.7" stroke-opacity="0.5"/>
<line x1="324.1" y1="355.1" x2="324.1" y2="350.1" stroke="#6a945c" stroke-width="0.7" stroke-opacity="0.5"/>
<line x1="335.8" y1="355.1" x2="335.8" y2="349.5" stroke="#6a945c" stroke-width="0.7" stroke-opacity="0.5"/>
<line x1="333.7" y1="355.1" x2="333.7" y2="352.5" stroke="#6a945c" stroke-width="0.7" stroke-opacity="0.5"/>
<line x1="322.5" y1="355.1" x2="322.5" y2="353.5" stroke="#6a945c" stroke-width="0.7" stroke-opacity="0.5"/>
<line x1="321.1" y1="355.1" x2="321.1" y2="353.3" stroke="#6a945c" stroke-width="0.7" stroke-opacity="0.5"/>
<line x1="319.2" y1="355.1" x2="319.2" y2="354" stroke="#6a945c" stroke-width="0.7" stroke-opacity="0.5"/>
<line x1="322.3" y1="355.1" x2="322.3" y2="353.8" stroke="#6a945c" stroke-width="0.7" stroke-opacity="0.5"/>
<line x1="331" y1="355.1" x2="331" y2="352.8" stroke="#6a945c" stroke-width="0.7" stroke-opacity="0.5"/>
<line x1="335.6" y1="355.1" x2="335.6" y2="351.3" stroke="#6a945c" stroke-width="0.7" stroke-opacity="0.5"/>
<polygon points="336.3,360.5 336.3,354.7 336.9,354.7 336.9,353 337.5,353 337.5,352.7 338.1,352.7 338.1,351.4 338.7,351.4 338.7,352.1 339.3,352.1 339.3,353.2 339.9,353.2 339.9,353.4 340.5,353.4 340.5,352.8 341.1,352.8 341.1,353.1 341.7,353.1 341.7,353.3 342.3,353.3 342.3,351.8 342.9,351.8 342.9,353.1 343.5,353.1 343.5,352.6 344.1,352.6 344.1,353 344.7,353 344.7,352.2 345.3,352.2 345.3,353.4 345.9,353.4 345.9,353 346.5,353 346.5,353.2 347.1,353.2 347.1,352.4 347.7,352.4 347.7,352.4 348.3,352.4 348.3,351.7 348.9,351.7 348.9,352.2 349.5,352.2 349.5,353.9 350.1,353.9 350.1,351.9 350.7,351.9 350.7,351.7 351.3,351.7 351.3,351.5 351.9,351.5 351.9,353.3 352.5,353.3 352.5,352.4 353.1,352.4 353.1,353.4 353.7,353.4 353.7,352.3 354.3,352.3 354.3,352 354.9,352 354.9,351.7 355.5,351.7 355.5,353.1 356.1,353.1 356.1,353.5 356.5,353.5 356.5,360.5" fill="#c0dd16" fill-opacity="0.42"/>
<polygon points="336.3,360.5 336.3,356.7 337.1,356.7 337.1,355.9 337.9,355.9 337.9,354.7 338.7,354.7 338.7,354.9 339.5,354.9 339.5,354.4 340.3,354.4 340.3,354.9 341.1,354.9 341.1,354.7 341.9,354.7 341.9,355.1 342.7,355.1 342.7,354.8 343.5,354.8 343.5,354.3 344.3,354.3 344.3,355 345.1,355 345.1,354.6 345.9,354.6 345.9,354.4 346.7,354.4 346.7,354.2 347.5,354.2 347.5,354.5 348.3,354.5 348.3,355.1 349.1,355.1 349.1,354.3 349.9,354.3 349.9,354.2 350.7,354.2 350.7,354.3 351.5,354.3 351.5,354.3 352.3,354.3 352.3,354.4 353.1,354.4 353.1,354.3 353.9,354.3 353.9,354.7 354.7,354.7 354.7,355 355.5,355 355.5,355.6 356.3,355.6 356.3,356.3 356.5,356.3 356.5,360.5" fill="#c0dd16"/>
<line x1="346.5" y1="355.1" x2="346.5" y2="349.3" stroke="#bac93c" stroke-width="0.7" stroke-opacity="0.5"/>
<line x1="343.8" y1="355.1" x2="343.8" y2="352.6" stroke="#bac93c" stroke-width="0.7" stroke-opacity="0.5"/>
<line x1="351.4" y1="355.1" x2="351.4" y2="353.2" stroke="#bac93c" stroke-width="0.7" stroke-opacity="0.5"/>
<line x1="344" y1="355.1" x2="344" y2="353.6" stroke="#bac93c" stroke-width="0.7" stroke-opacity="0.5"/>
<line x1="346.2" y1="355.1" x2="346.2" y2="353.7" stroke="#bac93c" stroke-width="0.7" stroke-opacity="0.5"/>
<line x1="348.6" y1="355.1" x2="348.6" y2="352.6" stroke="#bac93c" stroke-width="0.7" stroke-opacity="0.5"/>
<line x1="340.4" y1="355.1" x2="340.4" y2="353.4" stroke="#bac93c" stroke-width="0.7" stroke-opacity="0.5"/>
<line x1="348.1" y1="355.1" x2="348.1" y2="353.1" stroke="#bac93c" stroke-width="0.7" stroke-opacity="0.5"/>
<line x1="355.6" y1="355.1" x2="355.6" y2="349.5" stroke="#bac93c" stroke-width="0.7" stroke-opacity="0.5"/>
<line x1="344.3" y1="355.1" x2="344.3" y2="351.3" stroke="#bac93c" stroke-width="0.7" stroke-opacity="0.5"/>
<line x1="341.5" y1="355.1" x2="341.5" y2="353.6" stroke="#bac93c" stroke-width="0.7" stroke-opacity="0.5"/>
<line x1="351.9" y1="355.1" x2="351.9" y2="349.7" stroke="#bac93c" stroke-width="0.7" stroke-opacity="0.5"/>
<polygon points="359.8,360.5 359.8,354.7 360.4,354.7 360.4,354 361,354 361,352.6 361.6,352.6 361.6,353.5 362.2,353.5 362.2,353.4 362.8,353.4 362.8,352.6 363.4,352.6 363.4,352.8 364,352.8 364,353.2 364.6,353.2 364.6,352.6 365.2,352.6 365.2,353.2 365.8,353.2 365.8,352.8 366.4,352.8 366.4,351.9 367,351.9 367,352.4 367.6,352.4 367.6,352.8 368.2,352.8 368.2,352.7 368.8,352.7 368.8,351.4 369.4,351.4 369.4,351.4 370,351.4 370,351.6 370.6,351.6 370.6,351.9 371.2,351.9 371.2,352.8 371.8,352.8 371.8,352.5 372.4,352.5 372.4,353.6 373,353.6 373,351.4 373.6,351.4 373.6,353.8 374.2,353.8 374.2,354.6 374.8,354.6 374.8,360.5" fill="#5cb02e" fill-opacity="0.42"/>
<polygon points="359.8,360.5 359.8,356.3 360.6,356.3 360.6,355.9 361.4,355.9 361.4,354.4 362.2,354.4 362.2,354.8 363,354.8 363,354.4 363.8,354.4 363.8,354.6 364.6,354.6 364.6,355 365.4,355 365.4,354.6 366.2,354.6 366.2,354.4 367,354.4 367,355.1 367.8,355.1 367.8,355 368.6,355 368.6,354.7 369.4,354.7 369.4,354.5 370.2,354.5 370.2,354.7 371,354.7 371,354.7 371.8,354.7 371.8,354.4 372.6,354.4 372.6,354.9 373.4,354.9 373.4,355 374.2,355 374.2,355.8 374.8,355.8 374.8,360.5" fill="#5cb02e"/>
<line x1="373.5" y1="355.1" x2="373.5" y2="352.8" stroke="#6a945c" stroke-width="0.7" stroke-opacity="0.5"/>
<line x1="361.2" y1="355.1" x2="361.2" y2="353.5" stroke="#6a945c" stroke-width="0.7" stroke-opacity="0.5"/>
<line x1="367.6" y1="355.1" x2="367.6" y2="349.4" stroke="#6a945c" stroke-width="0.7" stroke-opacity="0.5"/>
<line x1="369.3" y1="355.1" x2="369.3" y2="352.2" stroke="#6a945c" stroke-width="0.7" stroke-opacity="0.5"/>
<line x1="363.6" y1="355.1" x2="363.6" y2="353.1" stroke="#6a945c" stroke-width="0.7" stroke-opacity="0.5"/>
<line x1="372.6" y1="355.1" x2="372.6" y2="349.4" stroke="#6a945c" stroke-width="0.7" stroke-opacity="0.5"/>
<line x1="365.4" y1="355.1" x2="365.4" y2="351.5" stroke="#6a945c" stroke-width="0.7" stroke-opacity="0.5"/>
<line x1="370.1" y1="355.1" x2="370.1" y2="351.1" stroke="#6a945c" stroke-width="0.7" stroke-opacity="0.5"/>
<line x1="364.2" y1="355.1" x2="364.2" y2="353.4" stroke="#6a945c" stroke-width="0.7" stroke-opacity="0.5"/>
<polygon points="377,360.5 377,354.4 377.6,354.4 377.6,353.5 378.2,353.5 378.2,353.7 378.8,353.7 378.8,353.8 379.4,353.8 379.4,351.5 380,351.5 380,353 380.6,353 380.6,352.6 381.2,352.6 381.2,353.1 381.8,353.1 381.8,351.4 382.4,351.4 382.4,352.2 383,352.2 383,351.7 383.6,351.7 383.6,353.3 384.2,353.3 384.2,351.9 384.8,351.9 384.8,352.8 385.4,352.8 385.4,353.3 386,353.3 386,352.2 386.6,352.2 386.6,353.6 387.2,353.6 387.2,351.4 387.8,351.4 387.8,353.5 388.4,353.5 388.4,351.8 389,351.8 389,352.8 389.6,352.8 389.6,353.5 390.2,353.5 390.2,351.9 390.8,351.9 390.8,354.1 391.4,354.1 391.4,352.7 392,352.7 392,360.5" fill="#c0dd16" fill-opacity="0.42"/>
<polygon points="377,360.5 377,356.7 377.8,356.7 377.8,355.8 378.6,355.8 378.6,355.1 379.4,355.1 379.4,355 380.2,355 380.2,354.2 381,354.2 381,354.3 381.8,354.3 381.8,354.7 382.6,354.7 382.6,354.3 383.4,354.3 383.4,354.8 384.2,354.8 384.2,354.7 385,354.7 385,354.7 385.8,354.7 385.8,354.7 386.6,354.7 386.6,354.6 387.4,354.6 387.4,354.6 388.2,354.6 388.2,354.4 389,354.4 389,354.3 389.8,354.3 389.8,354.7 390.6,354.7 390.6,354.9 391.4,354.9 391.4,355.7 392,355.7 392,360.5" fill="#c0dd16"/>
<line x1="379.6" y1="355.1" x2="379.6" y2="353.9" stroke="#bac93c" stroke-width="0.7" stroke-opacity="0.5"/>
<line x1="378" y1="355.1" x2="378" y2="350.8" stroke="#bac93c" stroke-width="0.7" stroke-opacity="0.5"/>
<line x1="379.6" y1="355.1" x2="379.6" y2="353.8" stroke="#bac93c" stroke-width="0.7" stroke-opacity="0.5"/>
<line x1="388.1" y1="355.1" x2="388.1" y2="351.4" stroke="#bac93c" stroke-width="0.7" stroke-opacity="0.5"/>
<line x1="383.7" y1="355.1" x2="383.7" y2="353.8" stroke="#bac93c" stroke-width="0.7" stroke-opacity="0.5"/>
<line x1="390.2" y1="355.1" x2="390.2" y2="353.4" stroke="#bac93c" stroke-width="0.7" stroke-opacity="0.5"/>
<line x1="379.2" y1="355.1" x2="379.2" y2="351" stroke="#bac93c" stroke-width="0.7" stroke-opacity="0.5"/>
<line x1="380.7" y1="355.1" x2="380.7" y2="349.5" stroke="#bac93c" stroke-width="0.7" stroke-opacity="0.5"/>
<line x1="390.1" y1="355.1" x2="390.1" y2="352.6" stroke="#bac93c" stroke-width="0.7" stroke-opacity="0.5"/>
<polygon points="394,360.5 394,353.3 394.6,353.3 394.6,354.4 395.2,354.4 395.2,352.5 395.8,352.5 395.8,353.1 396.4,353.1 396.4,353.4 397,353.4 397,352 397.6,352 397.6,351.5 398.2,351.5 398.2,352.5 398.8,352.5 398.8,351.9 399.4,351.9 399.4,352.9 400,352.9 400,353 400.6,353 400.6,352.1 401.2,352.1 401.2,352.2 401.8,352.2 401.8,353.9 402.4,353.9 402.4,353.4 403,353.4 403,352.1 403.6,352.1 403.6,352.6 404.2,352.6 404.2,354 404.8,354 404.8,354 405.3,354 405.3,360.5" fill="#5cb02e" fill-opacity="0.42"/>
<polygon points="394,360.5 394,356 394.8,356 394.8,355.9 395.6,355.9 395.6,355.1 396.4,355.1 396.4,355 397.2,355 397.2,354.5 398,354.5 398,354.1 398.8,354.1 398.8,354.1 399.6,354.1 399.6,354.5 400.4,354.5 400.4,354.9 401.2,354.9 401.2,355 402,355 402,354.2 402.8,354.2 402.8,354.3 403.6,354.3 403.6,354.5 404.4,354.5 404.4,355 405.2,355 405.2,356.3 405.3,356.3 405.3,360.5" fill="#5cb02e"/>
<line x1="402.1" y1="355.1" x2="402.1" y2="352.8" stroke="#6a945c" stroke-width="0.7" stroke-opacity="0.5"/>
<line x1="394.4" y1="355.1" x2="394.4" y2="349.9" stroke="#6a945c" stroke-width="0.7" stroke-opacity="0.5"/>
<line x1="399.2" y1="355.1" x2="399.2" y2="353.9" stroke="#6a945c" stroke-width="0.7" stroke-opacity="0.5"/>
<line x1="402.9" y1="355.1" x2="402.9" y2="353.8" stroke="#6a945c" stroke-width="0.7" stroke-opacity="0.5"/>
<line x1="397.2" y1="355.1" x2="397.2" y2="350.5" stroke="#6a945c" stroke-width="0.7" stroke-opacity="0.5"/>
<line x1="401.6" y1="355.1" x2="401.6" y2="349.7" stroke="#6a945c" stroke-width="0.7" stroke-opacity="0.5"/>
<line x1="403.5" y1="355.1" x2="403.5" y2="353" stroke="#6a945c" stroke-width="0.7" stroke-opacity="0.5"/>
<polygon points="405.3,360.5 405.3,354.4 405.9,354.4 405.9,354.4 406.5,354.4 406.5,352.2 407.1,352.2 407.1,351.7 407.7,351.7 407.7,352.8 408.3,352.8 408.3,351.8 408.9,351.8 408.9,351.3 409.5,351.3 409.5,352.2 410.1,352.2 410.1,352.6 410.7,352.6 410.7,352.1 411.3,352.1 411.3,352.5 411.9,352.5 411.9,353 412.5,353 412.5,353.1 413.1,353.1 413.1,353.1 413.7,353.1 413.7,355.6 414.3,355.6 414.3,355.4 414.9,355.4 414.9,352.2 415.5,352.2 415.5,353.5 416.1,353.5 416.1,353.4 416.7,353.4 416.7,353.1 417.3,353.1 417.3,351.4 417.9,351.4 417.9,352.5 418.5,352.5 418.5,351.8 419.1,351.8 419.1,352.2 419.7,352.2 419.7,352.5 420.3,352.5 420.3,355.1 420.5,355.1 420.5,360.5" fill="#c0dd16" fill-opacity="0.42"/>
<polygon points="405.3,360.5 405.3,356.9 406.1,356.9 406.1,355.4 406.9,355.4 406.9,354.3 407.7,354.3 407.7,354.3 408.5,354.3 408.5,354.7 409.3,354.7 409.3,354.7 410.1,354.7 410.1,354.2 410.9,354.2 410.9,354.3 411.7,354.3 411.7,354.8 412.5,354.8 412.5,355.1 413.3,355.1 413.3,357.7 414.1,357.7 414.1,357.4 414.9,357.4 414.9,356 415.7,356 415.7,355 416.5,355 416.5,354.5 417.3,354.5 417.3,354.6 418.1,354.6 418.1,354.5 418.9,354.5 418.9,354.9 419.7,354.9 419.7,355.2 420.5,355.2 420.5,360.5" fill="#c0dd16"/>
<line x1="415.1" y1="355.1" x2="415.1" y2="354" stroke="#bac93c" stroke-width="0.7" stroke-opacity="0.5"/>
<line x1="419.8" y1="355.1" x2="419.8" y2="353.4" stroke="#bac93c" stroke-width="0.7" stroke-opacity="0.5"/>
<line x1="406.9" y1="355.1" x2="406.9" y2="351.4" stroke="#bac93c" stroke-width="0.7" stroke-opacity="0.5"/>
<line x1="414.1" y1="355.1" x2="414.1" y2="353.8" stroke="#bac93c" stroke-width="0.7" stroke-opacity="0.5"/>
<line x1="408.8" y1="355.1" x2="408.8" y2="352.9" stroke="#bac93c" stroke-width="0.7" stroke-opacity="0.5"/>
<line x1="418.1" y1="355.1" x2="418.1" y2="353.6" stroke="#bac93c" stroke-width="0.7" stroke-opacity="0.5"/>
<line x1="408.7" y1="355.1" x2="408.7" y2="354" stroke="#bac93c" stroke-width="0.7" stroke-opacity="0.5"/>
<line x1="410.8" y1="355.1" x2="410.8" y2="353.9" stroke="#bac93c" stroke-width="0.7" stroke-opacity="0.5"/>
<line x1="412.3" y1="355.1" x2="412.3" y2="352.5" stroke="#bac93c" stroke-width="0.7" stroke-opacity="0.5"/>
<polygon points="420.5,360.5 420.5,354.8 421.1,354.8 421.1,353.9 421.7,353.9 421.7,352.8 422.3,352.8 422.3,352.1 422.9,352.1 422.9,351.5 423.5,351.5 423.5,353.6 424.1,353.6 424.1,351.6 424.7,351.6 424.7,352.8 425.3,352.8 425.3,353.5 425.9,353.5 425.9,353 426.5,353 426.5,353.3 427.1,353.3 427.1,351.7 427.7,351.7 427.7,353.9 428.3,353.9 428.3,353.3 428.9,353.3 428.9,352.5 429.5,352.5 429.5,353.3 430.1,353.3 430.1,351.7 430.7,351.7 430.7,353.7 431.3,353.7 431.3,351.5 431.9,351.5 431.9,352.2 432.5,352.2 432.5,351.7 433.1,351.7 433.1,353.1 433.7,353.1 433.7,354.7 434.2,354.7 434.2,360.5" fill="#5cb02e" fill-opacity="0.42"/>
<polygon points="420.5,360.5 420.5,356.2 421.3,356.2 421.3,355.7 422.1,355.7 422.1,354.5 422.9,354.5 422.9,354.4 423.7,354.4 423.7,355 424.5,355 424.5,354.9 425.3,354.9 425.3,354.8 426.1,354.8 426.1,354.9 426.9,354.9 426.9,354.2 427.7,354.2 427.7,354.4 428.5,354.4 428.5,354.8 429.3,354.8 429.3,354.4 430.1,354.4 430.1,354.3 430.9,354.3 430.9,354.8 431.7,354.8 431.7,354.3 432.5,354.3 432.5,354.4 433.3,354.4 433.3,355.1 434.1,355.1 434.1,356 434.2,356 434.2,360.5" fill="#5cb02e"/>
<line x1="421.2" y1="355.1" x2="421.2" y2="352.8" stroke="#6a945c" stroke-width="0.7" stroke-opacity="0.5"/>
<line x1="426.4" y1="355.1" x2="426.4" y2="352.6" stroke="#6a945c" stroke-width="0.7" stroke-opacity="0.5"/>
<line x1="433.5" y1="355.1" x2="433.5" y2="351.8" stroke="#6a945c" stroke-width="0.7" stroke-opacity="0.5"/>
<line x1="432.5" y1="355.1" x2="432.5" y2="352.8" stroke="#6a945c" stroke-width="0.7" stroke-opacity="0.5"/>
<line x1="426.3" y1="355.1" x2="426.3" y2="353.3" stroke="#6a945c" stroke-width="0.7" stroke-opacity="0.5"/>
<line x1="429.2" y1="355.1" x2="429.2" y2="350.5" stroke="#6a945c" stroke-width="0.7" stroke-opacity="0.5"/>
<line x1="430.1" y1="355.1" x2="430.1" y2="354" stroke="#6a945c" stroke-width="0.7" stroke-opacity="0.5"/>
<line x1="425.3" y1="355.1" x2="425.3" y2="354" stroke="#6a945c" stroke-width="0.7" stroke-opacity="0.5"/>
<polygon points="434.2,360.5 434.2,354.6 434.8,354.6 434.8,354.3 435.4,354.3 435.4,353.7 436,353.7 436,353.5 436.6,353.5 436.6,353.4 437.2,353.4 437.2,351.4 437.8,351.4 437.8,353.8 438.4,353.8 438.4,351.8 439,351.8 439,351.7 439.6,351.7 439.6,351.8 440.2,351.8 440.2,353.5 440.8,353.5 440.8,351.6 441.4,351.6 441.4,351.4 442,351.4 442,351.8 442.6,351.8 442.6,351.5 443.2,351.5 443.2,353.1 443.8,353.1 443.8,351.8 444.4,351.8 444.4,352.8 445,352.8 445,353.8 445.6,353.8 445.6,352.5 446.2,352.5 446.2,354.1 446.8,354.1 446.8,352.7 447.2,352.7 447.2,360.5" fill="#c0dd16" fill-opacity="0.42"/>
<polygon points="434.2,360.5 434.2,356.2 435,356.2 435,355.5 435.8,355.5 435.8,354.2 436.6,354.2 436.6,354.2 437.4,354.2 437.4,354.8 438.2,354.8 438.2,354.5 439,354.5 439,354.3 439.8,354.3 439.8,355.1 440.6,355.1 440.6,354.9 441.4,354.9 441.4,354.1 442.2,354.1 442.2,354.6 443,354.6 443,354.2 443.8,354.2 443.8,354.6 444.6,354.6 444.6,354.2 445.4,354.2 445.4,354.2 446.2,354.2 446.2,355.1 447,355.1 447,355.9 447.2,355.9 447.2,360.5" fill="#c0dd16"/>
<line x1="445.2" y1="355.1" x2="445.2" y2="352.1" stroke="#bac93c" stroke-width="0.7" stroke-opacity="0.5"/>
<line x1="438.5" y1="355.1" x2="438.5" y2="350.8" stroke="#bac93c" stroke-width="0.7" stroke-opacity="0.5"/>
<line x1="445.7" y1="355.1" x2="445.7" y2="350.4" stroke="#bac93c" stroke-width="0.7" stroke-opacity="0.5"/>
<line x1="442" y1="355.1" x2="442" y2="353.2" stroke="#bac93c" stroke-width="0.7" stroke-opacity="0.5"/>
<line x1="443.6" y1="355.1" x2="443.6" y2="353.8" stroke="#bac93c" stroke-width="0.7" stroke-opacity="0.5"/>
<line x1="436.4" y1="355.1" x2="436.4" y2="351.1" stroke="#bac93c" stroke-width="0.7" stroke-opacity="0.5"/>
<line x1="437.9" y1="355.1" x2="437.9" y2="350.8" stroke="#bac93c" stroke-width="0.7" stroke-opacity="0.5"/>
<line x1="443.6" y1="355.1" x2="443.6" y2="353.2" stroke="#bac93c" stroke-width="0.7" stroke-opacity="0.5"/>
<polygon points="447.2,360.5 447.2,352.8 447.8,352.8 447.8,354.2 448.4,354.2 448.4,353.1 449,353.1 449,352.1 449.6,352.1 449.6,353.8 450.2,353.8 450.2,352.7 450.8,352.7 450.8,352.4 451.4,352.4 451.4,351.5 452,351.5 452,351.5 452.6,351.5 452.6,353.4 453.2,353.4 453.2,353.3 453.8,353.3 453.8,353 454.4,353 454.4,353.3 455,353.3 455,354 455.6,354 455.6,353.1 456.2,353.1 456.2,353.4 456.3,353.4 456.3,360.5" fill="#5cb02e" fill-opacity="0.42"/>
<polygon points="447.2,360.5 447.2,356.9 448,356.9 448,355.1 448.8,355.1 448.8,354.5 449.6,354.5 449.6,354.4 450.4,354.4 450.4,354.7 451.2,354.7 451.2,354.2 452,354.2 452,354.3 452.8,354.3 452.8,354.7 453.6,354.7 453.6,354.5 454.4,354.5 454.4,354.2 455.2,354.2 455.2,355.1 456,355.1 456,356.6 456.3,356.6 456.3,360.5" fill="#5cb02e"/>
<line x1="447.8" y1="355.1" x2="447.8" y2="350.3" stroke="#6a945c" stroke-width="0.7" stroke-opacity="0.5"/>
<line x1="453.5" y1="355.1" x2="453.5" y2="352.5" stroke="#6a945c" stroke-width="0.7" stroke-opacity="0.5"/>
<line x1="452.3" y1="355.1" x2="452.3" y2="352.5" stroke="#6a945c" stroke-width="0.7" stroke-opacity="0.5"/>
<line x1="448.1" y1="355.1" x2="448.1" y2="351.4" stroke="#6a945c" stroke-width="0.7" stroke-opacity="0.5"/>
<line x1="448.1" y1="355.1" x2="448.1" y2="353.5" stroke="#6a945c" stroke-width="0.7" stroke-opacity="0.5"/>
<polygon points="456.3,360.5 456.3,354.1 456.9,354.1 456.9,353.7 457.5,353.7 457.5,352.6 458.1,352.6 458.1,351.8 458.7,351.8 458.7,352.7 459.3,352.7 459.3,352.6 459.9,352.6 459.9,352.4 460.5,352.4 460.5,352.1 461.1,352.1 461.1,353.3 461.7,353.3 461.7,353 462.3,353 462.3,351.7 462.9,351.7 462.9,353 463.5,353 463.5,352.5 464.1,352.5 464.1,351.7 464.7,351.7 464.7,352.4 465.3,352.4 465.3,351.5 465.9,351.5 465.9,352.8 466.5,352.8 466.5,353.7 467.1,353.7 467.1,353.8 467.4,353.8 467.4,360.5" fill="#c0dd16" fill-opacity="0.42"/>
<polygon points="456.3,360.5 456.3,356.5 457.1,356.5 457.1,355.4 457.9,355.4 457.9,354.2 458.7,354.2 458.7,354.3 459.5,354.3 459.5,354.7 460.3,354.7 460.3,354.8 461.1,354.8 461.1,355 461.9,355 461.9,355 462.7,355 462.7,354.3 463.5,354.3 463.5,354.6 464.3,354.6 464.3,354.4 465.1,354.4 465.1,354.1 465.9,354.1 465.9,354.6 466.7,354.6 466.7,355.3 467.4,355.3 467.4,360.5" fill="#c0dd16"/>
<line x1="461.4" y1="355.1" x2="461.4" y2="353.5" stroke="#bac93c" stroke-width="0.7" stroke-opacity="0.5"/>
<line x1="464.4" y1="355.1" x2="464.4" y2="352.7" stroke="#bac93c" stroke-width="0.7" stroke-opacity="0.5"/>
<line x1="458.4" y1="355.1" x2="458.4" y2="350.4" stroke="#bac93c" stroke-width="0.7" stroke-opacity="0.5"/>
<line x1="466.1" y1="355.1" x2="466.1" y2="353.5" stroke="#bac93c" stroke-width="0.7" stroke-opacity="0.5"/>
<line x1="463.9" y1="355.1" x2="463.9" y2="351.1" stroke="#bac93c" stroke-width="0.7" stroke-opacity="0.5"/>
<line x1="460.7" y1="355.1" x2="460.7" y2="352.7" stroke="#bac93c" stroke-width="0.7" stroke-opacity="0.5"/>
<polygon points="468.6,360.5 468.6,353 469.2,353 469.2,354.7 469.8,354.7 469.8,353.6 470.4,353.6 470.4,352.5 471,352.5 471,353.3 471.6,353.3 471.6,351.8 472.2,351.8 472.2,351.4 472.8,351.4 472.8,352.8 473.4,352.8 473.4,352.7 474,352.7 474,351.8 474.6,351.8 474.6,353.2 475.1,353.2 475.1,360.5" fill="#5cb02e" fill-opacity="0.42"/>
<polygon points="468.6,360.5 468.6,356.3 469.4,356.3 469.4,355.6 470.2,355.6 470.2,354.5 471,354.5 471,354.7 471.8,354.7 471.8,354.3 472.6,354.3 472.6,355 473.4,355 473.4,354.2 474.2,354.2 474.2,355.3 475,355.3 475,355.9 475.1,355.9 475.1,360.5" fill="#5cb02e"/>
<line x1="471.8" y1="355.1" x2="471.8" y2="350.8" stroke="#6a945c" stroke-width="0.7" stroke-opacity="0.5"/>
<line x1="471.2" y1="355.1" x2="471.2" y2="349.5" stroke="#6a945c" stroke-width="0.7" stroke-opacity="0.5"/>
<line x1="469.9" y1="355.1" x2="469.9" y2="353.4" stroke="#6a945c" stroke-width="0.7" stroke-opacity="0.5"/>
<line x1="474.4" y1="355.1" x2="474.4" y2="353.7" stroke="#6a945c" stroke-width="0.7" stroke-opacity="0.5"/>
<polygon points="477,360.5 477,355 477.6,355 477.6,352.7 478.2,352.7 478.2,352 478.8,352 478.8,352.1 479.4,352.1 479.4,353.3 480,353.3 480,353.3 480.6,353.3 480.6,352.1 481.2,352.1 481.2,351.5 481.8,351.5 481.8,353.6 482.4,353.6 482.4,352.8 483,352.8 483,354.1 483.6,354.1 483.6,352.2 484.2,352.2 484.2,355.1 484.3,355.1 484.3,360.5" fill="#c0dd16" fill-opacity="0.42"/>
<polygon points="477,360.5 477,356.1 477.8,356.1 477.8,355.4 478.6,355.4 478.6,354.9 479.4,354.9 479.4,354.7 480.2,354.7 480.2,354.3 481,354.3 481,354.7 481.8,354.7 481.8,355.1 482.6,355.1 482.6,354.3 483.4,354.3 483.4,355.5 484.2,355.5 484.2,356.8 484.3,356.8 484.3,360.5" fill="#c0dd16"/>
<line x1="477.5" y1="355.1" x2="477.5" y2="352.1" stroke="#bac93c" stroke-width="0.7" stroke-opacity="0.5"/>
<line x1="481.3" y1="355.1" x2="481.3" y2="353.2" stroke="#bac93c" stroke-width="0.7" stroke-opacity="0.5"/>
<line x1="482.6" y1="355.1" x2="482.6" y2="351.5" stroke="#bac93c" stroke-width="0.7" stroke-opacity="0.5"/>
<line x1="481.4" y1="355.1" x2="481.4" y2="353.1" stroke="#bac93c" stroke-width="0.7" stroke-opacity="0.5"/>
<polygon points="484.9,360.5 484.9,352.9 485.5,352.9 485.5,352.5 486.1,352.5 486.1,353 486.7,353 486.7,353.2 487.3,353.2 487.3,351.9 487.9,351.9 487.9,352.1 488.5,352.1 488.5,353.4 489.1,353.4 489.1,351.8 489.7,351.8 489.7,353.7 490.3,353.7 490.3,352.4 490.9,352.4 490.9,352.8 491.5,352.8 491.5,351.6 492.1,351.6 492.1,352.1 492.7,352.1 492.7,351.7 493.3,351.7 493.3,351.8 493.9,351.8 493.9,352.8 494.5,352.8 494.5,352.4 495.1,352.4 495.1,353.4 495.7,353.4 495.7,352.5 496.3,352.5 496.3,353.3 496.9,353.3 496.9,352 497.5,352 497.5,353.6 498.1,353.6 498.1,353.7 498.7,353.7 498.7,351.7 499.3,351.7 499.3,353.1 499.9,353.1 499.9,353.7 500.5,353.7 500.5,353.7 501.1,353.7 501.1,352 501.7,352 501.7,351.5 502.3,351.5 502.3,352.9 502.9,352.9 502.9,352.1 503.5,352.1 503.5,351.5 504.1,351.5 504.1,353.6 504.7,353.6 504.7,352.4 505.3,352.4 505.3,351.6 505.9,351.6 505.9,351.8 506.5,351.8 506.5,353.8 507.1,353.8 507.1,353.9 507.5,353.9 507.5,360.5" fill="#5cb02e" fill-opacity="0.42"/>
<polygon points="484.9,360.5 484.9,356.7 485.7,356.7 485.7,355.4 486.5,355.4 486.5,354.8 487.3,354.8 487.3,354.2 488.1,354.2 488.1,354.4 488.9,354.4 488.9,355.1 489.7,355.1 489.7,354.5 490.5,354.5 490.5,354.5 491.3,354.5 491.3,354.4 492.1,354.4 492.1,354.7 492.9,354.7 492.9,354.2 493.7,354.2 493.7,354.7 494.5,354.7 494.5,354.7 495.3,354.7 495.3,355.1 496.1,355.1 496.1,355.1 496.9,355.1 496.9,354.6 497.7,354.6 497.7,354.5 498.5,354.5 498.5,354.5 499.3,354.5 499.3,354.2 500.1,354.2 500.1,355 500.9,355 500.9,354.7 501.7,354.7 501.7,354.7 502.5,354.7 502.5,354.2 503.3,354.2 503.3,354.5 504.1,354.5 504.1,355 504.9,355 504.9,354.4 505.7,354.4 505.7,354.9 506.5,354.9 506.5,355.7 507.3,355.7 507.3,355.8 507.5,355.8 507.5,360.5" fill="#5cb02e"/>
<line x1="490.7" y1="355.1" x2="490.7" y2="353.8" stroke="#6a945c" stroke-width="0.7" stroke-opacity="0.5"/>
<line x1="503.7" y1="355.1" x2="503.7" y2="353" stroke="#6a945c" stroke-width="0.7" stroke-opacity="0.5"/>
<line x1="495.8" y1="355.1" x2="495.8" y2="350.7" stroke="#6a945c" stroke-width="0.7" stroke-opacity="0.5"/>
<line x1="501.5" y1="355.1" x2="501.5" y2="349.7" stroke="#6a945c" stroke-width="0.7" stroke-opacity="0.5"/>
<line x1="505.6" y1="355.1" x2="505.6" y2="350.2" stroke="#6a945c" stroke-width="0.7" stroke-opacity="0.5"/>
<line x1="490.3" y1="355.1" x2="490.3" y2="351.2" stroke="#6a945c" stroke-width="0.7" stroke-opacity="0.5"/>
<line x1="486.7" y1="355.1" x2="486.7" y2="353.5" stroke="#6a945c" stroke-width="0.7" stroke-opacity="0.5"/>
<line x1="493.5" y1="355.1" x2="493.5" y2="350.8" stroke="#6a945c" stroke-width="0.7" stroke-opacity="0.5"/>
<line x1="485.6" y1="355.1" x2="485.6" y2="353.6" stroke="#6a945c" stroke-width="0.7" stroke-opacity="0.5"/>
<line x1="504.2" y1="355.1" x2="504.2" y2="353.9" stroke="#6a945c" stroke-width="0.7" stroke-opacity="0.5"/>
<line x1="500.5" y1="355.1" x2="500.5" y2="353.7" stroke="#6a945c" stroke-width="0.7" stroke-opacity="0.5"/>
<line x1="504.6" y1="355.1" x2="504.6" y2="352.1" stroke="#6a945c" stroke-width="0.7" stroke-opacity="0.5"/>
<line x1="502.7" y1="355.1" x2="502.7" y2="353.6" stroke="#6a945c" stroke-width="0.7" stroke-opacity="0.5"/>
<line x1="497.9" y1="355.1" x2="497.9" y2="349.8" stroke="#6a945c" stroke-width="0.7" stroke-opacity="0.5"/>
<line x1="51.9" y1="344.2" x2="51.9" y2="356" stroke="#5cb02e" stroke-width="2.4" stroke-opacity="0.3"/>
<line x1="51.9" y1="344.2" x2="51.9" y2="348.3" stroke="#6a945c" stroke-width="1"/>
<line x1="51.9" y1="348.3" x2="51.9" y2="356" stroke="#6a945c" stroke-width="1"/>
<line x1="59.2" y1="349.6" x2="59.2" y2="356" stroke="#5cb02e" stroke-width="2.4" stroke-opacity="0.3"/>
<line x1="59.2" y1="349.6" x2="59.2" y2="356" stroke="#6a945c" stroke-width="1"/>
<line x1="62.1" y1="349.3" x2="62.1" y2="356" stroke="#5cb02e" stroke-width="2.4" stroke-opacity="0.3"/>
<line x1="62.1" y1="349.3" x2="62.1" y2="353.7" stroke="#6a945c" stroke-width="1"/>
<line x1="62.1" y1="353.7" x2="62.1" y2="356" stroke="#6a945c" stroke-width="1"/>
<line x1="67.9" y1="335.8" x2="67.9" y2="356" stroke="#5cb02e" stroke-width="2.4" stroke-opacity="0.3"/>
<line x1="67.9" y1="335.8" x2="67.9" y2="340.8" stroke="#6a945c" stroke-width="1"/>
<line x1="67.9" y1="340.8" x2="67.9" y2="349.7" stroke="#6a945c" stroke-width="1"/>
<line x1="67.9" y1="350.6" x2="67.9" y2="354.9" stroke="#6a945c" stroke-width="1"/>
<line x1="67.9" y1="354.9" x2="67.9" y2="356" stroke="#6a945c" stroke-width="1"/>
<line x1="73.7" y1="340.3" x2="73.7" y2="356" stroke="#5cb02e" stroke-width="2.4" stroke-opacity="0.3"/>
<line x1="73.7" y1="340.3" x2="73.7" y2="347.1" stroke="#6a945c" stroke-width="1"/>
<line x1="73.7" y1="347.1" x2="73.7" y2="354" stroke="#6a945c" stroke-width="1"/>
<line x1="73.7" y1="355.2" x2="73.7" y2="356" stroke="#6a945c" stroke-width="1"/>
<line x1="80.4" y1="346.1" x2="80.4" y2="356" stroke="#5cb02e" stroke-width="2.4" stroke-opacity="0.3"/>
<line x1="80.4" y1="346.1" x2="80.4" y2="352.7" stroke="#6a945c" stroke-width="1"/>
<line x1="80.4" y1="352.7" x2="80.4" y2="356" stroke="#6a945c" stroke-width="1"/>
<line x1="115" y1="350.1" x2="115" y2="356" stroke="#c0dd16" stroke-width="2.4" stroke-opacity="0.3"/>
<line x1="115" y1="350.1" x2="115" y2="354.2" stroke="#bac93c" stroke-width="1"/>
<line x1="115" y1="355.8" x2="115" y2="356" stroke="#bac93c" stroke-width="1"/>
<line x1="126" y1="340.3" x2="126" y2="356" stroke="#5cb02e" stroke-width="2.4" stroke-opacity="0.3"/>
<line x1="126" y1="340.3" x2="126" y2="348.6" stroke="#6a945c" stroke-width="1"/>
<line x1="126" y1="349.6" x2="126" y2="355.4" stroke="#6a945c" stroke-width="1"/>
<line x1="126" y1="355.4" x2="126" y2="356" stroke="#6a945c" stroke-width="1"/>
<circle cx="126" cy="323" r="0.75" fill="#6f7f78"/>
<circle cx="126" cy="335.8" r="0.75" fill="#6f7f78"/>
<line x1="148.7" y1="346.5" x2="148.7" y2="356" stroke="#c0dd16" stroke-width="2.4" stroke-opacity="0.3"/>
<line x1="148.7" y1="346.5" x2="148.7" y2="353.5" stroke="#bac93c" stroke-width="1"/>
<line x1="148.7" y1="354.5" x2="148.7" y2="356" stroke="#bac93c" stroke-width="1"/>
<line x1="159.7" y1="348.5" x2="159.7" y2="356" stroke="#c0dd16" stroke-width="2.4" stroke-opacity="0.3"/>
<line x1="159.7" y1="348.5" x2="159.7" y2="351.4" stroke="#bac93c" stroke-width="1"/>
<line x1="159.7" y1="352.6" x2="159.7" y2="356" stroke="#bac93c" stroke-width="1"/>
<line x1="163.4" y1="241.5" x2="163.4" y2="356" stroke="#c0dd16" stroke-width="2.4" stroke-opacity="0.3"/>
<line x1="163.4" y1="241.5" x2="163.4" y2="245.9" stroke="#bac93c" stroke-width="1"/>
<line x1="163.4" y1="245.9" x2="163.4" y2="254" stroke="#bac93c" stroke-width="1"/>
<line x1="163.4" y1="254" x2="163.4" y2="262" stroke="#bac93c" stroke-width="1"/>
<line x1="163.4" y1="262.9" x2="163.4" y2="269.7" stroke="#bac93c" stroke-width="1"/>
<line x1="163.4" y1="269.7" x2="163.4" y2="273.5" stroke="#bac93c" stroke-width="1"/>
<line x1="163.4" y1="274.5" x2="163.4" y2="276.7" stroke="#bac93c" stroke-width="1"/>
<line x1="163.4" y1="278" x2="163.4" y2="281.5" stroke="#bac93c" stroke-width="1"/>
<line x1="163.4" y1="282.8" x2="163.4" y2="288.9" stroke="#bac93c" stroke-width="1"/>
<line x1="163.4" y1="289.9" x2="163.4" y2="296.7" stroke="#bac93c" stroke-width="1"/>
<line x1="163.4" y1="296.7" x2="163.4" y2="302.9" stroke="#bac93c" stroke-width="1"/>
<line x1="163.4" y1="303.8" x2="163.4" y2="306.5" stroke="#bac93c" stroke-width="1"/>
<line x1="163.4" y1="308.4" x2="163.4" y2="310.8" stroke="#bac93c" stroke-width="1"/>
<line x1="163.4" y1="312.4" x2="163.4" y2="317" stroke="#bac93c" stroke-width="1"/>
<line x1="163.4" y1="317.9" x2="163.4" y2="322.5" stroke="#bac93c" stroke-width="1"/>
<line x1="163.4" y1="322.5" x2="163.4" y2="329" stroke="#bac93c" stroke-width="1"/>
<line x1="163.4" y1="329" x2="163.4" y2="336.7" stroke="#bac93c" stroke-width="1"/>
<line x1="163.4" y1="336.7" x2="163.4" y2="338.8" stroke="#bac93c" stroke-width="1"/>
<line x1="163.4" y1="338.8" x2="163.4" y2="347.2" stroke="#bac93c" stroke-width="1"/>
<line x1="163.4" y1="347.9" x2="163.4" y2="352.7" stroke="#bac93c" stroke-width="1"/>
<line x1="163.4" y1="353.5" x2="163.4" y2="356" stroke="#bac93c" stroke-width="1"/>
<line x1="184.6" y1="336.7" x2="184.6" y2="356" stroke="#5cb02e" stroke-width="2.4" stroke-opacity="0.3"/>
<line x1="184.6" y1="336.7" x2="184.6" y2="339.5" stroke="#6a945c" stroke-width="1"/>
<line x1="184.6" y1="340.9" x2="184.6" y2="344.9" stroke="#6a945c" stroke-width="1"/>
<line x1="184.6" y1="344.9" x2="184.6" y2="351.5" stroke="#6a945c" stroke-width="1"/>
<line x1="184.6" y1="352.1" x2="184.6" y2="356" stroke="#6a945c" stroke-width="1"/>
<line x1="186.5" y1="349.8" x2="186.5" y2="356" stroke="#5cb02e" stroke-width="2.4" stroke-opacity="0.3"/>
<line x1="186.5" y1="349.8" x2="186.5" y2="352.2" stroke="#6a945c" stroke-width="1"/>
<line x1="186.5" y1="352.2" x2="186.5" y2="356" stroke="#6a945c" stroke-width="1"/>
<line x1="191.5" y1="350.4" x2="191.5" y2="356" stroke="#5cb02e" stroke-width="2.4" stroke-opacity="0.3"/>
<line x1="191.5" y1="350.4" x2="191.5" y2="352.4" stroke="#6a945c" stroke-width="1"/>
<line x1="191.5" y1="353.4" x2="191.5" y2="356" stroke="#6a945c" stroke-width="1"/>
<line x1="196.5" y1="344" x2="196.5" y2="356" stroke="#5cb02e" stroke-width="2.4" stroke-opacity="0.3"/>
<line x1="196.5" y1="344" x2="196.5" y2="348.3" stroke="#6a945c" stroke-width="1"/>
<line x1="196.5" y1="349.4" x2="196.5" y2="356" stroke="#6a945c" stroke-width="1"/>
<line x1="208.3" y1="322.3" x2="208.3" y2="356" stroke="#c0dd16" stroke-width="2.4" stroke-opacity="0.3"/>
<line x1="208.3" y1="322.3" x2="208.3" y2="326" stroke="#bac93c" stroke-width="1"/>
<line x1="208.3" y1="327.6" x2="208.3" y2="334.3" stroke="#bac93c" stroke-width="1"/>
<line x1="208.3" y1="334.3" x2="208.3" y2="342.8" stroke="#bac93c" stroke-width="1"/>
<line x1="208.3" y1="344.2" x2="208.3" y2="351.7" stroke="#bac93c" stroke-width="1"/>
<line x1="208.3" y1="351.7" x2="208.3" y2="356" stroke="#bac93c" stroke-width="1"/>
<line x1="222.5" y1="300.5" x2="222.5" y2="356" stroke="#c0dd16" stroke-width="2.4" stroke-opacity="0.3"/>
<line x1="222.5" y1="300.5" x2="222.5" y2="305.7" stroke="#bac93c" stroke-width="1"/>
<line x1="222.5" y1="305.7" x2="222.5" y2="311.4" stroke="#bac93c" stroke-width="1"/>
<line x1="222.5" y1="313.2" x2="222.5" y2="321.6" stroke="#bac93c" stroke-width="1"/>
<line x1="222.5" y1="321.6" x2="222.5" y2="325.4" stroke="#bac93c" stroke-width="1"/>
<line x1="222.5" y1="326.1" x2="222.5" y2="332" stroke="#bac93c" stroke-width="1"/>
<line x1="222.5" y1="332.7" x2="222.5" y2="338.4" stroke="#bac93c" stroke-width="1"/>
<line x1="222.5" y1="339.9" x2="222.5" y2="346.2" stroke="#bac93c" stroke-width="1"/>
<line x1="222.5" y1="346.2" x2="222.5" y2="352" stroke="#bac93c" stroke-width="1"/>
<line x1="222.5" y1="353.9" x2="222.5" y2="356" stroke="#bac93c" stroke-width="1"/>
<line x1="240.6" y1="338.5" x2="240.6" y2="356" stroke="#5cb02e" stroke-width="2.4" stroke-opacity="0.3"/>
<line x1="240.6" y1="338.5" x2="240.6" y2="340.9" stroke="#6a945c" stroke-width="1"/>
<line x1="240.6" y1="342.4" x2="240.6" y2="345.7" stroke="#6a945c" stroke-width="1"/>
<line x1="240.6" y1="345.7" x2="240.6" y2="353.6" stroke="#6a945c" stroke-width="1"/>
<line x1="240.6" y1="353.6" x2="240.6" y2="356" stroke="#6a945c" stroke-width="1"/>
<line x1="243.8" y1="324" x2="243.8" y2="356" stroke="#5cb02e" stroke-width="2.4" stroke-opacity="0.3"/>
<line x1="243.8" y1="324" x2="243.8" y2="326.6" stroke="#6a945c" stroke-width="1"/>
<line x1="243.8" y1="326.6" x2="243.8" y2="331.2" stroke="#6a945c" stroke-width="1"/>
<line x1="243.8" y1="332.1" x2="243.8" y2="336.1" stroke="#6a945c" stroke-width="1"/>
<line x1="243.8" y1="336.1" x2="243.8" y2="338.2" stroke="#6a945c" stroke-width="1"/>
<line x1="243.8" y1="338.2" x2="243.8" y2="342.2" stroke="#6a945c" stroke-width="1"/>
<line x1="243.8" y1="343.7" x2="243.8" y2="352.4" stroke="#6a945c" stroke-width="1"/>
<line x1="243.8" y1="352.4" x2="243.8" y2="355.8" stroke="#6a945c" stroke-width="1"/>
<line x1="267.9" y1="329.1" x2="267.9" y2="356" stroke="#c0dd16" stroke-width="2.4" stroke-opacity="0.3"/>
<line x1="267.9" y1="329.1" x2="267.9" y2="336.1" stroke="#bac93c" stroke-width="1"/>
<line x1="267.9" y1="336.1" x2="267.9" y2="338.8" stroke="#bac93c" stroke-width="1"/>
<line x1="267.9" y1="340.1" x2="267.9" y2="344.4" stroke="#bac93c" stroke-width="1"/>
<line x1="267.9" y1="346.1" x2="267.9" y2="352.9" stroke="#bac93c" stroke-width="1"/>
<line x1="267.9" y1="352.9" x2="267.9" y2="356" stroke="#bac93c" stroke-width="1"/>
<line x1="275.8" y1="334.7" x2="275.8" y2="356" stroke="#5cb02e" stroke-width="2.4" stroke-opacity="0.3"/>
<line x1="275.8" y1="334.7" x2="275.8" y2="338.8" stroke="#6a945c" stroke-width="1"/>
<line x1="275.8" y1="338.8" x2="275.8" y2="341.7" stroke="#6a945c" stroke-width="1"/>
<line x1="275.8" y1="341.7" x2="275.8" y2="345.8" stroke="#6a945c" stroke-width="1"/>
<line x1="275.8" y1="345.8" x2="275.8" y2="354.3" stroke="#6a945c" stroke-width="1"/>
<line x1="275.8" y1="355.8" x2="275.8" y2="356" stroke="#6a945c" stroke-width="1"/>
<line x1="280.4" y1="349.3" x2="280.4" y2="356" stroke="#5cb02e" stroke-width="2.4" stroke-opacity="0.3"/>
<line x1="280.4" y1="349.3" x2="280.4" y2="354.4" stroke="#6a945c" stroke-width="1"/>
<line x1="280.4" y1="354.4" x2="280.4" y2="356" stroke="#6a945c" stroke-width="1"/>
<line x1="305" y1="322" x2="305" y2="356" stroke="#c0dd16" stroke-width="2.4" stroke-opacity="0.3"/>
<line x1="305" y1="322" x2="305" y2="328.3" stroke="#bac93c" stroke-width="1"/>
<line x1="305" y1="328.3" x2="305" y2="331.1" stroke="#bac93c" stroke-width="1"/>
<line x1="305" y1="331.1" x2="305" y2="339.2" stroke="#bac93c" stroke-width="1"/>
<line x1="305" y1="340.6" x2="305" y2="346.1" stroke="#bac93c" stroke-width="1"/>
<line x1="305" y1="348" x2="305" y2="356" stroke="#bac93c" stroke-width="1"/>
<line x1="309.4" y1="347" x2="309.4" y2="356" stroke="#c0dd16" stroke-width="2.4" stroke-opacity="0.3"/>
<line x1="309.4" y1="347" x2="309.4" y2="351.4" stroke="#bac93c" stroke-width="1"/>
<line x1="309.4" y1="351.4" x2="309.4" y2="355.2" stroke="#bac93c" stroke-width="1"/>
<line x1="324.8" y1="332.8" x2="324.8" y2="356" stroke="#5cb02e" stroke-width="2.4" stroke-opacity="0.3"/>
<line x1="324.8" y1="332.8" x2="324.8" y2="335.6" stroke="#6a945c" stroke-width="1"/>
<line x1="324.8" y1="335.6" x2="324.8" y2="342.8" stroke="#6a945c" stroke-width="1"/>
<line x1="324.8" y1="342.8" x2="324.8" y2="351.2" stroke="#6a945c" stroke-width="1"/>
<line x1="324.8" y1="351.2" x2="324.8" y2="355.4" stroke="#6a945c" stroke-width="1"/>
<line x1="327.7" y1="349.3" x2="327.7" y2="356" stroke="#5cb02e" stroke-width="2.4" stroke-opacity="0.3"/>
<line x1="327.7" y1="349.3" x2="327.7" y2="356" stroke="#6a945c" stroke-width="1"/>
<line x1="330.6" y1="349.3" x2="330.6" y2="356" stroke="#5cb02e" stroke-width="2.4" stroke-opacity="0.3"/>
<line x1="330.6" y1="349.3" x2="330.6" y2="351.7" stroke="#6a945c" stroke-width="1"/>
<line x1="330.6" y1="351.7" x2="330.6" y2="353.7" stroke="#6a945c" stroke-width="1"/>
<line x1="330.6" y1="355.4" x2="330.6" y2="356" stroke="#6a945c" stroke-width="1"/>
<line x1="333.5" y1="346.2" x2="333.5" y2="356" stroke="#5cb02e" stroke-width="2.4" stroke-opacity="0.3"/>
<line x1="333.5" y1="346.2" x2="333.5" y2="352.9" stroke="#6a945c" stroke-width="1"/>
<line x1="333.5" y1="354.4" x2="333.5" y2="356" stroke="#6a945c" stroke-width="1"/>
<line x1="341.2" y1="345.2" x2="341.2" y2="356" stroke="#c0dd16" stroke-width="2.4" stroke-opacity="0.3"/>
<line x1="341.2" y1="345.2" x2="341.2" y2="353.2" stroke="#bac93c" stroke-width="1"/>
<line x1="341.2" y1="353.2" x2="341.2" y2="356" stroke="#bac93c" stroke-width="1"/>
<line x1="352.7" y1="323" x2="352.7" y2="356" stroke="#c0dd16" stroke-width="2.4" stroke-opacity="0.3"/>
<line x1="352.7" y1="323" x2="352.7" y2="327.4" stroke="#bac93c" stroke-width="1"/>
<line x1="352.7" y1="328.7" x2="352.7" y2="332.1" stroke="#bac93c" stroke-width="1"/>
<line x1="352.7" y1="333.7" x2="352.7" y2="340.9" stroke="#bac93c" stroke-width="1"/>
<line x1="352.7" y1="342" x2="352.7" y2="349" stroke="#bac93c" stroke-width="1"/>
<line x1="352.7" y1="349" x2="352.7" y2="351.8" stroke="#bac93c" stroke-width="1"/>
<line x1="352.7" y1="351.8" x2="352.7" y2="354.7" stroke="#bac93c" stroke-width="1"/>
<line x1="352.7" y1="354.7" x2="352.7" y2="356" stroke="#bac93c" stroke-width="1"/>
<line x1="371" y1="347" x2="371" y2="356" stroke="#5cb02e" stroke-width="2.4" stroke-opacity="0.3"/>
<line x1="371" y1="347" x2="371" y2="355.1" stroke="#6a945c" stroke-width="1"/>
<line x1="371" y1="355.7" x2="371" y2="356" stroke="#6a945c" stroke-width="1"/>
<line x1="373.5" y1="348.1" x2="373.5" y2="356" stroke="#5cb02e" stroke-width="2.4" stroke-opacity="0.3"/>
<line x1="373.5" y1="348.1" x2="373.5" y2="355.2" stroke="#6a945c" stroke-width="1"/>
<line x1="373.5" y1="355.9" x2="373.5" y2="356" stroke="#6a945c" stroke-width="1"/>
<line x1="389.6" y1="348.1" x2="389.6" y2="356" stroke="#c0dd16" stroke-width="2.4" stroke-opacity="0.3"/>
<line x1="389.6" y1="348.1" x2="389.6" y2="355.4" stroke="#bac93c" stroke-width="1"/>
<line x1="389.6" y1="355.4" x2="389.6" y2="356" stroke="#bac93c" stroke-width="1"/>
<line x1="396.9" y1="330.7" x2="396.9" y2="356" stroke="#5cb02e" stroke-width="2.4" stroke-opacity="0.3"/>
<line x1="396.9" y1="330.7" x2="396.9" y2="337.2" stroke="#6a945c" stroke-width="1"/>
<line x1="396.9" y1="337.2" x2="396.9" y2="345.3" stroke="#6a945c" stroke-width="1"/>
<line x1="396.9" y1="345.3" x2="396.9" y2="347.4" stroke="#6a945c" stroke-width="1"/>
<line x1="396.9" y1="347.4" x2="396.9" y2="356" stroke="#6a945c" stroke-width="1"/>
<line x1="400.8" y1="334.7" x2="400.8" y2="356" stroke="#5cb02e" stroke-width="2.4" stroke-opacity="0.3"/>
<line x1="400.8" y1="334.7" x2="400.8" y2="338.3" stroke="#6a945c" stroke-width="1"/>
<line x1="400.8" y1="339.2" x2="400.8" y2="346.4" stroke="#6a945c" stroke-width="1"/>
<line x1="400.8" y1="347.5" x2="400.8" y2="352.2" stroke="#6a945c" stroke-width="1"/>
<line x1="400.8" y1="352.2" x2="400.8" y2="356" stroke="#6a945c" stroke-width="1"/>
<line x1="407.5" y1="339.4" x2="407.5" y2="356" stroke="#c0dd16" stroke-width="2.4" stroke-opacity="0.3"/>
<line x1="407.5" y1="339.4" x2="407.5" y2="348.3" stroke="#bac93c" stroke-width="1"/>
<line x1="407.5" y1="348.3" x2="407.5" y2="356" stroke="#bac93c" stroke-width="1"/>
<line x1="418" y1="342.3" x2="418" y2="356" stroke="#c0dd16" stroke-width="2.4" stroke-opacity="0.3"/>
<line x1="418" y1="342.3" x2="418" y2="350.4" stroke="#bac93c" stroke-width="1"/>
<line x1="418" y1="351.4" x2="418" y2="356" stroke="#bac93c" stroke-width="1"/>
<line x1="422.3" y1="342.3" x2="422.3" y2="356" stroke="#5cb02e" stroke-width="2.4" stroke-opacity="0.3"/>
<line x1="422.3" y1="342.3" x2="422.3" y2="345.2" stroke="#6a945c" stroke-width="1"/>
<line x1="422.3" y1="347.2" x2="422.3" y2="349.6" stroke="#6a945c" stroke-width="1"/>
<line x1="422.3" y1="349.6" x2="422.3" y2="356" stroke="#6a945c" stroke-width="1"/>
<line x1="432.2" y1="347.6" x2="432.2" y2="356" stroke="#5cb02e" stroke-width="2.4" stroke-opacity="0.3"/>
<line x1="432.2" y1="347.6" x2="432.2" y2="353.8" stroke="#6a945c" stroke-width="1"/>
<line x1="432.2" y1="353.8" x2="432.2" y2="356" stroke="#6a945c" stroke-width="1"/>
<line x1="455.5" y1="318.6" x2="455.5" y2="356" stroke="#5cb02e" stroke-width="2.4" stroke-opacity="0.3"/>
<line x1="455.5" y1="318.6" x2="455.5" y2="323.3" stroke="#6a945c" stroke-width="1"/>
<line x1="455.5" y1="324.3" x2="455.5" y2="330.6" stroke="#6a945c" stroke-width="1"/>
<line x1="455.5" y1="330.6" x2="455.5" y2="338.2" stroke="#6a945c" stroke-width="1"/>
<line x1="455.5" y1="338.2" x2="455.5" y2="343.3" stroke="#6a945c" stroke-width="1"/>
<line x1="455.5" y1="344.3" x2="455.5" y2="348.4" stroke="#6a945c" stroke-width="1"/>
<line x1="455.5" y1="348.4" x2="455.5" y2="354.3" stroke="#6a945c" stroke-width="1"/>
<line x1="455.5" y1="354.3" x2="455.5" y2="356" stroke="#6a945c" stroke-width="1"/>
<line x1="466" y1="342.3" x2="466" y2="356" stroke="#c0dd16" stroke-width="2.4" stroke-opacity="0.3"/>
<line x1="466" y1="342.3" x2="466" y2="349" stroke="#bac93c" stroke-width="1"/>
<line x1="466" y1="349" x2="466" y2="352" stroke="#bac93c" stroke-width="1"/>
<line x1="466" y1="353.3" x2="466" y2="356" stroke="#bac93c" stroke-width="1"/>
<line x1="41" y1="352.3" x2="511.5" y2="352.3" stroke="#555" stroke-width="0.9" stroke-dasharray="2.3 2.35"/>
<line x1="39.6" y1="238.1" x2="39.6" y2="361.1" stroke="#474747" stroke-width="1.5"/>
<line x1="36.7" y1="360.7" x2="512.7" y2="360.7" stroke="#161b12" stroke-width="1.6"/>
<line x1="36.7" y1="360.5" x2="40" y2="360.5" stroke="#3c3c3c" stroke-width="1"/>
<text x="33.5" y="363.5" text-anchor="end" font-size="8.4" fill="#2a2a2a" stroke="#2a2a2a" stroke-width="0.15">0</text>
<line x1="36.7" y1="332.4" x2="40" y2="332.4" stroke="#3c3c3c" stroke-width="1"/>
<text x="33.5" y="335.4" text-anchor="end" font-size="8.4" fill="#2a2a2a" stroke="#2a2a2a" stroke-width="0.15" textLength="8.4" lengthAdjust="spacingAndGlyphs">25</text>
<line x1="36.7" y1="304.4" x2="40" y2="304.4" stroke="#3c3c3c" stroke-width="1"/>
<text x="33.5" y="307.4" text-anchor="end" font-size="8.4" fill="#2a2a2a" stroke="#2a2a2a" stroke-width="0.15" textLength="8.4" lengthAdjust="spacingAndGlyphs">50</text>
<line x1="36.7" y1="276.3" x2="40" y2="276.3" stroke="#3c3c3c" stroke-width="1"/>
<text x="33.5" y="279.3" text-anchor="end" font-size="8.4" fill="#2a2a2a" stroke="#2a2a2a" stroke-width="0.15" textLength="8.4" lengthAdjust="spacingAndGlyphs">75</text>
<line x1="36.7" y1="248.2" x2="40" y2="248.2" stroke="#3c3c3c" stroke-width="1"/>
<text x="33.5" y="251.2" text-anchor="end" font-size="8.4" fill="#2a2a2a" stroke="#2a2a2a" stroke-width="0.15" textLength="12.6" lengthAdjust="spacingAndGlyphs">100</text>
<line x1="64.4" y1="360.5" x2="64.4" y2="363.7" stroke="#333" stroke-width="0.9"/>
<text x="64.4" y="373.5" text-anchor="middle" font-size="8.2" fill="#2a2a2a" stroke="#2a2a2a" stroke-width="0.15">1</text>
<line x1="100.5" y1="360.5" x2="100.5" y2="363.7" stroke="#333" stroke-width="0.9"/>
<text x="100.5" y="373.5" text-anchor="middle" font-size="8.2" fill="#2a2a2a" stroke="#2a2a2a" stroke-width="0.15">2</text>
<line x1="133.6" y1="360.5" x2="133.6" y2="363.7" stroke="#333" stroke-width="0.9"/>
<text x="133.6" y="373.5" text-anchor="middle" font-size="8.2" fill="#2a2a2a" stroke="#2a2a2a" stroke-width="0.15">3</text>
<line x1="162" y1="360.5" x2="162" y2="363.7" stroke="#333" stroke-width="0.9"/>
<text x="162" y="373.5" text-anchor="middle" font-size="8.2" fill="#2a2a2a" stroke="#2a2a2a" stroke-width="0.15">4</text>
<line x1="189.5" y1="360.5" x2="189.5" y2="363.7" stroke="#333" stroke-width="0.9"/>
<text x="189.5" y="373.5" text-anchor="middle" font-size="8.2" fill="#2a2a2a" stroke="#2a2a2a" stroke-width="0.15">5</text>
<line x1="215.8" y1="360.5" x2="215.8" y2="363.7" stroke="#333" stroke-width="0.9"/>
<text x="215.8" y="373.5" text-anchor="middle" font-size="8.2" fill="#2a2a2a" stroke="#2a2a2a" stroke-width="0.15">6</text>
<line x1="240.5" y1="360.5" x2="240.5" y2="363.7" stroke="#333" stroke-width="0.9"/>
<text x="240.5" y="373.5" text-anchor="middle" font-size="8.2" fill="#2a2a2a" stroke="#2a2a2a" stroke-width="0.15">7</text>
<line x1="263.8" y1="360.5" x2="263.8" y2="363.7" stroke="#333" stroke-width="0.9"/>
<text x="263.8" y="373.5" text-anchor="middle" font-size="8.2" fill="#2a2a2a" stroke="#2a2a2a" stroke-width="0.15">8</text>
<line x1="285.3" y1="360.5" x2="285.3" y2="363.7" stroke="#333" stroke-width="0.9"/>
<text x="285.3" y="373.5" text-anchor="middle" font-size="8.2" fill="#2a2a2a" stroke="#2a2a2a" stroke-width="0.15">9</text>
<line x1="306.1" y1="360.5" x2="306.1" y2="363.7" stroke="#333" stroke-width="0.9"/>
<text x="306.1" y="373.5" text-anchor="middle" font-size="8.2" fill="#2a2a2a" stroke="#2a2a2a" stroke-width="0.15" textLength="8.2" lengthAdjust="spacingAndGlyphs">10</text>
<line x1="326.4" y1="360.5" x2="326.4" y2="363.7" stroke="#333" stroke-width="0.9"/>
<text x="326.4" y="373.5" text-anchor="middle" font-size="8.2" fill="#2a2a2a" stroke="#2a2a2a" stroke-width="0.15" textLength="8.2" lengthAdjust="spacingAndGlyphs">11</text>
<line x1="346.5" y1="360.5" x2="346.5" y2="363.7" stroke="#333" stroke-width="0.9"/>
<text x="346.5" y="373.5" text-anchor="middle" font-size="8.2" fill="#2a2a2a" stroke="#2a2a2a" stroke-width="0.15" textLength="8.2" lengthAdjust="spacingAndGlyphs">12</text>
<line x1="366.3" y1="360.5" x2="366.3" y2="363.7" stroke="#333" stroke-width="0.9"/>
<text x="366.3" y="373.5" text-anchor="middle" font-size="8.2" fill="#2a2a2a" stroke="#2a2a2a" stroke-width="0.15" textLength="8.2" lengthAdjust="spacingAndGlyphs">13</text>
<line x1="383.8" y1="360.5" x2="383.8" y2="363.7" stroke="#333" stroke-width="0.9"/>
<text x="383.8" y="373.5" text-anchor="middle" font-size="8.2" fill="#2a2a2a" stroke="#2a2a2a" stroke-width="0.15" textLength="8.2" lengthAdjust="spacingAndGlyphs">14</text>
<line x1="399.6" y1="360.5" x2="399.6" y2="363.7" stroke="#333" stroke-width="0.9"/>
<text x="399.6" y="373.5" text-anchor="middle" font-size="8.2" fill="#2a2a2a" stroke="#2a2a2a" stroke-width="0.15" textLength="8.2" lengthAdjust="spacingAndGlyphs">15</text>
<line x1="414.6" y1="360.5" x2="414.6" y2="363.7" stroke="#333" stroke-width="0.9"/>
<text x="414.6" y="373.5" text-anchor="middle" font-size="8.2" fill="#2a2a2a" stroke="#2a2a2a" stroke-width="0.15" textLength="8.2" lengthAdjust="spacingAndGlyphs">16</text>
<line x1="428.1" y1="360.5" x2="428.1" y2="363.7" stroke="#333" stroke-width="0.9"/>
<text x="428.1" y="373.5" text-anchor="middle" font-size="8.2" fill="#2a2a2a" stroke="#2a2a2a" stroke-width="0.15" textLength="8.2" lengthAdjust="spacingAndGlyphs">17</text>
<line x1="441.6" y1="360.5" x2="441.6" y2="363.7" stroke="#333" stroke-width="0.9"/>
<text x="441.6" y="373.5" text-anchor="middle" font-size="8.2" fill="#2a2a2a" stroke="#2a2a2a" stroke-width="0.15" textLength="8.2" lengthAdjust="spacingAndGlyphs">18</text>
<line x1="452.4" y1="360.5" x2="452.4" y2="363.7" stroke="#333" stroke-width="0.9"/>
<text x="452.4" y="373.5" text-anchor="middle" font-size="8.2" fill="#2a2a2a" stroke="#2a2a2a" stroke-width="0.15" textLength="8.2" lengthAdjust="spacingAndGlyphs">19</text>
<line x1="462.3" y1="360.5" x2="462.3" y2="363.7" stroke="#333" stroke-width="0.9"/>
<text x="462.3" y="373.5" text-anchor="middle" font-size="8.2" fill="#2a2a2a" stroke="#2a2a2a" stroke-width="0.15" textLength="8.2" lengthAdjust="spacingAndGlyphs">20</text>
<line x1="471.3" y1="360.5" x2="471.3" y2="363.7" stroke="#333" stroke-width="0.9"/>
<text x="471.3" y="373.5" text-anchor="middle" font-size="8.2" fill="#2a2a2a" stroke="#2a2a2a" stroke-width="0.15" textLength="8.2" lengthAdjust="spacingAndGlyphs">21</text>
<line x1="480.3" y1="360.5" x2="480.3" y2="363.7" stroke="#333" stroke-width="0.9"/>
<text x="480.3" y="373.5" text-anchor="middle" font-size="8.2" fill="#2a2a2a" stroke="#2a2a2a" stroke-width="0.15" textLength="8.2" lengthAdjust="spacingAndGlyphs">22</text>
<line x1="496.4" y1="360.5" x2="496.4" y2="363.7" stroke="#333" stroke-width="0.9"/>
<text x="496.4" y="373.5" text-anchor="middle" font-size="8.2" fill="#2a2a2a" stroke="#2a2a2a" stroke-width="0.15">X</text>
<text transform="translate(69.6,259.8) rotate(-90)" font-size="8.6" font-style="italic" fill="#dc3f3a" stroke="#dc3f3a" stroke-width="0.05" textLength="22.8" lengthAdjust="spacingAndGlyphs">PEAR1</text>
<text transform="translate(198.4,271.3) rotate(-90)" font-size="8.6" font-style="italic" fill="#2e2e2e" stroke="#2e2e2e" stroke-width="0.05" textLength="23.3" lengthAdjust="spacingAndGlyphs">NRSN1</text>
<text transform="translate(206.6,265) rotate(-90)" font-size="8.6" font-style="italic" fill="#2e2e2e" stroke="#2e2e2e" stroke-width="0.05" textLength="27.7" lengthAdjust="spacingAndGlyphs">ZNF184</text>
<text transform="translate(216.7,273.8) rotate(-90)" font-size="8.6" font-style="italic" fill="#2e2e2e" stroke="#2e2e2e" stroke-width="0.05" textLength="40.3" lengthAdjust="spacingAndGlyphs">ZBED9-AS1</text>
<text transform="translate(336.3,260.6) rotate(-90)" font-size="8.6" font-style="italic" fill="#dc3f3a" stroke="#dc3f3a" stroke-width="0.05" textLength="13" lengthAdjust="spacingAndGlyphs">CBL</text>
<text transform="translate(354,268.6) rotate(-90)" font-size="8.6" font-style="italic" fill="#2e2e2e" stroke="#2e2e2e" stroke-width="0.05" textLength="27.8" lengthAdjust="spacingAndGlyphs">CHST11</text>
<text transform="translate(451.3,268.6) rotate(-90)" font-size="8.6" font-style="italic" fill="#2e2e2e" stroke="#2e2e2e" stroke-width="0.05" textLength="23" lengthAdjust="spacingAndGlyphs">MLLT1</text>
<text x="7.3" y="414.2" font-size="11.4" font-weight="bold" fill="#111" stroke="#111" stroke-width="0.3" textLength="7" lengthAdjust="spacingAndGlyphs">C</text>
<text x="261.0" y="428.6" font-size="10.2" fill="#222" stroke="#222" stroke-width="0.2" textLength="30.8" lengthAdjust="spacingAndGlyphs">T3<tspan dy="-1.3">_</tspan><tspan dy="1.3">PLT</tspan></text>
<text x="254.1" y="585.6" font-size="9.7" fill="#333" stroke="#333" stroke-width="0.15" textLength="44.6" lengthAdjust="spacingAndGlyphs">Chromosome</text>
<g transform="translate(15.0,497.8) rotate(-90)"><text x="0" y="0" text-anchor="middle" font-size="8.8" fill="#333" stroke="#333" stroke-width="0.12" textLength="30.6" lengthAdjust="spacingAndGlyphs">-log<tspan font-size="5.4" dy="1.6">10</tspan><tspan dy="-1.6">(</tspan><tspan font-style="italic">P</tspan>)</text></g>
<line x1="207.3" y1="497.5" x2="207.3" y2="533" stroke="#bdbdc4" stroke-width="0.6" stroke-dasharray="1.2 0.8"/>
<line x1="351.6" y1="492.3" x2="351.6" y2="540" stroke="#bdbdc4" stroke-width="0.6" stroke-dasharray="1.2 0.8"/>
<line x1="423" y1="498.2" x2="423" y2="545" stroke="#bdbdc4" stroke-width="0.6" stroke-dasharray="1.2 0.8"/>
<polygon points="44.8,559.3 44.8,556.4 45.4,556.4 45.4,554.9 46,554.9 46,555.2 46.6,555.2 46.6,553.8 47.2,553.8 47.2,554 47.8,554 47.8,554.5 48.4,554.5 48.4,554 49,554 49,554.1 49.6,554.1 49.6,555.1 50.2,555.1 50.2,554.2 50.8,554.2 50.8,554 51.4,554 51.4,554.2 52,554.2 52,553.5 52.6,553.5 52.6,553.8 53.2,553.8 53.2,554.5 53.8,554.5 53.8,554.8 54.4,554.8 54.4,555 55,555 55,553.7 55.6,553.7 55.6,553.9 56.2,553.9 56.2,554 56.8,554 56.8,554.4 57.4,554.4 57.4,554.2 58,554.2 58,554.8 58.6,554.8 58.6,554.2 59.2,554.2 59.2,554.9 59.8,554.9 59.8,554 60.4,554 60.4,554 61,554 61,553.9 61.6,553.9 61.6,554.7 62.2,554.7 62.2,555 62.8,555 62.8,554.9 63.4,554.9 63.4,555.2 64,555.2 64,556.5 64.6,556.5 64.6,555.7 65.2,555.7 65.2,555.3 65.8,555.3 65.8,554.4 66.4,554.4 66.4,553.5 67,553.5 67,554.9 67.6,554.9 67.6,554.8 68.2,554.8 68.2,554.1 68.8,554.1 68.8,554 69.4,554 69.4,554.4 70,554.4 70,554.1 70.6,554.1 70.6,554.4 71.2,554.4 71.2,553.9 71.8,553.9 71.8,553.5 72.4,553.5 72.4,553.6 73,553.6 73,554 73.6,554 73.6,554.3 74.2,554.3 74.2,553.4 74.8,553.4 74.8,554.4 75.4,554.4 75.4,554 76,554 76,553.5 76.6,553.5 76.6,553.9 77.2,553.9 77.2,554.5 77.8,554.5 77.8,553.8 78.4,553.8 78.4,554.1 79,554.1 79,553.6 79.6,553.6 79.6,554.7 80.2,554.7 80.2,555.4 80.4,555.4 80.4,559.3" fill="#5cb02e" fill-opacity="0.42"/>
<polygon points="44.8,559.3 44.8,557.3 45.6,557.3 45.6,556.8 46.4,556.8 46.4,556 47.2,556 47.2,555.5 48,555.5 48,555.5 48.8,555.5 48.8,556.2 49.6,556.2 49.6,556.3 50.4,556.3 50.4,555.5 51.2,555.5 51.2,555.5 52,555.5 52,556 52.8,556 52.8,556.1 53.6,556.1 53.6,555.7 54.4,555.7 54.4,555.5 55.2,555.5 55.2,556.2 56,556.2 56,556 56.8,556 56.8,555.7 57.6,555.7 57.6,556.2 58.4,556.2 58.4,556 59.2,556 59.2,556.3 60,556.3 60,555.9 60.8,555.9 60.8,556.2 61.6,556.2 61.6,556.3 62.4,556.3 62.4,556 63.2,556 63.2,557.7 64,557.7 64,559.6 64.8,559.6 64.8,558.6 65.6,558.6 65.6,556.5 66.4,556.5 66.4,556.1 67.2,556.1 67.2,555.7 68,555.7 68,556 68.8,556 68.8,556.2 69.6,556.2 69.6,556.2 70.4,556.2 70.4,556.1 71.2,556.1 71.2,555.7 72,555.7 72,556.2 72.8,556.2 72.8,555.9 73.6,555.9 73.6,555.6 74.4,555.6 74.4,555.6 75.2,555.6 75.2,555.9 76,555.9 76,555.6 76.8,555.6 76.8,555.8 77.6,555.8 77.6,556.2 78.4,556.2 78.4,556.3 79.2,556.3 79.2,556.7 80,556.7 80,557 80.4,557 80.4,559.3" fill="#5cb02e"/>
<line x1="58.8" y1="556.4" x2="58.8" y2="552.7" stroke="#6a945c" stroke-width="0.7" stroke-opacity="0.5"/>
<line x1="78.9" y1="556.4" x2="78.9" y2="552.3" stroke="#6a945c" stroke-width="0.7" stroke-opacity="0.5"/>
<line x1="61.5" y1="556.4" x2="61.5" y2="555" stroke="#6a945c" stroke-width="0.7" stroke-opacity="0.5"/>
<line x1="54.8" y1="556.4" x2="54.8" y2="554.7" stroke="#6a945c" stroke-width="0.7" stroke-opacity="0.5"/>
<line x1="67.8" y1="556.4" x2="67.8" y2="553.2" stroke="#6a945c" stroke-width="0.7" stroke-opacity="0.5"/>
<line x1="77.3" y1="556.4" x2="77.3" y2="553.2" stroke="#6a945c" stroke-width="0.7" stroke-opacity="0.5"/>
<line x1="78.6" y1="556.4" x2="78.6" y2="553.5" stroke="#6a945c" stroke-width="0.7" stroke-opacity="0.5"/>
<line x1="61.7" y1="556.4" x2="61.7" y2="552.7" stroke="#6a945c" stroke-width="0.7" stroke-opacity="0.5"/>
<line x1="54.7" y1="556.4" x2="54.7" y2="552.9" stroke="#6a945c" stroke-width="0.7" stroke-opacity="0.5"/>
<line x1="70.5" y1="556.4" x2="70.5" y2="552.5" stroke="#6a945c" stroke-width="0.7" stroke-opacity="0.5"/>
<line x1="47.3" y1="556.4" x2="47.3" y2="554.8" stroke="#6a945c" stroke-width="0.7" stroke-opacity="0.5"/>
<line x1="78.3" y1="556.4" x2="78.3" y2="554.9" stroke="#6a945c" stroke-width="0.7" stroke-opacity="0.5"/>
<line x1="60.9" y1="556.4" x2="60.9" y2="553.6" stroke="#6a945c" stroke-width="0.7" stroke-opacity="0.5"/>
<line x1="62" y1="556.4" x2="62" y2="552.5" stroke="#6a945c" stroke-width="0.7" stroke-opacity="0.5"/>
<line x1="78.4" y1="556.4" x2="78.4" y2="554.4" stroke="#6a945c" stroke-width="0.7" stroke-opacity="0.5"/>
<line x1="49.9" y1="556.4" x2="49.9" y2="552.3" stroke="#6a945c" stroke-width="0.7" stroke-opacity="0.5"/>
<line x1="61" y1="556.4" x2="61" y2="554.7" stroke="#6a945c" stroke-width="0.7" stroke-opacity="0.5"/>
<line x1="50" y1="556.4" x2="50" y2="555" stroke="#6a945c" stroke-width="0.7" stroke-opacity="0.5"/>
<line x1="65.5" y1="556.4" x2="65.5" y2="554.6" stroke="#6a945c" stroke-width="0.7" stroke-opacity="0.5"/>
<line x1="64.6" y1="556.4" x2="64.6" y2="552.3" stroke="#6a945c" stroke-width="0.7" stroke-opacity="0.5"/>
<line x1="62.1" y1="556.4" x2="62.1" y2="552.2" stroke="#6a945c" stroke-width="0.7" stroke-opacity="0.5"/>
<line x1="47.5" y1="556.4" x2="47.5" y2="553" stroke="#6a945c" stroke-width="0.7" stroke-opacity="0.5"/>
<polygon points="80.4,559.3 80.4,555.2 81,555.2 81,554.3 81.6,554.3 81.6,555.5 82.2,555.5 82.2,554.2 82.8,554.2 82.8,554.1 83.4,554.1 83.4,554.1 84,554.1 84,554.3 84.6,554.3 84.6,554.7 85.2,554.7 85.2,553.5 85.8,553.5 85.8,553.5 86.4,553.5 86.4,553.9 87,553.9 87,553.4 87.6,553.4 87.6,554.1 88.2,554.1 88.2,555 88.8,555 88.8,553.9 89.4,553.9 89.4,555 90,555 90,553.8 90.6,553.8 90.6,554 91.2,554 91.2,554.8 91.8,554.8 91.8,554.9 92.4,554.9 92.4,555.1 93,555.1 93,554.9 93.6,554.9 93.6,553.3 94.2,553.3 94.2,554.8 94.8,554.8 94.8,553.5 95.4,553.5 95.4,554.9 96,554.9 96,554.6 96.6,554.6 96.6,554.3 97.2,554.3 97.2,554.5 97.8,554.5 97.8,553.4 98.4,553.4 98.4,554.7 99,554.7 99,554.3 99.6,554.3 99.6,554.8 100.2,554.8 100.2,555 100.8,555 100.8,553.9 101.4,553.9 101.4,554.6 102,554.6 102,554.3 102.6,554.3 102.6,553.9 103.2,553.9 103.2,555 103.8,555 103.8,555.1 104.4,555.1 104.4,553.9 105,553.9 105,553.3 105.6,553.3 105.6,555.2 106.2,555.2 106.2,554.3 106.8,554.3 106.8,553.3 107.4,553.3 107.4,553.6 108,553.6 108,553.3 108.6,553.3 108.6,554.2 109.2,554.2 109.2,553.4 109.8,553.4 109.8,555.1 110.4,555.1 110.4,554.3 111,554.3 111,553.6 111.6,553.6 111.6,554.5 112.2,554.5 112.2,554.4 112.8,554.4 112.8,554.3 113.4,554.3 113.4,554.5 114,554.5 114,553.7 114.6,553.7 114.6,553.4 115.2,553.4 115.2,554.8 115.8,554.8 115.8,554.6 116.4,554.6 116.4,553.8 117,553.8 117,554.4 117.6,554.4 117.6,554.8 117.9,554.8 117.9,559.3" fill="#c0dd16" fill-opacity="0.42"/>
<polygon points="80.4,559.3 80.4,557.6 81.2,557.6 81.2,556.4 82,556.4 82,555.6 82.8,555.6 82.8,555.8 83.6,555.8 83.6,556.1 84.4,556.1 84.4,556.3 85.2,556.3 85.2,555.5 86,555.5 86,555.5 86.8,555.5 86.8,555.5 87.6,555.5 87.6,556.1 88.4,556.1 88.4,555.7 89.2,555.7 89.2,555.5 90,555.5 90,556.2 90.8,556.2 90.8,556.4 91.6,556.4 91.6,556.2 92.4,556.2 92.4,556.2 93.2,556.2 93.2,555.7 94,555.7 94,555.6 94.8,555.6 94.8,555.6 95.6,555.6 95.6,555.7 96.4,555.7 96.4,555.4 97.2,555.4 97.2,555.4 98,555.4 98,556 98.8,556 98.8,555.5 99.6,555.5 99.6,555.7 100.4,555.7 100.4,556.2 101.2,556.2 101.2,555.8 102,555.8 102,556.2 102.8,556.2 102.8,556 103.6,556 103.6,555.6 104.4,555.6 104.4,556.4 105.2,556.4 105.2,555.9 106,555.9 106,556 106.8,556 106.8,556.1 107.6,556.1 107.6,556.3 108.4,556.3 108.4,555.9 109.2,555.9 109.2,556.1 110,556.1 110,556.3 110.8,556.3 110.8,556 111.6,556 111.6,555.7 112.4,555.7 112.4,556.3 113.2,556.3 113.2,555.6 114,555.6 114,556.3 114.8,556.3 114.8,555.9 115.6,555.9 115.6,556 116.4,556 116.4,555.7 117.2,555.7 117.2,556.6 117.9,556.6 117.9,559.3" fill="#c0dd16"/>
<line x1="107.9" y1="556.4" x2="107.9" y2="554.5" stroke="#bac93c" stroke-width="0.7" stroke-opacity="0.5"/>
<line x1="92.7" y1="556.4" x2="92.7" y2="552.7" stroke="#bac93c" stroke-width="0.7" stroke-opacity="0.5"/>
<line x1="99.5" y1="556.4" x2="99.5" y2="553.5" stroke="#bac93c" stroke-width="0.7" stroke-opacity="0.5"/>
<line x1="107.4" y1="556.4" x2="107.4" y2="554.8" stroke="#bac93c" stroke-width="0.7" stroke-opacity="0.5"/>
<line x1="94.9" y1="556.4" x2="94.9" y2="552.2" stroke="#bac93c" stroke-width="0.7" stroke-opacity="0.5"/>
<line x1="93" y1="556.4" x2="93" y2="552.6" stroke="#bac93c" stroke-width="0.7" stroke-opacity="0.5"/>
<line x1="86.5" y1="556.4" x2="86.5" y2="555" stroke="#bac93c" stroke-width="0.7" stroke-opacity="0.5"/>
<line x1="99.2" y1="556.4" x2="99.2" y2="554.6" stroke="#bac93c" stroke-width="0.7" stroke-opacity="0.5"/>
<line x1="102.7" y1="556.4" x2="102.7" y2="552.9" stroke="#bac93c" stroke-width="0.7" stroke-opacity="0.5"/>
<line x1="82.2" y1="556.4" x2="82.2" y2="553.9" stroke="#bac93c" stroke-width="0.7" stroke-opacity="0.5"/>
<line x1="94.5" y1="556.4" x2="94.5" y2="552.4" stroke="#bac93c" stroke-width="0.7" stroke-opacity="0.5"/>
<line x1="111.8" y1="556.4" x2="111.8" y2="552.5" stroke="#bac93c" stroke-width="0.7" stroke-opacity="0.5"/>
<line x1="108" y1="556.4" x2="108" y2="554.4" stroke="#bac93c" stroke-width="0.7" stroke-opacity="0.5"/>
<line x1="103.5" y1="556.4" x2="103.5" y2="553.8" stroke="#bac93c" stroke-width="0.7" stroke-opacity="0.5"/>
<line x1="94.3" y1="556.4" x2="94.3" y2="554.6" stroke="#bac93c" stroke-width="0.7" stroke-opacity="0.5"/>
<line x1="104.6" y1="556.4" x2="104.6" y2="552.4" stroke="#bac93c" stroke-width="0.7" stroke-opacity="0.5"/>
<line x1="89.7" y1="556.4" x2="89.7" y2="554.4" stroke="#bac93c" stroke-width="0.7" stroke-opacity="0.5"/>
<line x1="86.6" y1="556.4" x2="86.6" y2="554.4" stroke="#bac93c" stroke-width="0.7" stroke-opacity="0.5"/>
<line x1="95.1" y1="556.4" x2="95.1" y2="554.9" stroke="#bac93c" stroke-width="0.7" stroke-opacity="0.5"/>
<line x1="104.5" y1="556.4" x2="104.5" y2="554.4" stroke="#bac93c" stroke-width="0.7" stroke-opacity="0.5"/>
<line x1="110.4" y1="556.4" x2="110.4" y2="554.7" stroke="#bac93c" stroke-width="0.7" stroke-opacity="0.5"/>
<line x1="107.7" y1="556.4" x2="107.7" y2="552" stroke="#bac93c" stroke-width="0.7" stroke-opacity="0.5"/>
<line x1="87" y1="556.4" x2="87" y2="554.3" stroke="#bac93c" stroke-width="0.7" stroke-opacity="0.5"/>
<polygon points="117.9,559.3 117.9,554.8 118.5,554.8 118.5,555.3 119.1,555.3 119.1,554.9 119.7,554.9 119.7,554.9 120.3,554.9 120.3,553.6 120.9,553.6 120.9,554.6 121.5,554.6 121.5,553.5 122.1,553.5 122.1,554.1 122.7,554.1 122.7,554.9 123.3,554.9 123.3,553.3 123.9,553.3 123.9,553.5 124.5,553.5 124.5,553.8 125.1,553.8 125.1,554.1 125.7,554.1 125.7,553.8 126.3,553.8 126.3,553.4 126.9,553.4 126.9,554.8 127.5,554.8 127.5,554.7 128.1,554.7 128.1,553.8 128.7,553.8 128.7,554.4 129.3,554.4 129.3,553.3 129.9,553.3 129.9,553.6 130.5,553.6 130.5,554.2 131.1,554.2 131.1,554.9 131.7,554.9 131.7,554 132.3,554 132.3,554.1 132.9,554.1 132.9,554.1 133.5,554.1 133.5,553.7 134.1,553.7 134.1,554.3 134.7,554.3 134.7,553.5 135.3,553.5 135.3,554.1 135.9,554.1 135.9,554.9 136.5,554.9 136.5,553.6 137.1,553.6 137.1,554.9 137.7,554.9 137.7,553.5 138.3,553.5 138.3,553.4 138.9,553.4 138.9,554.8 139.5,554.8 139.5,554.8 140.1,554.8 140.1,553.9 140.7,553.9 140.7,554.3 141.3,554.3 141.3,554.5 141.9,554.5 141.9,553.8 142.5,553.8 142.5,554.6 143.1,554.6 143.1,555 143.7,555 143.7,554.2 144.3,554.2 144.3,553.5 144.9,553.5 144.9,553.4 145.5,553.4 145.5,555 146.1,555 146.1,553.8 146.7,553.8 146.7,555.1 147.3,555.1 147.3,554.4 147.7,554.4 147.7,559.3" fill="#5cb02e" fill-opacity="0.42"/>
<polygon points="117.9,559.3 117.9,557.9 118.7,557.9 118.7,557.2 119.5,557.2 119.5,556.1 120.3,556.1 120.3,555.9 121.1,555.9 121.1,556.2 121.9,556.2 121.9,555.6 122.7,555.6 122.7,556.1 123.5,556.1 123.5,555.7 124.3,555.7 124.3,556.2 125.1,556.2 125.1,555.9 125.9,555.9 125.9,555.7 126.7,555.7 126.7,556.2 127.5,556.2 127.5,556.1 128.3,556.1 128.3,555.6 129.1,555.6 129.1,556 129.9,556 129.9,556.1 130.7,556.1 130.7,555.8 131.5,555.8 131.5,555.7 132.3,555.7 132.3,555.5 133.1,555.5 133.1,555.8 133.9,555.8 133.9,555.5 134.7,555.5 134.7,555.5 135.5,555.5 135.5,555.5 136.3,555.5 136.3,555.5 137.1,555.5 137.1,555.7 137.9,555.7 137.9,555.7 138.7,555.7 138.7,556 139.5,556 139.5,556.3 140.3,556.3 140.3,555.5 141.1,555.5 141.1,556 141.9,556 141.9,556.1 142.7,556.1 142.7,555.9 143.5,555.9 143.5,555.6 144.3,555.6 144.3,555.6 145.1,555.6 145.1,556.3 145.9,556.3 145.9,555.6 146.7,555.6 146.7,556.2 147.5,556.2 147.5,557.1 147.7,557.1 147.7,559.3" fill="#5cb02e"/>
<line x1="145.6" y1="556.4" x2="145.6" y2="553.7" stroke="#6a945c" stroke-width="0.7" stroke-opacity="0.5"/>
<line x1="144.1" y1="556.4" x2="144.1" y2="553.6" stroke="#6a945c" stroke-width="0.7" stroke-opacity="0.5"/>
<line x1="142.9" y1="556.4" x2="142.9" y2="552" stroke="#6a945c" stroke-width="0.7" stroke-opacity="0.5"/>
<line x1="129.2" y1="556.4" x2="129.2" y2="554.9" stroke="#6a945c" stroke-width="0.7" stroke-opacity="0.5"/>
<line x1="140.1" y1="556.4" x2="140.1" y2="552.2" stroke="#6a945c" stroke-width="0.7" stroke-opacity="0.5"/>
<line x1="144.5" y1="556.4" x2="144.5" y2="554.1" stroke="#6a945c" stroke-width="0.7" stroke-opacity="0.5"/>
<line x1="131.3" y1="556.4" x2="131.3" y2="554.9" stroke="#6a945c" stroke-width="0.7" stroke-opacity="0.5"/>
<line x1="143" y1="556.4" x2="143" y2="554.6" stroke="#6a945c" stroke-width="0.7" stroke-opacity="0.5"/>
<line x1="121.8" y1="556.4" x2="121.8" y2="554.9" stroke="#6a945c" stroke-width="0.7" stroke-opacity="0.5"/>
<line x1="145.3" y1="556.4" x2="145.3" y2="554.2" stroke="#6a945c" stroke-width="0.7" stroke-opacity="0.5"/>
<line x1="141.3" y1="556.4" x2="141.3" y2="555" stroke="#6a945c" stroke-width="0.7" stroke-opacity="0.5"/>
<line x1="132.3" y1="556.4" x2="132.3" y2="553" stroke="#6a945c" stroke-width="0.7" stroke-opacity="0.5"/>
<line x1="140.7" y1="556.4" x2="140.7" y2="554.8" stroke="#6a945c" stroke-width="0.7" stroke-opacity="0.5"/>
<line x1="132.2" y1="556.4" x2="132.2" y2="552.8" stroke="#6a945c" stroke-width="0.7" stroke-opacity="0.5"/>
<line x1="144.8" y1="556.4" x2="144.8" y2="554.9" stroke="#6a945c" stroke-width="0.7" stroke-opacity="0.5"/>
<line x1="135.3" y1="556.4" x2="135.3" y2="552.4" stroke="#6a945c" stroke-width="0.7" stroke-opacity="0.5"/>
<line x1="136.3" y1="556.4" x2="136.3" y2="552.9" stroke="#6a945c" stroke-width="0.7" stroke-opacity="0.5"/>
<line x1="126.9" y1="556.4" x2="126.9" y2="554" stroke="#6a945c" stroke-width="0.7" stroke-opacity="0.5"/>
<polygon points="147.7,559.3 147.7,556.6 148.3,556.6 148.3,554.6 148.9,554.6 148.9,554.5 149.5,554.5 149.5,554.9 150.1,554.9 150.1,553.4 150.7,553.4 150.7,554.8 151.3,554.8 151.3,555.1 151.9,555.1 151.9,553.8 152.5,553.8 152.5,555 153.1,555 153.1,553.9 153.7,553.9 153.7,554.9 154.3,554.9 154.3,555.2 154.9,555.2 154.9,553.8 155.5,553.8 155.5,554 156.1,554 156.1,553.9 156.7,553.9 156.7,553.9 157.3,553.9 157.3,553.8 157.9,553.8 157.9,554.9 158.5,554.9 158.5,554.4 159.1,554.4 159.1,554.1 159.7,554.1 159.7,553.6 160.3,553.6 160.3,554 160.9,554 160.9,554.3 161.5,554.3 161.5,553.6 162.1,553.6 162.1,553.6 162.7,553.6 162.7,554.7 163.3,554.7 163.3,554.9 163.9,554.9 163.9,555.2 164.5,555.2 164.5,553.5 165.1,553.5 165.1,554.8 165.7,554.8 165.7,554.1 166.3,554.1 166.3,554.2 166.9,554.2 166.9,553.9 167.5,553.9 167.5,553.4 168.1,553.4 168.1,554 168.7,554 168.7,554.9 169.3,554.9 169.3,554.4 169.9,554.4 169.9,554.8 170.5,554.8 170.5,554.5 171.1,554.5 171.1,553.8 171.7,553.8 171.7,554 172.3,554 172.3,554 172.9,554 172.9,553.6 173.5,553.6 173.5,553.3 174.1,553.3 174.1,554.8 174.7,554.8 174.7,554.5 175.3,554.5 175.3,555.1 175.6,555.1 175.6,559.3" fill="#c0dd16" fill-opacity="0.42"/>
<polygon points="147.7,559.3 147.7,558.2 148.5,558.2 148.5,556.3 149.3,556.3 149.3,556 150.1,556 150.1,555.7 150.9,555.7 150.9,556.2 151.7,556.2 151.7,556 152.5,556 152.5,556.3 153.3,556.3 153.3,555.4 154.1,555.4 154.1,556.4 154.9,556.4 154.9,556.3 155.7,556.3 155.7,555.7 156.5,555.7 156.5,555.8 157.3,555.8 157.3,556.1 158.1,556.1 158.1,555.5 158.9,555.5 158.9,555.7 159.7,555.7 159.7,556 160.5,556 160.5,555.7 161.3,555.7 161.3,555.5 162.1,555.5 162.1,555.5 162.9,555.5 162.9,556 163.7,556 163.7,555.6 164.5,555.6 164.5,556.2 165.3,556.2 165.3,556 166.1,556 166.1,555.4 166.9,555.4 166.9,555.7 167.7,555.7 167.7,556 168.5,556 168.5,555.9 169.3,555.9 169.3,556 170.1,556 170.1,555.7 170.9,555.7 170.9,555.9 171.7,555.9 171.7,555.9 172.5,555.9 172.5,556 173.3,556 173.3,555.5 174.1,555.5 174.1,555.7 174.9,555.7 174.9,557.2 175.6,557.2 175.6,559.3" fill="#c0dd16"/>
<line x1="158.9" y1="556.4" x2="158.9" y2="552.4" stroke="#bac93c" stroke-width="0.7" stroke-opacity="0.5"/>
<line x1="167.9" y1="556.4" x2="167.9" y2="553.6" stroke="#bac93c" stroke-width="0.7" stroke-opacity="0.5"/>
<line x1="165.2" y1="556.4" x2="165.2" y2="554.8" stroke="#bac93c" stroke-width="0.7" stroke-opacity="0.5"/>
<line x1="163.5" y1="556.4" x2="163.5" y2="553" stroke="#bac93c" stroke-width="0.7" stroke-opacity="0.5"/>
<line x1="160.1" y1="556.4" x2="160.1" y2="554.2" stroke="#bac93c" stroke-width="0.7" stroke-opacity="0.5"/>
<line x1="159.8" y1="556.4" x2="159.8" y2="553.6" stroke="#bac93c" stroke-width="0.7" stroke-opacity="0.5"/>
<line x1="154" y1="556.4" x2="154" y2="552.7" stroke="#bac93c" stroke-width="0.7" stroke-opacity="0.5"/>
<line x1="149.9" y1="556.4" x2="149.9" y2="552.9" stroke="#bac93c" stroke-width="0.7" stroke-opacity="0.5"/>
<line x1="162.3" y1="556.4" x2="162.3" y2="554.6" stroke="#bac93c" stroke-width="0.7" stroke-opacity="0.5"/>
<line x1="154.9" y1="556.4" x2="154.9" y2="554.6" stroke="#bac93c" stroke-width="0.7" stroke-opacity="0.5"/>
<line x1="152.5" y1="556.4" x2="152.5" y2="552" stroke="#bac93c" stroke-width="0.7" stroke-opacity="0.5"/>
<line x1="155.7" y1="556.4" x2="155.7" y2="555" stroke="#bac93c" stroke-width="0.7" stroke-opacity="0.5"/>
<line x1="165.9" y1="556.4" x2="165.9" y2="552.1" stroke="#bac93c" stroke-width="0.7" stroke-opacity="0.5"/>
<line x1="155.9" y1="556.4" x2="155.9" y2="554.7" stroke="#bac93c" stroke-width="0.7" stroke-opacity="0.5"/>
<line x1="163.9" y1="556.4" x2="163.9" y2="554.5" stroke="#bac93c" stroke-width="0.7" stroke-opacity="0.5"/>
<line x1="160.6" y1="556.4" x2="160.6" y2="553.7" stroke="#bac93c" stroke-width="0.7" stroke-opacity="0.5"/>
<line x1="175.2" y1="556.4" x2="175.2" y2="554.3" stroke="#bac93c" stroke-width="0.7" stroke-opacity="0.5"/>
<polygon points="175.6,559.3 175.6,556 176.2,556 176.2,554.8 176.8,554.8 176.8,554.5 177.4,554.5 177.4,553.5 178,553.5 178,554.4 178.6,554.4 178.6,554 179.2,554 179.2,554.2 179.8,554.2 179.8,554.1 180.4,554.1 180.4,554.3 181,554.3 181,554.9 181.6,554.9 181.6,555 182.2,555 182.2,554.4 182.8,554.4 182.8,553.3 183.4,553.3 183.4,554.2 184,554.2 184,554.3 184.6,554.3 184.6,554.3 185.2,554.3 185.2,553.7 185.8,553.7 185.8,554.5 186.4,554.5 186.4,554.5 187,554.5 187,554.6 187.6,554.6 187.6,554.1 188.2,554.1 188.2,554.3 188.8,554.3 188.8,554.1 189.4,554.1 189.4,553.4 190,553.4 190,554.5 190.6,554.5 190.6,554 191.2,554 191.2,553.3 191.8,553.3 191.8,553.8 192.4,553.8 192.4,553.6 193,553.6 193,553.7 193.6,553.7 193.6,554.8 194.2,554.8 194.2,554 194.8,554 194.8,554.5 195.4,554.5 195.4,554.5 196,554.5 196,555 196.6,555 196.6,553.7 197.2,553.7 197.2,553.4 197.8,553.4 197.8,553.6 198.4,553.6 198.4,554.4 199,554.4 199,553.5 199.6,553.5 199.6,553.7 200.2,553.7 200.2,554 200.8,554 200.8,553.7 201.4,553.7 201.4,554.2 202,554.2 202,556.2 202.5,556.2 202.5,559.3" fill="#5cb02e" fill-opacity="0.42"/>
<polygon points="175.6,559.3 175.6,557.7 176.4,557.7 176.4,556.7 177.2,556.7 177.2,556 178,556 178,555.6 178.8,555.6 178.8,555.7 179.6,555.7 179.6,556.3 180.4,556.3 180.4,556 181.2,556 181.2,556.4 182,556.4 182,556 182.8,556 182.8,556.3 183.6,556.3 183.6,556.4 184.4,556.4 184.4,556.1 185.2,556.1 185.2,555.7 186,555.7 186,556.2 186.8,556.2 186.8,555.4 187.6,555.4 187.6,556.2 188.4,556.2 188.4,555.6 189.2,555.6 189.2,556.1 190,556.1 190,555.5 190.8,555.5 190.8,555.9 191.6,555.9 191.6,555.6 192.4,555.6 192.4,556 193.2,556 193.2,556.1 194,556.1 194,555.5 194.8,555.5 194.8,556.4 195.6,556.4 195.6,556.3 196.4,556.3 196.4,556.3 197.2,556.3 197.2,555.8 198,555.8 198,555.6 198.8,555.6 198.8,556.2 199.6,556.2 199.6,555.8 200.4,555.8 200.4,555.5 201.2,555.5 201.2,556.7 202,556.7 202,556.9 202.5,556.9 202.5,559.3" fill="#5cb02e"/>
<line x1="179.6" y1="556.4" x2="179.6" y2="555" stroke="#6a945c" stroke-width="0.7" stroke-opacity="0.5"/>
<line x1="188.9" y1="556.4" x2="188.9" y2="554.3" stroke="#6a945c" stroke-width="0.7" stroke-opacity="0.5"/>
<line x1="186.3" y1="556.4" x2="186.3" y2="553.5" stroke="#6a945c" stroke-width="0.7" stroke-opacity="0.5"/>
<line x1="176.4" y1="556.4" x2="176.4" y2="553.6" stroke="#6a945c" stroke-width="0.7" stroke-opacity="0.5"/>
<line x1="179.8" y1="556.4" x2="179.8" y2="552.2" stroke="#6a945c" stroke-width="0.7" stroke-opacity="0.5"/>
<line x1="188.4" y1="556.4" x2="188.4" y2="554.7" stroke="#6a945c" stroke-width="0.7" stroke-opacity="0.5"/>
<line x1="189.7" y1="556.4" x2="189.7" y2="554.2" stroke="#6a945c" stroke-width="0.7" stroke-opacity="0.5"/>
<line x1="177.9" y1="556.4" x2="177.9" y2="553" stroke="#6a945c" stroke-width="0.7" stroke-opacity="0.5"/>
<line x1="187.2" y1="556.4" x2="187.2" y2="552.6" stroke="#6a945c" stroke-width="0.7" stroke-opacity="0.5"/>
<line x1="195.8" y1="556.4" x2="195.8" y2="552.7" stroke="#6a945c" stroke-width="0.7" stroke-opacity="0.5"/>
<line x1="200.9" y1="556.4" x2="200.9" y2="554.5" stroke="#6a945c" stroke-width="0.7" stroke-opacity="0.5"/>
<line x1="190.7" y1="556.4" x2="190.7" y2="553.7" stroke="#6a945c" stroke-width="0.7" stroke-opacity="0.5"/>
<line x1="192.1" y1="556.4" x2="192.1" y2="553" stroke="#6a945c" stroke-width="0.7" stroke-opacity="0.5"/>
<line x1="195.9" y1="556.4" x2="195.9" y2="553.4" stroke="#6a945c" stroke-width="0.7" stroke-opacity="0.5"/>
<line x1="191.7" y1="556.4" x2="191.7" y2="553.8" stroke="#6a945c" stroke-width="0.7" stroke-opacity="0.5"/>
<line x1="179.7" y1="556.4" x2="179.7" y2="554.6" stroke="#6a945c" stroke-width="0.7" stroke-opacity="0.5"/>
<polygon points="202.5,559.3 202.5,556.4 203.1,556.4 203.1,555 203.7,555 203.7,554.4 204.3,554.4 204.3,554.8 204.9,554.8 204.9,554.5 205.5,554.5 205.5,553.6 206.1,553.6 206.1,554.9 206.7,554.9 206.7,554.2 207.3,554.2 207.3,554.2 207.9,554.2 207.9,554.3 208.5,554.3 208.5,554.7 209.1,554.7 209.1,553.4 209.7,553.4 209.7,554.1 210.3,554.1 210.3,554.2 210.9,554.2 210.9,555.1 211.5,555.1 211.5,555.1 212.1,555.1 212.1,554.3 212.7,554.3 212.7,554.7 213.3,554.7 213.3,553.9 213.9,553.9 213.9,553.9 214.5,553.9 214.5,555.1 215.1,555.1 215.1,554.5 215.7,554.5 215.7,554.6 216.3,554.6 216.3,554 216.9,554 216.9,554.1 217.5,554.1 217.5,553.6 218.1,553.6 218.1,555.1 218.7,555.1 218.7,554.3 219.3,554.3 219.3,553.8 219.9,553.8 219.9,554.9 220.5,554.9 220.5,555.1 221.1,555.1 221.1,554.4 221.7,554.4 221.7,554.8 222.3,554.8 222.3,555.1 222.9,555.1 222.9,553.6 223.5,553.6 223.5,553.8 224.1,553.8 224.1,553.9 224.7,553.9 224.7,553.5 225.3,553.5 225.3,553.8 225.9,553.8 225.9,554.4 226.5,554.4 226.5,553.7 227.1,553.7 227.1,553.6 227.7,553.6 227.7,554.1 228.3,554.1 228.3,554.8 228.5,554.8 228.5,559.3" fill="#c0dd16" fill-opacity="0.42"/>
<polygon points="202.5,559.3 202.5,557.5 203.3,557.5 203.3,556.4 204.1,556.4 204.1,555.5 204.9,555.5 204.9,555.8 205.7,555.8 205.7,556 206.5,556 206.5,555.7 207.3,555.7 207.3,555.4 208.1,555.4 208.1,556.3 208.9,556.3 208.9,556 209.7,556 209.7,556.3 210.5,556.3 210.5,556.3 211.3,556.3 211.3,555.8 212.1,555.8 212.1,556.2 212.9,556.2 212.9,556.3 213.7,556.3 213.7,555.8 214.5,555.8 214.5,555.8 215.3,555.8 215.3,555.9 216.1,555.9 216.1,556.4 216.9,556.4 216.9,556.3 217.7,556.3 217.7,555.9 218.5,555.9 218.5,556.3 219.3,556.3 219.3,556.3 220.1,556.3 220.1,556.1 220.9,556.1 220.9,555.5 221.7,555.5 221.7,555.6 222.5,555.6 222.5,555.5 223.3,555.5 223.3,555.6 224.1,555.6 224.1,556.3 224.9,556.3 224.9,555.7 225.7,555.7 225.7,555.7 226.5,555.7 226.5,555.5 227.3,555.5 227.3,556.8 228.1,556.8 228.1,557.6 228.5,557.6 228.5,559.3" fill="#c0dd16"/>
<line x1="206.1" y1="556.4" x2="206.1" y2="554.2" stroke="#bac93c" stroke-width="0.7" stroke-opacity="0.5"/>
<line x1="211.5" y1="556.4" x2="211.5" y2="554.6" stroke="#bac93c" stroke-width="0.7" stroke-opacity="0.5"/>
<line x1="222.4" y1="556.4" x2="222.4" y2="552.2" stroke="#bac93c" stroke-width="0.7" stroke-opacity="0.5"/>
<line x1="226.5" y1="556.4" x2="226.5" y2="555" stroke="#bac93c" stroke-width="0.7" stroke-opacity="0.5"/>
<line x1="207.1" y1="556.4" x2="207.1" y2="554.1" stroke="#bac93c" stroke-width="0.7" stroke-opacity="0.5"/>
<line x1="222.3" y1="556.4" x2="222.3" y2="553" stroke="#bac93c" stroke-width="0.7" stroke-opacity="0.5"/>
<line x1="224" y1="556.4" x2="224" y2="554.9" stroke="#bac93c" stroke-width="0.7" stroke-opacity="0.5"/>
<line x1="217" y1="556.4" x2="217" y2="555" stroke="#bac93c" stroke-width="0.7" stroke-opacity="0.5"/>
<line x1="220.2" y1="556.4" x2="220.2" y2="552.7" stroke="#bac93c" stroke-width="0.7" stroke-opacity="0.5"/>
<line x1="210.8" y1="556.4" x2="210.8" y2="554.3" stroke="#bac93c" stroke-width="0.7" stroke-opacity="0.5"/>
<line x1="204.7" y1="556.4" x2="204.7" y2="552.5" stroke="#bac93c" stroke-width="0.7" stroke-opacity="0.5"/>
<line x1="211.5" y1="556.4" x2="211.5" y2="554.6" stroke="#bac93c" stroke-width="0.7" stroke-opacity="0.5"/>
<line x1="212.5" y1="556.4" x2="212.5" y2="554.8" stroke="#bac93c" stroke-width="0.7" stroke-opacity="0.5"/>
<line x1="227.8" y1="556.4" x2="227.8" y2="552.2" stroke="#bac93c" stroke-width="0.7" stroke-opacity="0.5"/>
<line x1="216.6" y1="556.4" x2="216.6" y2="554.3" stroke="#bac93c" stroke-width="0.7" stroke-opacity="0.5"/>
<line x1="215.2" y1="556.4" x2="215.2" y2="552.2" stroke="#bac93c" stroke-width="0.7" stroke-opacity="0.5"/>
<polygon points="228.5,559.3 228.5,556.6 229.1,556.6 229.1,555.7 229.7,555.7 229.7,554.3 230.3,554.3 230.3,554.6 230.9,554.6 230.9,554.3 231.5,554.3 231.5,555 232.1,555 232.1,554.4 232.7,554.4 232.7,553.4 233.3,553.4 233.3,553.9 233.9,553.9 233.9,554.1 234.5,554.1 234.5,553.6 235.1,553.6 235.1,554.9 235.7,554.9 235.7,553.9 236.3,553.9 236.3,553.4 236.9,553.4 236.9,554.5 237.5,554.5 237.5,555.2 238.1,555.2 238.1,554 238.7,554 238.7,553.5 239.3,553.5 239.3,555 239.9,555 239.9,554.7 240.5,554.7 240.5,553.9 241.1,553.9 241.1,554.2 241.7,554.2 241.7,553.3 242.3,553.3 242.3,554.2 242.9,554.2 242.9,554.5 243.5,554.5 243.5,554.5 244.1,554.5 244.1,554.3 244.7,554.3 244.7,553.7 245.3,553.7 245.3,553.8 245.9,553.8 245.9,554.4 246.5,554.4 246.5,554.5 247.1,554.5 247.1,554 247.7,554 247.7,554.8 248.3,554.8 248.3,554.3 248.9,554.3 248.9,554.5 249.5,554.5 249.5,555.2 250.1,555.2 250.1,554.1 250.7,554.1 250.7,555.8 251.3,555.8 251.3,555.9 251.5,555.9 251.5,559.3" fill="#5cb02e" fill-opacity="0.42"/>
<polygon points="228.5,559.3 228.5,557.7 229.3,557.7 229.3,556.5 230.1,556.5 230.1,555.8 230.9,555.8 230.9,555.4 231.7,555.4 231.7,556.4 232.5,556.4 232.5,555.6 233.3,555.6 233.3,555.7 234.1,555.7 234.1,555.7 234.9,555.7 234.9,555.4 235.7,555.4 235.7,556.3 236.5,556.3 236.5,556.3 237.3,556.3 237.3,555.4 238.1,555.4 238.1,555.5 238.9,555.5 238.9,556.3 239.7,556.3 239.7,555.9 240.5,555.9 240.5,555.5 241.3,555.5 241.3,555.8 242.1,555.8 242.1,556.4 242.9,556.4 242.9,556.2 243.7,556.2 243.7,555.6 244.5,555.6 244.5,556.2 245.3,556.2 245.3,556.1 246.1,556.1 246.1,555.6 246.9,555.6 246.9,556.2 247.7,556.2 247.7,555.8 248.5,555.8 248.5,556.2 249.3,556.2 249.3,556.2 250.1,556.2 250.1,556.1 250.9,556.1 250.9,556.8 251.5,556.8 251.5,559.3" fill="#5cb02e"/>
<line x1="237.5" y1="556.4" x2="237.5" y2="554.7" stroke="#6a945c" stroke-width="0.7" stroke-opacity="0.5"/>
<line x1="244.6" y1="556.4" x2="244.6" y2="553.1" stroke="#6a945c" stroke-width="0.7" stroke-opacity="0.5"/>
<line x1="229.2" y1="556.4" x2="229.2" y2="553.3" stroke="#6a945c" stroke-width="0.7" stroke-opacity="0.5"/>
<line x1="240.5" y1="556.4" x2="240.5" y2="552" stroke="#6a945c" stroke-width="0.7" stroke-opacity="0.5"/>
<line x1="242.3" y1="556.4" x2="242.3" y2="553.5" stroke="#6a945c" stroke-width="0.7" stroke-opacity="0.5"/>
<line x1="230.6" y1="556.4" x2="230.6" y2="554" stroke="#6a945c" stroke-width="0.7" stroke-opacity="0.5"/>
<line x1="230" y1="556.4" x2="230" y2="554.8" stroke="#6a945c" stroke-width="0.7" stroke-opacity="0.5"/>
<line x1="240.1" y1="556.4" x2="240.1" y2="552.6" stroke="#6a945c" stroke-width="0.7" stroke-opacity="0.5"/>
<line x1="250.4" y1="556.4" x2="250.4" y2="552.7" stroke="#6a945c" stroke-width="0.7" stroke-opacity="0.5"/>
<line x1="240" y1="556.4" x2="240" y2="554.1" stroke="#6a945c" stroke-width="0.7" stroke-opacity="0.5"/>
<line x1="244.3" y1="556.4" x2="244.3" y2="554.4" stroke="#6a945c" stroke-width="0.7" stroke-opacity="0.5"/>
<line x1="229.4" y1="556.4" x2="229.4" y2="553" stroke="#6a945c" stroke-width="0.7" stroke-opacity="0.5"/>
<line x1="249.9" y1="556.4" x2="249.9" y2="552.4" stroke="#6a945c" stroke-width="0.7" stroke-opacity="0.5"/>
<line x1="243.1" y1="556.4" x2="243.1" y2="552.8" stroke="#6a945c" stroke-width="0.7" stroke-opacity="0.5"/>
<polygon points="251.5,559.3 251.5,556.3 252.1,556.3 252.1,555.7 252.7,555.7 252.7,553.9 253.3,553.9 253.3,554.2 253.9,554.2 253.9,554.8 254.5,554.8 254.5,554 255.1,554 255.1,553.8 255.7,553.8 255.7,553.5 256.3,553.5 256.3,555 256.9,555 256.9,554.6 257.5,554.6 257.5,554.2 258.1,554.2 258.1,553.6 258.7,553.6 258.7,553.3 259.3,553.3 259.3,555 259.9,555 259.9,554.6 260.5,554.6 260.5,554.4 261.1,554.4 261.1,553.4 261.7,553.4 261.7,554 262.3,554 262.3,554.6 262.9,554.6 262.9,554.1 263.5,554.1 263.5,554.8 264.1,554.8 264.1,553.6 264.7,553.6 264.7,554.4 265.3,554.4 265.3,554.1 265.9,554.1 265.9,553.7 266.5,553.7 266.5,554.2 267.1,554.2 267.1,555.1 267.7,555.1 267.7,554.5 268.3,554.5 268.3,555.2 268.9,555.2 268.9,554.4 269.5,554.4 269.5,553.3 270.1,553.3 270.1,553.7 270.7,553.7 270.7,553.3 271.3,553.3 271.3,554.9 271.9,554.9 271.9,553.9 272.5,553.9 272.5,553.7 273.1,553.7 273.1,554.4 273.7,554.4 273.7,554.3 274.3,554.3 274.3,556.2 274.6,556.2 274.6,559.3" fill="#c0dd16" fill-opacity="0.42"/>
<polygon points="251.5,559.3 251.5,557.4 252.3,557.4 252.3,556.4 253.1,556.4 253.1,556.2 253.9,556.2 253.9,556.3 254.7,556.3 254.7,555.5 255.5,555.5 255.5,555.8 256.3,555.8 256.3,555.4 257.1,555.4 257.1,555.8 257.9,555.8 257.9,556.2 258.7,556.2 258.7,556.1 259.5,556.1 259.5,555.7 260.3,555.7 260.3,556.1 261.1,556.1 261.1,555.4 261.9,555.4 261.9,555.6 262.7,555.6 262.7,555.8 263.5,555.8 263.5,555.5 264.3,555.5 264.3,555.6 265.1,555.6 265.1,556 265.9,556 265.9,555.8 266.7,555.8 266.7,556 267.5,556 267.5,556.4 268.3,556.4 268.3,556.3 269.1,556.3 269.1,556.1 269.9,556.1 269.9,556.4 270.7,556.4 270.7,555.5 271.5,555.5 271.5,555.9 272.3,555.9 272.3,556.2 273.1,556.2 273.1,556.4 273.9,556.4 273.9,556.8 274.6,556.8 274.6,559.3" fill="#c0dd16"/>
<line x1="261.3" y1="556.4" x2="261.3" y2="552.6" stroke="#bac93c" stroke-width="0.7" stroke-opacity="0.5"/>
<line x1="265.8" y1="556.4" x2="265.8" y2="554.9" stroke="#bac93c" stroke-width="0.7" stroke-opacity="0.5"/>
<line x1="273.5" y1="556.4" x2="273.5" y2="552.5" stroke="#bac93c" stroke-width="0.7" stroke-opacity="0.5"/>
<line x1="259.9" y1="556.4" x2="259.9" y2="552.8" stroke="#bac93c" stroke-width="0.7" stroke-opacity="0.5"/>
<line x1="266" y1="556.4" x2="266" y2="554.9" stroke="#bac93c" stroke-width="0.7" stroke-opacity="0.5"/>
<line x1="257.2" y1="556.4" x2="257.2" y2="554.5" stroke="#bac93c" stroke-width="0.7" stroke-opacity="0.5"/>
<line x1="264.5" y1="556.4" x2="264.5" y2="553.9" stroke="#bac93c" stroke-width="0.7" stroke-opacity="0.5"/>
<line x1="264.5" y1="556.4" x2="264.5" y2="555" stroke="#bac93c" stroke-width="0.7" stroke-opacity="0.5"/>
<line x1="260" y1="556.4" x2="260" y2="554.9" stroke="#bac93c" stroke-width="0.7" stroke-opacity="0.5"/>
<line x1="260.4" y1="556.4" x2="260.4" y2="552" stroke="#bac93c" stroke-width="0.7" stroke-opacity="0.5"/>
<line x1="254.1" y1="556.4" x2="254.1" y2="555" stroke="#bac93c" stroke-width="0.7" stroke-opacity="0.5"/>
<line x1="260.9" y1="556.4" x2="260.9" y2="554.3" stroke="#bac93c" stroke-width="0.7" stroke-opacity="0.5"/>
<line x1="253.8" y1="556.4" x2="253.8" y2="552.6" stroke="#bac93c" stroke-width="0.7" stroke-opacity="0.5"/>
<line x1="269.8" y1="556.4" x2="269.8" y2="552.7" stroke="#bac93c" stroke-width="0.7" stroke-opacity="0.5"/>
<polygon points="274.4,559.3 274.4,555.4 275,555.4 275,555.1 275.6,555.1 275.6,554.5 276.2,554.5 276.2,554.9 276.8,554.9 276.8,555.2 277.4,555.2 277.4,553.4 278,553.4 278,553.5 278.6,553.5 278.6,554.7 279.2,554.7 279.2,554.2 279.8,554.2 279.8,555 280.4,555 280.4,553.6 281,553.6 281,553.5 281.6,553.5 281.6,554 282.2,554 282.2,556.6 282.8,556.6 282.8,555.9 283.4,555.9 283.4,556.6 284,556.6 284,554.4 284.6,554.4 284.6,553.4 285.2,553.4 285.2,554.9 285.8,554.9 285.8,554.1 286.4,554.1 286.4,553.7 287,553.7 287,553.7 287.6,553.7 287.6,553.6 288.2,553.6 288.2,553.9 288.8,553.9 288.8,554.2 289.4,554.2 289.4,554.2 290,554.2 290,553.8 290.6,553.8 290.6,553.8 291.2,553.8 291.2,553.9 291.8,553.9 291.8,553.5 292.4,553.5 292.4,554.7 293,554.7 293,554.6 293.6,554.6 293.6,554.4 294.2,554.4 294.2,555 294.8,555 294.8,554.7 295.4,554.7 295.4,556.5 295.5,556.5 295.5,559.3" fill="#5cb02e" fill-opacity="0.42"/>
<polygon points="274.4,559.3 274.4,557.3 275.2,557.3 275.2,557.2 276,557.2 276,555.7 276.8,555.7 276.8,555.7 277.6,555.7 277.6,556.1 278.4,556.1 278.4,556.4 279.2,556.4 279.2,555.4 280,555.4 280,555.5 280.8,555.5 280.8,555.9 281.6,555.9 281.6,557.1 282.4,557.1 282.4,558.8 283.2,558.8 283.2,558.7 284,558.7 284,557.2 284.8,557.2 284.8,555.8 285.6,555.8 285.6,555.7 286.4,555.7 286.4,556.2 287.2,556.2 287.2,556 288,556 288,556 288.8,556 288.8,556.1 289.6,556.1 289.6,556 290.4,556 290.4,556.3 291.2,556.3 291.2,556.1 292,556.1 292,555.5 292.8,555.5 292.8,555.7 293.6,555.7 293.6,555.9 294.4,555.9 294.4,556.9 295.2,556.9 295.2,557.6 295.5,557.6 295.5,559.3" fill="#5cb02e"/>
<line x1="289.3" y1="556.4" x2="289.3" y2="554" stroke="#6a945c" stroke-width="0.7" stroke-opacity="0.5"/>
<line x1="290.2" y1="556.4" x2="290.2" y2="553.3" stroke="#6a945c" stroke-width="0.7" stroke-opacity="0.5"/>
<line x1="284.9" y1="556.4" x2="284.9" y2="553.2" stroke="#6a945c" stroke-width="0.7" stroke-opacity="0.5"/>
<line x1="285" y1="556.4" x2="285" y2="554.4" stroke="#6a945c" stroke-width="0.7" stroke-opacity="0.5"/>
<line x1="294.9" y1="556.4" x2="294.9" y2="553.1" stroke="#6a945c" stroke-width="0.7" stroke-opacity="0.5"/>
<line x1="282.6" y1="556.4" x2="282.6" y2="555" stroke="#6a945c" stroke-width="0.7" stroke-opacity="0.5"/>
<line x1="284.2" y1="556.4" x2="284.2" y2="554.4" stroke="#6a945c" stroke-width="0.7" stroke-opacity="0.5"/>
<line x1="292.6" y1="556.4" x2="292.6" y2="552.1" stroke="#6a945c" stroke-width="0.7" stroke-opacity="0.5"/>
<line x1="289.3" y1="556.4" x2="289.3" y2="555" stroke="#6a945c" stroke-width="0.7" stroke-opacity="0.5"/>
<line x1="288.6" y1="556.4" x2="288.6" y2="554.8" stroke="#6a945c" stroke-width="0.7" stroke-opacity="0.5"/>
<line x1="286.2" y1="556.4" x2="286.2" y2="552.7" stroke="#6a945c" stroke-width="0.7" stroke-opacity="0.5"/>
<line x1="276.1" y1="556.4" x2="276.1" y2="552.1" stroke="#6a945c" stroke-width="0.7" stroke-opacity="0.5"/>
<line x1="291.7" y1="556.4" x2="291.7" y2="554.2" stroke="#6a945c" stroke-width="0.7" stroke-opacity="0.5"/>
<polygon points="295.5,559.3 295.5,555.6 296.1,555.6 296.1,555.4 296.7,555.4 296.7,554 297.3,554 297.3,553.4 297.9,553.4 297.9,554.3 298.5,554.3 298.5,553.7 299.1,553.7 299.1,555 299.7,555 299.7,554.9 300.3,554.9 300.3,553.4 300.9,553.4 300.9,554.9 301.5,554.9 301.5,553.8 302.1,553.8 302.1,553.8 302.7,553.8 302.7,555.1 303.3,555.1 303.3,553.6 303.9,553.6 303.9,554.1 304.5,554.1 304.5,554.2 305.1,554.2 305.1,553.8 305.7,553.8 305.7,554.4 306.3,554.4 306.3,553.6 306.9,553.6 306.9,554.1 307.5,554.1 307.5,553.7 308.1,553.7 308.1,554.4 308.7,554.4 308.7,554.4 309.3,554.4 309.3,554.6 309.9,554.6 309.9,554.8 310.5,554.8 310.5,553.6 311.1,553.6 311.1,554.1 311.7,554.1 311.7,553.4 312.3,553.4 312.3,554 312.9,554 312.9,553.8 313.5,553.8 313.5,554.1 314.1,554.1 314.1,554.6 314.7,554.6 314.7,554.5 315.3,554.5 315.3,559.3" fill="#c0dd16" fill-opacity="0.42"/>
<polygon points="295.5,559.3 295.5,558.1 296.3,558.1 296.3,556.7 297.1,556.7 297.1,556.4 297.9,556.4 297.9,556.3 298.7,556.3 298.7,555.4 299.5,555.4 299.5,556.4 300.3,556.4 300.3,555.6 301.1,555.6 301.1,555.4 301.9,555.4 301.9,555.7 302.7,555.7 302.7,555.4 303.5,555.4 303.5,556.2 304.3,556.2 304.3,555.7 305.1,555.7 305.1,555.8 305.9,555.8 305.9,555.9 306.7,555.9 306.7,556.3 307.5,556.3 307.5,556.3 308.3,556.3 308.3,555.6 309.1,555.6 309.1,556.2 309.9,556.2 309.9,555.7 310.7,555.7 310.7,556.3 311.5,556.3 311.5,555.8 312.3,555.8 312.3,556.3 313.1,556.3 313.1,555.4 313.9,555.4 313.9,556 314.7,556 314.7,557.3 315.3,557.3 315.3,559.3" fill="#c0dd16"/>
<line x1="314.3" y1="556.4" x2="314.3" y2="554.8" stroke="#bac93c" stroke-width="0.7" stroke-opacity="0.5"/>
<line x1="305" y1="556.4" x2="305" y2="553.6" stroke="#bac93c" stroke-width="0.7" stroke-opacity="0.5"/>
<line x1="298.7" y1="556.4" x2="298.7" y2="553.3" stroke="#bac93c" stroke-width="0.7" stroke-opacity="0.5"/>
<line x1="301" y1="556.4" x2="301" y2="552.8" stroke="#bac93c" stroke-width="0.7" stroke-opacity="0.5"/>
<line x1="314.4" y1="556.4" x2="314.4" y2="552.3" stroke="#bac93c" stroke-width="0.7" stroke-opacity="0.5"/>
<line x1="298" y1="556.4" x2="298" y2="554" stroke="#bac93c" stroke-width="0.7" stroke-opacity="0.5"/>
<line x1="309" y1="556.4" x2="309" y2="555" stroke="#bac93c" stroke-width="0.7" stroke-opacity="0.5"/>
<line x1="296.2" y1="556.4" x2="296.2" y2="552.9" stroke="#bac93c" stroke-width="0.7" stroke-opacity="0.5"/>
<line x1="309.2" y1="556.4" x2="309.2" y2="554.8" stroke="#bac93c" stroke-width="0.7" stroke-opacity="0.5"/>
<line x1="309.9" y1="556.4" x2="309.9" y2="552.8" stroke="#bac93c" stroke-width="0.7" stroke-opacity="0.5"/>
<line x1="301.4" y1="556.4" x2="301.4" y2="553.8" stroke="#bac93c" stroke-width="0.7" stroke-opacity="0.5"/>
<line x1="310.4" y1="556.4" x2="310.4" y2="555" stroke="#bac93c" stroke-width="0.7" stroke-opacity="0.5"/>
<polygon points="315.6,559.3 315.6,555.3 316.2,555.3 316.2,554.3 316.8,554.3 316.8,553.7 317.4,553.7 317.4,553.3 318,553.3 318,553.7 318.6,553.7 318.6,553.4 319.2,553.4 319.2,554.5 319.8,554.5 319.8,554.6 320.4,554.6 320.4,553.7 321,553.7 321,554.8 321.6,554.8 321.6,554.7 322.2,554.7 322.2,554 322.8,554 322.8,554.4 323.4,554.4 323.4,553.4 324,553.4 324,554.9 324.6,554.9 324.6,554.5 325.2,554.5 325.2,553.5 325.8,553.5 325.8,554.6 326.4,554.6 326.4,553.8 327,553.8 327,554.2 327.6,554.2 327.6,553.4 328.2,553.4 328.2,554.9 328.8,554.9 328.8,554.2 329.4,554.2 329.4,554.6 330,554.6 330,553.8 330.6,553.8 330.6,553.4 331.2,553.4 331.2,553.9 331.8,553.9 331.8,553.4 332.4,553.4 332.4,553.6 333,553.6 333,554.3 333.6,554.3 333.6,554.7 334.2,554.7 334.2,555.1 334.8,555.1 334.8,554.6 335.4,554.6 335.4,555.2 336,555.2 336,555.2 336.3,555.2 336.3,559.3" fill="#5cb02e" fill-opacity="0.42"/>
<polygon points="315.6,559.3 315.6,557.3 316.4,557.3 316.4,556.8 317.2,556.8 317.2,556.2 318,556.2 318,555.6 318.8,555.6 318.8,556 319.6,556 319.6,555.7 320.4,555.7 320.4,555.7 321.2,555.7 321.2,555.8 322,555.8 322,556.3 322.8,556.3 322.8,556.3 323.6,556.3 323.6,555.7 324.4,555.7 324.4,555.9 325.2,555.9 325.2,555.7 326,555.7 326,555.5 326.8,555.5 326.8,556.1 327.6,556.1 327.6,556 328.4,556 328.4,555.7 329.2,555.7 329.2,556.2 330,556.2 330,555.9 330.8,555.9 330.8,556.3 331.6,556.3 331.6,555.6 332.4,555.6 332.4,556.1 333.2,556.1 333.2,556.2 334,556.2 334,555.9 334.8,555.9 334.8,555.7 335.6,555.7 335.6,556.8 336.3,556.8 336.3,559.3" fill="#5cb02e"/>
<line x1="324.2" y1="556.4" x2="324.2" y2="554.9" stroke="#6a945c" stroke-width="0.7" stroke-opacity="0.5"/>
<line x1="324.7" y1="556.4" x2="324.7" y2="555" stroke="#6a945c" stroke-width="0.7" stroke-opacity="0.5"/>
<line x1="325.4" y1="556.4" x2="325.4" y2="554.9" stroke="#6a945c" stroke-width="0.7" stroke-opacity="0.5"/>
<line x1="329.4" y1="556.4" x2="329.4" y2="552.5" stroke="#6a945c" stroke-width="0.7" stroke-opacity="0.5"/>
<line x1="323.2" y1="556.4" x2="323.2" y2="552.1" stroke="#6a945c" stroke-width="0.7" stroke-opacity="0.5"/>
<line x1="327.9" y1="556.4" x2="327.9" y2="554.1" stroke="#6a945c" stroke-width="0.7" stroke-opacity="0.5"/>
<line x1="327" y1="556.4" x2="327" y2="552.8" stroke="#6a945c" stroke-width="0.7" stroke-opacity="0.5"/>
<line x1="330.8" y1="556.4" x2="330.8" y2="552.4" stroke="#6a945c" stroke-width="0.7" stroke-opacity="0.5"/>
<line x1="334.5" y1="556.4" x2="334.5" y2="554.8" stroke="#6a945c" stroke-width="0.7" stroke-opacity="0.5"/>
<line x1="333.9" y1="556.4" x2="333.9" y2="552.4" stroke="#6a945c" stroke-width="0.7" stroke-opacity="0.5"/>
<line x1="323.2" y1="556.4" x2="323.2" y2="553.4" stroke="#6a945c" stroke-width="0.7" stroke-opacity="0.5"/>
<line x1="324.9" y1="556.4" x2="324.9" y2="554.4" stroke="#6a945c" stroke-width="0.7" stroke-opacity="0.5"/>
<polygon points="336.3,559.3 336.3,555.8 336.9,555.8 336.9,554.2 337.5,554.2 337.5,554.9 338.1,554.9 338.1,555.1 338.7,555.1 338.7,553.7 339.3,553.7 339.3,554.8 339.9,554.8 339.9,555.2 340.5,555.2 340.5,554.8 341.1,554.8 341.1,554.8 341.7,554.8 341.7,554.1 342.3,554.1 342.3,555 342.9,555 342.9,553.5 343.5,553.5 343.5,553.8 344.1,553.8 344.1,553.4 344.7,553.4 344.7,553.5 345.3,553.5 345.3,553.5 345.9,553.5 345.9,553.4 346.5,553.4 346.5,554.6 347.1,554.6 347.1,553.6 347.7,553.6 347.7,554.4 348.3,554.4 348.3,553.4 348.9,553.4 348.9,555.1 349.5,555.1 349.5,554 350.1,554 350.1,554.3 350.7,554.3 350.7,553.6 351.3,553.6 351.3,554.8 351.9,554.8 351.9,553.9 352.5,553.9 352.5,554.6 353.1,554.6 353.1,553.3 353.7,553.3 353.7,554.2 354.3,554.2 354.3,554.5 354.9,554.5 354.9,553.6 355.5,553.6 355.5,554.5 356.1,554.5 356.1,555 356.5,555 356.5,559.3" fill="#c0dd16" fill-opacity="0.42"/>
<polygon points="336.3,559.3 336.3,557.6 337.1,557.6 337.1,556.8 337.9,556.8 337.9,555.7 338.7,555.7 338.7,555.7 339.5,555.7 339.5,555.7 340.3,555.7 340.3,556.4 341.1,556.4 341.1,555.7 341.9,555.7 341.9,555.4 342.7,555.4 342.7,555.7 343.5,555.7 343.5,555.8 344.3,555.8 344.3,556.3 345.1,556.3 345.1,555.9 345.9,555.9 345.9,556 346.7,556 346.7,556.2 347.5,556.2 347.5,556.1 348.3,556.1 348.3,556.1 349.1,556.1 349.1,556.4 349.9,556.4 349.9,555.9 350.7,555.9 350.7,555.6 351.5,555.6 351.5,555.8 352.3,555.8 352.3,555.5 353.1,555.5 353.1,555.5 353.9,555.5 353.9,555.8 354.7,555.8 354.7,556.2 355.5,556.2 355.5,557.1 356.3,557.1 356.3,557.4 356.5,557.4 356.5,559.3" fill="#c0dd16"/>
<line x1="338.3" y1="556.4" x2="338.3" y2="553.4" stroke="#bac93c" stroke-width="0.7" stroke-opacity="0.5"/>
<line x1="353.3" y1="556.4" x2="353.3" y2="554.4" stroke="#bac93c" stroke-width="0.7" stroke-opacity="0.5"/>
<line x1="341.7" y1="556.4" x2="341.7" y2="554.7" stroke="#bac93c" stroke-width="0.7" stroke-opacity="0.5"/>
<line x1="355.7" y1="556.4" x2="355.7" y2="554.1" stroke="#bac93c" stroke-width="0.7" stroke-opacity="0.5"/>
<line x1="343.4" y1="556.4" x2="343.4" y2="553.7" stroke="#bac93c" stroke-width="0.7" stroke-opacity="0.5"/>
<line x1="349.9" y1="556.4" x2="349.9" y2="554.2" stroke="#bac93c" stroke-width="0.7" stroke-opacity="0.5"/>
<line x1="348.4" y1="556.4" x2="348.4" y2="554.9" stroke="#bac93c" stroke-width="0.7" stroke-opacity="0.5"/>
<line x1="340" y1="556.4" x2="340" y2="554.4" stroke="#bac93c" stroke-width="0.7" stroke-opacity="0.5"/>
<line x1="348.4" y1="556.4" x2="348.4" y2="554" stroke="#bac93c" stroke-width="0.7" stroke-opacity="0.5"/>
<line x1="342.6" y1="556.4" x2="342.6" y2="554.4" stroke="#bac93c" stroke-width="0.7" stroke-opacity="0.5"/>
<line x1="337.5" y1="556.4" x2="337.5" y2="553.2" stroke="#bac93c" stroke-width="0.7" stroke-opacity="0.5"/>
<line x1="353.4" y1="556.4" x2="353.4" y2="553.1" stroke="#bac93c" stroke-width="0.7" stroke-opacity="0.5"/>
<polygon points="359.8,559.3 359.8,555.2 360.4,555.2 360.4,555.6 361,555.6 361,555 361.6,555 361.6,554.4 362.2,554.4 362.2,554.9 362.8,554.9 362.8,555.1 363.4,555.1 363.4,553.6 364,553.6 364,554.2 364.6,554.2 364.6,553.6 365.2,553.6 365.2,553.8 365.8,553.8 365.8,554.4 366.4,554.4 366.4,554.9 367,554.9 367,554.7 367.6,554.7 367.6,554.2 368.2,554.2 368.2,554 368.8,554 368.8,554.6 369.4,554.6 369.4,554.5 370,554.5 370,554.7 370.6,554.7 370.6,554.6 371.2,554.6 371.2,554.5 371.8,554.5 371.8,554.3 372.4,554.3 372.4,555.1 373,555.1 373,553.7 373.6,553.7 373.6,554.1 374.2,554.1 374.2,555 374.8,555 374.8,559.3" fill="#5cb02e" fill-opacity="0.42"/>
<polygon points="359.8,559.3 359.8,557.5 360.6,557.5 360.6,556.8 361.4,556.8 361.4,555.9 362.2,555.9 362.2,555.5 363,555.5 363,555.5 363.8,555.5 363.8,555.5 364.6,555.5 364.6,555.4 365.4,555.4 365.4,556.1 366.2,556.1 366.2,556 367,556 367,555.6 367.8,555.6 367.8,556 368.6,556 368.6,556 369.4,556 369.4,556 370.2,556 370.2,555.6 371,555.6 371,556.1 371.8,556.1 371.8,556.4 372.6,556.4 372.6,555.5 373.4,555.5 373.4,556 374.2,556 374.2,556.6 374.8,556.6 374.8,559.3" fill="#5cb02e"/>
<line x1="363.9" y1="556.4" x2="363.9" y2="555" stroke="#6a945c" stroke-width="0.7" stroke-opacity="0.5"/>
<line x1="360.9" y1="556.4" x2="360.9" y2="554" stroke="#6a945c" stroke-width="0.7" stroke-opacity="0.5"/>
<line x1="364.9" y1="556.4" x2="364.9" y2="554.8" stroke="#6a945c" stroke-width="0.7" stroke-opacity="0.5"/>
<line x1="373.4" y1="556.4" x2="373.4" y2="552.1" stroke="#6a945c" stroke-width="0.7" stroke-opacity="0.5"/>
<line x1="363.5" y1="556.4" x2="363.5" y2="552.7" stroke="#6a945c" stroke-width="0.7" stroke-opacity="0.5"/>
<line x1="373.9" y1="556.4" x2="373.9" y2="553.5" stroke="#6a945c" stroke-width="0.7" stroke-opacity="0.5"/>
<line x1="363.4" y1="556.4" x2="363.4" y2="555" stroke="#6a945c" stroke-width="0.7" stroke-opacity="0.5"/>
<line x1="364.9" y1="556.4" x2="364.9" y2="555" stroke="#6a945c" stroke-width="0.7" stroke-opacity="0.5"/>
<line x1="373.1" y1="556.4" x2="373.1" y2="553.4" stroke="#6a945c" stroke-width="0.7" stroke-opacity="0.5"/>
<polygon points="377,559.3 377,555.4 377.6,555.4 377.6,554.4 378.2,554.4 378.2,554.9 378.8,554.9 378.8,554.9 379.4,554.9 379.4,553.8 380,553.8 380,554.8 380.6,554.8 380.6,554.4 381.2,554.4 381.2,553.5 381.8,553.5 381.8,553.3 382.4,553.3 382.4,554.5 383,554.5 383,554.5 383.6,554.5 383.6,554.3 384.2,554.3 384.2,554.6 384.8,554.6 384.8,555.2 385.4,555.2 385.4,555 386,555 386,554.4 386.6,554.4 386.6,554.3 387.2,554.3 387.2,553.4 387.8,553.4 387.8,555 388.4,555 388.4,554.9 389,554.9 389,555.2 389.6,555.2 389.6,554.7 390.2,554.7 390.2,555 390.8,555 390.8,554.5 391.4,554.5 391.4,555.5 392,555.5 392,559.3" fill="#c0dd16" fill-opacity="0.42"/>
<polygon points="377,559.3 377,557.3 377.8,557.3 377.8,557.1 378.6,557.1 378.6,555.9 379.4,555.9 379.4,556 380.2,556 380.2,555.7 381,555.7 381,556.2 381.8,556.2 381.8,556.4 382.6,556.4 382.6,555.6 383.4,555.6 383.4,556.2 384.2,556.2 384.2,555.7 385,555.7 385,555.7 385.8,555.7 385.8,555.8 386.6,555.8 386.6,555.8 387.4,555.8 387.4,556.1 388.2,556.1 388.2,555.5 389,555.5 389,556.2 389.8,556.2 389.8,555.5 390.6,555.5 390.6,556.3 391.4,556.3 391.4,556.9 392,556.9 392,559.3" fill="#c0dd16"/>
<line x1="384.3" y1="556.4" x2="384.3" y2="554.6" stroke="#bac93c" stroke-width="0.7" stroke-opacity="0.5"/>
<line x1="380.3" y1="556.4" x2="380.3" y2="553.9" stroke="#bac93c" stroke-width="0.7" stroke-opacity="0.5"/>
<line x1="391.4" y1="556.4" x2="391.4" y2="554.1" stroke="#bac93c" stroke-width="0.7" stroke-opacity="0.5"/>
<line x1="388.3" y1="556.4" x2="388.3" y2="552.4" stroke="#bac93c" stroke-width="0.7" stroke-opacity="0.5"/>
<line x1="381.4" y1="556.4" x2="381.4" y2="553.8" stroke="#bac93c" stroke-width="0.7" stroke-opacity="0.5"/>
<line x1="379.2" y1="556.4" x2="379.2" y2="552.4" stroke="#bac93c" stroke-width="0.7" stroke-opacity="0.5"/>
<line x1="388.1" y1="556.4" x2="388.1" y2="554.8" stroke="#bac93c" stroke-width="0.7" stroke-opacity="0.5"/>
<line x1="390.3" y1="556.4" x2="390.3" y2="553.1" stroke="#bac93c" stroke-width="0.7" stroke-opacity="0.5"/>
<line x1="385.7" y1="556.4" x2="385.7" y2="553.6" stroke="#bac93c" stroke-width="0.7" stroke-opacity="0.5"/>
<polygon points="394,559.3 394,555.6 394.6,555.6 394.6,554.6 395.2,554.6 395.2,554.8 395.8,554.8 395.8,554.5 396.4,554.5 396.4,554.5 397,554.5 397,555 397.6,555 397.6,553.5 398.2,553.5 398.2,554.7 398.8,554.7 398.8,554.9 399.4,554.9 399.4,554.4 400,554.4 400,554.7 400.6,554.7 400.6,553.6 401.2,553.6 401.2,554.9 401.8,554.9 401.8,553.7 402.4,553.7 402.4,554 403,554 403,555.1 403.6,555.1 403.6,554.6 404.2,554.6 404.2,554.1 404.8,554.1 404.8,555.1 405.3,555.1 405.3,559.3" fill="#5cb02e" fill-opacity="0.42"/>
<polygon points="394,559.3 394,557.8 394.8,557.8 394.8,556.7 395.6,556.7 395.6,555.4 396.4,555.4 396.4,555.4 397.2,555.4 397.2,556.1 398,556.1 398,556.2 398.8,556.2 398.8,555.7 399.6,555.7 399.6,555.9 400.4,555.9 400.4,555.5 401.2,555.5 401.2,555.5 402,555.5 402,555.6 402.8,555.6 402.8,556.4 403.6,556.4 403.6,556.1 404.4,556.1 404.4,556.3 405.2,556.3 405.2,557.2 405.3,557.2 405.3,559.3" fill="#5cb02e"/>
<line x1="395.5" y1="556.4" x2="395.5" y2="555" stroke="#6a945c" stroke-width="0.7" stroke-opacity="0.5"/>
<line x1="404.4" y1="556.4" x2="404.4" y2="554.9" stroke="#6a945c" stroke-width="0.7" stroke-opacity="0.5"/>
<line x1="401.9" y1="556.4" x2="401.9" y2="552.6" stroke="#6a945c" stroke-width="0.7" stroke-opacity="0.5"/>
<line x1="401.7" y1="556.4" x2="401.7" y2="554.3" stroke="#6a945c" stroke-width="0.7" stroke-opacity="0.5"/>
<line x1="399.4" y1="556.4" x2="399.4" y2="554.8" stroke="#6a945c" stroke-width="0.7" stroke-opacity="0.5"/>
<line x1="394.9" y1="556.4" x2="394.9" y2="555" stroke="#6a945c" stroke-width="0.7" stroke-opacity="0.5"/>
<line x1="395.5" y1="556.4" x2="395.5" y2="552.2" stroke="#6a945c" stroke-width="0.7" stroke-opacity="0.5"/>
<polygon points="405.3,559.3 405.3,556.4 405.9,556.4 405.9,554.4 406.5,554.4 406.5,555 407.1,555 407.1,553.9 407.7,553.9 407.7,553.9 408.3,553.9 408.3,554.8 408.9,554.8 408.9,555.1 409.5,555.1 409.5,554.8 410.1,554.8 410.1,553.8 410.7,553.8 410.7,554.3 411.3,554.3 411.3,554.8 411.9,554.8 411.9,554.5 412.5,554.5 412.5,554.8 413.1,554.8 413.1,554.8 413.7,554.8 413.7,556.7 414.3,556.7 414.3,555.6 414.9,555.6 414.9,556 415.5,556 415.5,553.5 416.1,553.5 416.1,554.2 416.7,554.2 416.7,554.6 417.3,554.6 417.3,553.5 417.9,553.5 417.9,554.9 418.5,554.9 418.5,555.1 419.1,555.1 419.1,553.7 419.7,553.7 419.7,554.2 420.3,554.2 420.3,556 420.5,556 420.5,559.3" fill="#c0dd16" fill-opacity="0.42"/>
<polygon points="405.3,559.3 405.3,558 406.1,558 406.1,556.7 406.9,556.7 406.9,556.1 407.7,556.1 407.7,555.9 408.5,555.9 408.5,556.2 409.3,556.2 409.3,555.5 410.1,555.5 410.1,556.2 410.9,556.2 410.9,555.9 411.7,555.9 411.7,555.6 412.5,555.6 412.5,556.3 413.3,556.3 413.3,558.4 414.1,558.4 414.1,559.3 414.9,559.3 414.9,557.5 415.7,557.5 415.7,555.8 416.5,555.8 416.5,555.8 417.3,555.8 417.3,555.7 418.1,555.7 418.1,555.9 418.9,555.9 418.9,555.8 419.7,555.8 419.7,556.7 420.5,556.7 420.5,559.3" fill="#c0dd16"/>
<line x1="418.3" y1="556.4" x2="418.3" y2="552.5" stroke="#bac93c" stroke-width="0.7" stroke-opacity="0.5"/>
<line x1="406.6" y1="556.4" x2="406.6" y2="552.4" stroke="#bac93c" stroke-width="0.7" stroke-opacity="0.5"/>
<line x1="410.9" y1="556.4" x2="410.9" y2="554.9" stroke="#bac93c" stroke-width="0.7" stroke-opacity="0.5"/>
<line x1="406.6" y1="556.4" x2="406.6" y2="554.6" stroke="#bac93c" stroke-width="0.7" stroke-opacity="0.5"/>
<line x1="411.9" y1="556.4" x2="411.9" y2="554.2" stroke="#bac93c" stroke-width="0.7" stroke-opacity="0.5"/>
<line x1="414.2" y1="556.4" x2="414.2" y2="552.6" stroke="#bac93c" stroke-width="0.7" stroke-opacity="0.5"/>
<line x1="418.2" y1="556.4" x2="418.2" y2="554.8" stroke="#bac93c" stroke-width="0.7" stroke-opacity="0.5"/>
<line x1="406.5" y1="556.4" x2="406.5" y2="553.2" stroke="#bac93c" stroke-width="0.7" stroke-opacity="0.5"/>
<line x1="416.1" y1="556.4" x2="416.1" y2="553.1" stroke="#bac93c" stroke-width="0.7" stroke-opacity="0.5"/>
<polygon points="420.5,559.3 420.5,556.1 421.1,556.1 421.1,555.4 421.7,555.4 421.7,553.9 422.3,553.9 422.3,554.4 422.9,554.4 422.9,554.5 423.5,554.5 423.5,554.1 424.1,554.1 424.1,553.7 424.7,553.7 424.7,554.6 425.3,554.6 425.3,554.3 425.9,554.3 425.9,553.6 426.5,553.6 426.5,553.9 427.1,553.9 427.1,555 427.7,555 427.7,554 428.3,554 428.3,554.3 428.9,554.3 428.9,554.4 429.5,554.4 429.5,554.1 430.1,554.1 430.1,555 430.7,555 430.7,553.9 431.3,553.9 431.3,555.2 431.9,555.2 431.9,554.7 432.5,554.7 432.5,554.3 433.1,554.3 433.1,555.4 433.7,555.4 433.7,555.3 434.2,555.3 434.2,559.3" fill="#5cb02e" fill-opacity="0.42"/>
<polygon points="420.5,559.3 420.5,558.2 421.3,558.2 421.3,556.8 422.1,556.8 422.1,555.4 422.9,555.4 422.9,556.4 423.7,556.4 423.7,555.4 424.5,555.4 424.5,555.7 425.3,555.7 425.3,555.7 426.1,555.7 426.1,556.3 426.9,556.3 426.9,556.2 427.7,556.2 427.7,555.8 428.5,555.8 428.5,555.6 429.3,555.6 429.3,556.3 430.1,556.3 430.1,556.4 430.9,556.4 430.9,555.5 431.7,555.5 431.7,555.6 432.5,555.6 432.5,555.6 433.3,555.6 433.3,557.2 434.1,557.2 434.1,558 434.2,558 434.2,559.3" fill="#5cb02e"/>
<line x1="428.6" y1="556.4" x2="428.6" y2="552.5" stroke="#6a945c" stroke-width="0.7" stroke-opacity="0.5"/>
<line x1="423.8" y1="556.4" x2="423.8" y2="553" stroke="#6a945c" stroke-width="0.7" stroke-opacity="0.5"/>
<line x1="430.2" y1="556.4" x2="430.2" y2="553.6" stroke="#6a945c" stroke-width="0.7" stroke-opacity="0.5"/>
<line x1="428.5" y1="556.4" x2="428.5" y2="554.1" stroke="#6a945c" stroke-width="0.7" stroke-opacity="0.5"/>
<line x1="428" y1="556.4" x2="428" y2="553.6" stroke="#6a945c" stroke-width="0.7" stroke-opacity="0.5"/>
<line x1="425" y1="556.4" x2="425" y2="553.5" stroke="#6a945c" stroke-width="0.7" stroke-opacity="0.5"/>
<line x1="432.2" y1="556.4" x2="432.2" y2="554.8" stroke="#6a945c" stroke-width="0.7" stroke-opacity="0.5"/>
<line x1="423" y1="556.4" x2="423" y2="552.5" stroke="#6a945c" stroke-width="0.7" stroke-opacity="0.5"/>
<polygon points="434.2,559.3 434.2,555.1 434.8,555.1 434.8,555.7 435.4,555.7 435.4,555.2 436,555.2 436,553.5 436.6,553.5 436.6,554.8 437.2,554.8 437.2,555.1 437.8,555.1 437.8,554.9 438.4,554.9 438.4,554.9 439,554.9 439,553.3 439.6,553.3 439.6,553.4 440.2,553.4 440.2,554.4 440.8,554.4 440.8,554.1 441.4,554.1 441.4,553.3 442,553.3 442,555 442.6,555 442.6,554.6 443.2,554.6 443.2,554.5 443.8,554.5 443.8,553.5 444.4,553.5 444.4,553.6 445,553.6 445,553.5 445.6,553.5 445.6,553.6 446.2,553.6 446.2,555.6 446.8,555.6 446.8,555.5 447.2,555.5 447.2,559.3" fill="#c0dd16" fill-opacity="0.42"/>
<polygon points="434.2,559.3 434.2,557.9 435,557.9 435,557.3 435.8,557.3 435.8,555.4 436.6,555.4 436.6,556.1 437.4,556.1 437.4,556.2 438.2,556.2 438.2,555.9 439,555.9 439,556.4 439.8,556.4 439.8,555.9 440.6,555.9 440.6,555.9 441.4,555.9 441.4,555.5 442.2,555.5 442.2,556 443,556 443,556.4 443.8,556.4 443.8,555.9 444.6,555.9 444.6,555.5 445.4,555.5 445.4,555.7 446.2,555.7 446.2,556.4 447,556.4 447,557.6 447.2,557.6 447.2,559.3" fill="#c0dd16"/>
<line x1="438.5" y1="556.4" x2="438.5" y2="554.2" stroke="#bac93c" stroke-width="0.7" stroke-opacity="0.5"/>
<line x1="441.9" y1="556.4" x2="441.9" y2="553.6" stroke="#bac93c" stroke-width="0.7" stroke-opacity="0.5"/>
<line x1="438.3" y1="556.4" x2="438.3" y2="553.1" stroke="#bac93c" stroke-width="0.7" stroke-opacity="0.5"/>
<line x1="440.4" y1="556.4" x2="440.4" y2="552.5" stroke="#bac93c" stroke-width="0.7" stroke-opacity="0.5"/>
<line x1="445.3" y1="556.4" x2="445.3" y2="554" stroke="#bac93c" stroke-width="0.7" stroke-opacity="0.5"/>
<line x1="438.4" y1="556.4" x2="438.4" y2="553.7" stroke="#bac93c" stroke-width="0.7" stroke-opacity="0.5"/>
<line x1="439.2" y1="556.4" x2="439.2" y2="553.6" stroke="#bac93c" stroke-width="0.7" stroke-opacity="0.5"/>
<line x1="439" y1="556.4" x2="439" y2="554.7" stroke="#bac93c" stroke-width="0.7" stroke-opacity="0.5"/>
<polygon points="447.2,559.3 447.2,556.5 447.8,556.5 447.8,555.7 448.4,555.7 448.4,555.4 449,555.4 449,554.5 449.6,554.5 449.6,553.8 450.2,553.8 450.2,554.9 450.8,554.9 450.8,553.4 451.4,553.4 451.4,554.3 452,554.3 452,553.7 452.6,553.7 452.6,553.3 453.2,553.3 453.2,553.7 453.8,553.7 453.8,554 454.4,554 454.4,554.9 455,554.9 455,554.5 455.6,554.5 455.6,554.9 456.2,554.9 456.2,555.2 456.3,555.2 456.3,559.3" fill="#5cb02e" fill-opacity="0.42"/>
<polygon points="447.2,559.3 447.2,557.3 448,557.3 448,557 448.8,557 448.8,556 449.6,556 449.6,555.5 450.4,555.5 450.4,555.7 451.2,555.7 451.2,556.3 452,556.3 452,556.1 452.8,556.1 452.8,555.8 453.6,555.8 453.6,555.4 454.4,555.4 454.4,555.8 455.2,555.8 455.2,556.5 456,556.5 456,557 456.3,557 456.3,559.3" fill="#5cb02e"/>
<line x1="454.7" y1="556.4" x2="454.7" y2="552.3" stroke="#6a945c" stroke-width="0.7" stroke-opacity="0.5"/>
<line x1="452.4" y1="556.4" x2="452.4" y2="553.4" stroke="#6a945c" stroke-width="0.7" stroke-opacity="0.5"/>
<line x1="452.3" y1="556.4" x2="452.3" y2="554.4" stroke="#6a945c" stroke-width="0.7" stroke-opacity="0.5"/>
<line x1="451.3" y1="556.4" x2="451.3" y2="554.9" stroke="#6a945c" stroke-width="0.7" stroke-opacity="0.5"/>
<line x1="454.1" y1="556.4" x2="454.1" y2="553" stroke="#6a945c" stroke-width="0.7" stroke-opacity="0.5"/>
<polygon points="456.3,559.3 456.3,556.1 456.9,556.1 456.9,556.1 457.5,556.1 457.5,554.4 458.1,554.4 458.1,554.7 458.7,554.7 458.7,554.9 459.3,554.9 459.3,555.1 459.9,555.1 459.9,554.6 460.5,554.6 460.5,555.1 461.1,555.1 461.1,554.5 461.7,554.5 461.7,553.6 462.3,553.6 462.3,553.7 462.9,553.7 462.9,553.6 463.5,553.6 463.5,553.7 464.1,553.7 464.1,554.4 464.7,554.4 464.7,554.4 465.3,554.4 465.3,553.5 465.9,553.5 465.9,554.5 466.5,554.5 466.5,554.7 467.1,554.7 467.1,556.3 467.4,556.3 467.4,559.3" fill="#c0dd16" fill-opacity="0.42"/>
<polygon points="456.3,559.3 456.3,557.7 457.1,557.7 457.1,557.3 457.9,557.3 457.9,555.7 458.7,555.7 458.7,555.8 459.5,555.8 459.5,555.9 460.3,555.9 460.3,555.8 461.1,555.8 461.1,556 461.9,556 461.9,556 462.7,556 462.7,556.3 463.5,556.3 463.5,555.8 464.3,555.8 464.3,555.5 465.1,555.5 465.1,556 465.9,556 465.9,555.8 466.7,555.8 466.7,556.9 467.4,556.9 467.4,559.3" fill="#c0dd16"/>
<line x1="462" y1="556.4" x2="462" y2="552.6" stroke="#bac93c" stroke-width="0.7" stroke-opacity="0.5"/>
<line x1="460.9" y1="556.4" x2="460.9" y2="554.5" stroke="#bac93c" stroke-width="0.7" stroke-opacity="0.5"/>
<line x1="466.5" y1="556.4" x2="466.5" y2="554.4" stroke="#bac93c" stroke-width="0.7" stroke-opacity="0.5"/>
<line x1="460.8" y1="556.4" x2="460.8" y2="554.3" stroke="#bac93c" stroke-width="0.7" stroke-opacity="0.5"/>
<line x1="460.8" y1="556.4" x2="460.8" y2="554.5" stroke="#bac93c" stroke-width="0.7" stroke-opacity="0.5"/>
<line x1="463.1" y1="556.4" x2="463.1" y2="552.5" stroke="#bac93c" stroke-width="0.7" stroke-opacity="0.5"/>
<polygon points="468.6,559.3 468.6,555 469.2,555 469.2,554.2 469.8,554.2 469.8,553.7 470.4,553.7 470.4,553.8 471,553.8 471,554.7 471.6,554.7 471.6,553.9 472.2,553.9 472.2,554.2 472.8,554.2 472.8,554.2 473.4,554.2 473.4,554.9 474,554.9 474,554.8 474.6,554.8 474.6,555.5 475.1,555.5 475.1,559.3" fill="#5cb02e" fill-opacity="0.42"/>
<polygon points="468.6,559.3 468.6,557.9 469.4,557.9 469.4,556.6 470.2,556.6 470.2,556 471,556 471,556.1 471.8,556.1 471.8,556 472.6,556 472.6,555.7 473.4,555.7 473.4,556.4 474.2,556.4 474.2,557 475,557 475,557.4 475.1,557.4 475.1,559.3" fill="#5cb02e"/>
<line x1="470" y1="556.4" x2="470" y2="554.3" stroke="#6a945c" stroke-width="0.7" stroke-opacity="0.5"/>
<line x1="472" y1="556.4" x2="472" y2="553.9" stroke="#6a945c" stroke-width="0.7" stroke-opacity="0.5"/>
<line x1="472.9" y1="556.4" x2="472.9" y2="554" stroke="#6a945c" stroke-width="0.7" stroke-opacity="0.5"/>
<line x1="471.7" y1="556.4" x2="471.7" y2="554.5" stroke="#6a945c" stroke-width="0.7" stroke-opacity="0.5"/>
<polygon points="477,559.3 477,556.1 477.6,556.1 477.6,556.1 478.2,556.1 478.2,555.4 478.8,555.4 478.8,554.9 479.4,554.9 479.4,555.2 480,555.2 480,553.5 480.6,553.5 480.6,553.8 481.2,553.8 481.2,554 481.8,554 481.8,554.3 482.4,554.3 482.4,555.2 483,555.2 483,555.2 483.6,555.2 483.6,554.7 484.2,554.7 484.2,555.1 484.3,555.1 484.3,559.3" fill="#c0dd16" fill-opacity="0.42"/>
<polygon points="477,559.3 477,557.8 477.8,557.8 477.8,556.5 478.6,556.5 478.6,556.3 479.4,556.3 479.4,555.9 480.2,555.9 480.2,556.2 481,556.2 481,555.7 481.8,555.7 481.8,555.8 482.6,555.8 482.6,556 483.4,556 483.4,557.1 484.2,557.1 484.2,558.1 484.3,558.1 484.3,559.3" fill="#c0dd16"/>
<line x1="479.9" y1="556.4" x2="479.9" y2="554.4" stroke="#bac93c" stroke-width="0.7" stroke-opacity="0.5"/>
<line x1="478.8" y1="556.4" x2="478.8" y2="554.6" stroke="#bac93c" stroke-width="0.7" stroke-opacity="0.5"/>
<line x1="483.1" y1="556.4" x2="483.1" y2="553.1" stroke="#bac93c" stroke-width="0.7" stroke-opacity="0.5"/>
<line x1="483.5" y1="556.4" x2="483.5" y2="553.1" stroke="#bac93c" stroke-width="0.7" stroke-opacity="0.5"/>
<polygon points="484.9,559.3 484.9,556.6 485.5,556.6 485.5,555.8 486.1,555.8 486.1,555.1 486.7,555.1 486.7,554.5 487.3,554.5 487.3,553.7 487.9,553.7 487.9,554.4 488.5,554.4 488.5,553.3 489.1,553.3 489.1,553.9 489.7,553.9 489.7,553.8 490.3,553.8 490.3,553.7 490.9,553.7 490.9,554.9 491.5,554.9 491.5,553.6 492.1,553.6 492.1,553.4 492.7,553.4 492.7,554.4 493.3,554.4 493.3,553.7 493.9,553.7 493.9,553.3 494.5,553.3 494.5,553.4 495.1,553.4 495.1,554.2 495.7,554.2 495.7,554.3 496.3,554.3 496.3,553.8 496.9,553.8 496.9,555 497.5,555 497.5,554.8 498.1,554.8 498.1,554.8 498.7,554.8 498.7,554.4 499.3,554.4 499.3,555.2 499.9,555.2 499.9,553.6 500.5,553.6 500.5,553.5 501.1,553.5 501.1,555.2 501.7,555.2 501.7,554.6 502.3,554.6 502.3,554.7 502.9,554.7 502.9,554 503.5,554 503.5,554.5 504.1,554.5 504.1,554.6 504.7,554.6 504.7,554.5 505.3,554.5 505.3,553.7 505.9,553.7 505.9,555.2 506.5,555.2 506.5,555.1 507.1,555.1 507.1,555.9 507.5,555.9 507.5,559.3" fill="#5cb02e" fill-opacity="0.42"/>
<polygon points="484.9,559.3 484.9,557.6 485.7,557.6 485.7,556.4 486.5,556.4 486.5,556 487.3,556 487.3,556 488.1,556 488.1,555.6 488.9,555.6 488.9,555.7 489.7,555.7 489.7,555.6 490.5,555.6 490.5,556.1 491.3,556.1 491.3,556.3 492.1,556.3 492.1,555.8 492.9,555.8 492.9,556.2 493.7,556.2 493.7,555.5 494.5,555.5 494.5,555.4 495.3,555.4 495.3,556.2 496.1,556.2 496.1,555.9 496.9,555.9 496.9,556.4 497.7,556.4 497.7,555.5 498.5,555.5 498.5,555.7 499.3,555.7 499.3,555.9 500.1,555.9 500.1,555.7 500.9,555.7 500.9,555.8 501.7,555.8 501.7,555.9 502.5,555.9 502.5,555.6 503.3,555.6 503.3,555.6 504.1,555.6 504.1,555.9 504.9,555.9 504.9,556.2 505.7,556.2 505.7,556.3 506.5,556.3 506.5,556.7 507.3,556.7 507.3,557.4 507.5,557.4 507.5,559.3" fill="#5cb02e"/>
<line x1="493.1" y1="556.4" x2="493.1" y2="554.5" stroke="#6a945c" stroke-width="0.7" stroke-opacity="0.5"/>
<line x1="501" y1="556.4" x2="501" y2="554.4" stroke="#6a945c" stroke-width="0.7" stroke-opacity="0.5"/>
<line x1="491.4" y1="556.4" x2="491.4" y2="552.1" stroke="#6a945c" stroke-width="0.7" stroke-opacity="0.5"/>
<line x1="487.1" y1="556.4" x2="487.1" y2="554.6" stroke="#6a945c" stroke-width="0.7" stroke-opacity="0.5"/>
<line x1="498.9" y1="556.4" x2="498.9" y2="554.6" stroke="#6a945c" stroke-width="0.7" stroke-opacity="0.5"/>
<line x1="505.3" y1="556.4" x2="505.3" y2="554.6" stroke="#6a945c" stroke-width="0.7" stroke-opacity="0.5"/>
<line x1="490.3" y1="556.4" x2="490.3" y2="554.2" stroke="#6a945c" stroke-width="0.7" stroke-opacity="0.5"/>
<line x1="494.8" y1="556.4" x2="494.8" y2="554.9" stroke="#6a945c" stroke-width="0.7" stroke-opacity="0.5"/>
<line x1="497.5" y1="556.4" x2="497.5" y2="554.6" stroke="#6a945c" stroke-width="0.7" stroke-opacity="0.5"/>
<line x1="500.3" y1="556.4" x2="500.3" y2="552.1" stroke="#6a945c" stroke-width="0.7" stroke-opacity="0.5"/>
<line x1="488.9" y1="556.4" x2="488.9" y2="554.4" stroke="#6a945c" stroke-width="0.7" stroke-opacity="0.5"/>
<line x1="503.4" y1="556.4" x2="503.4" y2="554.6" stroke="#6a945c" stroke-width="0.7" stroke-opacity="0.5"/>
<line x1="496" y1="556.4" x2="496" y2="554.6" stroke="#6a945c" stroke-width="0.7" stroke-opacity="0.5"/>
<line x1="493.5" y1="556.4" x2="493.5" y2="552" stroke="#6a945c" stroke-width="0.7" stroke-opacity="0.5"/>
<circle cx="67.6" cy="439.9" r="0.8" fill="#7a8a80"/>
<circle cx="67.6" cy="449.9" r="0.8" fill="#7a8a80"/>
<circle cx="67.6" cy="457.5" r="0.8" fill="#7a8a80"/>
<circle cx="67.6" cy="459.8" r="0.8" fill="#7a8a80"/>
<circle cx="67.6" cy="483.4" r="0.8" fill="#7a8a80"/>
<circle cx="67.6" cy="486.1" r="0.8" fill="#7a8a80"/>
<circle cx="67.6" cy="490.7" r="0.8" fill="#7a8a80"/>
<circle cx="67.6" cy="516.2" r="0.8" fill="#7a8a80"/>
<circle cx="67.6" cy="518.4" r="0.8" fill="#7a8a80"/>
<circle cx="67.6" cy="520.4" r="0.8" fill="#7a8a80"/>
<circle cx="67.6" cy="524" r="0.8" fill="#7a8a80"/>
<line x1="67.6" y1="464" x2="67.6" y2="480.9" stroke="#5cb02e" stroke-width="2.4" stroke-opacity="0.4"/>
<line x1="67.6" y1="494.1" x2="67.6" y2="513" stroke="#5cb02e" stroke-width="2.4" stroke-opacity="0.4"/>
<line x1="67.6" y1="535.5" x2="67.6" y2="540" stroke="#5cb02e" stroke-width="2.4" stroke-opacity="0.4"/>
<line x1="67.6" y1="539.8" x2="67.6" y2="543.5" stroke="#5cb02e" stroke-width="2.4" stroke-opacity="0.4"/>
<line x1="67.6" y1="543.3" x2="67.6" y2="556.5" stroke="#5cb02e" stroke-width="2.4" stroke-opacity="0.4"/>
<line x1="67.6" y1="464.5" x2="67.6" y2="480.4" stroke="#6a945c" stroke-width="1"/>
<line x1="67.6" y1="494.6" x2="67.6" y2="512.5" stroke="#6a945c" stroke-width="1"/>
<line x1="67.6" y1="536" x2="67.6" y2="539.5" stroke="#6a945c" stroke-width="1"/>
<line x1="67.6" y1="540.3" x2="67.6" y2="543" stroke="#6a945c" stroke-width="1"/>
<line x1="67.6" y1="543.8" x2="67.6" y2="556" stroke="#6a945c" stroke-width="1"/>
<line x1="73.7" y1="544.8" x2="73.7" y2="556.4" stroke="#5cb02e" stroke-width="2.4" stroke-opacity="0.3"/>
<line x1="73.7" y1="544.8" x2="73.7" y2="549.6" stroke="#6a945c" stroke-width="1"/>
<line x1="73.7" y1="550.9" x2="73.7" y2="553.5" stroke="#6a945c" stroke-width="1"/>
<line x1="73.7" y1="553.5" x2="73.7" y2="556.4" stroke="#6a945c" stroke-width="1"/>
<line x1="80.4" y1="549.7" x2="80.4" y2="556.4" stroke="#5cb02e" stroke-width="2.4" stroke-opacity="0.3"/>
<line x1="80.4" y1="549.7" x2="80.4" y2="552.4" stroke="#6a945c" stroke-width="1"/>
<line x1="80.4" y1="553.1" x2="80.4" y2="556.4" stroke="#6a945c" stroke-width="1"/>
<line x1="115" y1="550.5" x2="115" y2="556.4" stroke="#c0dd16" stroke-width="2.4" stroke-opacity="0.3"/>
<line x1="115" y1="550.5" x2="115" y2="553.5" stroke="#bac93c" stroke-width="1"/>
<line x1="115" y1="554.7" x2="115" y2="556.4" stroke="#bac93c" stroke-width="1"/>
<line x1="126" y1="539" x2="126" y2="556.4" stroke="#5cb02e" stroke-width="2.4" stroke-opacity="0.3"/>
<line x1="126" y1="539" x2="126" y2="547.9" stroke="#6a945c" stroke-width="1"/>
<line x1="126" y1="548.7" x2="126" y2="554.8" stroke="#6a945c" stroke-width="1"/>
<line x1="126" y1="554.8" x2="126" y2="556.4" stroke="#6a945c" stroke-width="1"/>
<line x1="163.5" y1="485" x2="163.5" y2="556.4" stroke="#c0dd16" stroke-width="2.4" stroke-opacity="0.3"/>
<line x1="163.5" y1="485" x2="163.5" y2="488" stroke="#bac93c" stroke-width="1"/>
<line x1="163.5" y1="488.9" x2="163.5" y2="496.8" stroke="#bac93c" stroke-width="1"/>
<line x1="163.5" y1="496.8" x2="163.5" y2="503.3" stroke="#bac93c" stroke-width="1"/>
<line x1="163.5" y1="503.3" x2="163.5" y2="507.3" stroke="#bac93c" stroke-width="1"/>
<line x1="163.5" y1="508.7" x2="163.5" y2="514.7" stroke="#bac93c" stroke-width="1"/>
<line x1="163.5" y1="514.7" x2="163.5" y2="517.6" stroke="#bac93c" stroke-width="1"/>
<line x1="163.5" y1="517.6" x2="163.5" y2="519.8" stroke="#bac93c" stroke-width="1"/>
<line x1="163.5" y1="519.8" x2="163.5" y2="524.4" stroke="#bac93c" stroke-width="1"/>
<line x1="163.5" y1="524.4" x2="163.5" y2="532.5" stroke="#bac93c" stroke-width="1"/>
<line x1="163.5" y1="532.5" x2="163.5" y2="539.7" stroke="#bac93c" stroke-width="1"/>
<line x1="163.5" y1="539.7" x2="163.5" y2="544.6" stroke="#bac93c" stroke-width="1"/>
<line x1="163.5" y1="546.2" x2="163.5" y2="548.6" stroke="#bac93c" stroke-width="1"/>
<line x1="163.5" y1="548.6" x2="163.5" y2="551.4" stroke="#bac93c" stroke-width="1"/>
<line x1="163.5" y1="551.4" x2="163.5" y2="556.4" stroke="#bac93c" stroke-width="1"/>
<line x1="184.8" y1="538.9" x2="184.8" y2="556.4" stroke="#5cb02e" stroke-width="2.4" stroke-opacity="0.3"/>
<line x1="184.8" y1="538.9" x2="184.8" y2="544.6" stroke="#6a945c" stroke-width="1"/>
<line x1="184.8" y1="545.7" x2="184.8" y2="553.2" stroke="#6a945c" stroke-width="1"/>
<line x1="184.8" y1="554.3" x2="184.8" y2="556.4" stroke="#6a945c" stroke-width="1"/>
<line x1="187.1" y1="545.9" x2="187.1" y2="556.4" stroke="#5cb02e" stroke-width="2.4" stroke-opacity="0.3"/>
<line x1="187.1" y1="545.9" x2="187.1" y2="548.5" stroke="#6a945c" stroke-width="1"/>
<line x1="187.1" y1="548.5" x2="187.1" y2="556.4" stroke="#6a945c" stroke-width="1"/>
<line x1="196.2" y1="549.4" x2="196.2" y2="556.4" stroke="#5cb02e" stroke-width="2.4" stroke-opacity="0.3"/>
<line x1="196.2" y1="549.4" x2="196.2" y2="555.4" stroke="#6a945c" stroke-width="1"/>
<line x1="196.2" y1="555.4" x2="196.2" y2="556.4" stroke="#6a945c" stroke-width="1"/>
<line x1="207.7" y1="534" x2="207.7" y2="556.4" stroke="#c0dd16" stroke-width="2.4" stroke-opacity="0.3"/>
<line x1="207.7" y1="534" x2="207.7" y2="539.7" stroke="#bac93c" stroke-width="1"/>
<line x1="207.7" y1="540.5" x2="207.7" y2="545.2" stroke="#bac93c" stroke-width="1"/>
<line x1="207.7" y1="546.3" x2="207.7" y2="550.9" stroke="#bac93c" stroke-width="1"/>
<line x1="207.7" y1="552.3" x2="207.7" y2="554.4" stroke="#bac93c" stroke-width="1"/>
<line x1="207.7" y1="554.4" x2="207.7" y2="556.4" stroke="#bac93c" stroke-width="1"/>
<line x1="222.7" y1="538.9" x2="222.7" y2="556.4" stroke="#c0dd16" stroke-width="2.4" stroke-opacity="0.3"/>
<line x1="222.7" y1="538.9" x2="222.7" y2="545.3" stroke="#bac93c" stroke-width="1"/>
<line x1="222.7" y1="546.2" x2="222.7" y2="553.8" stroke="#bac93c" stroke-width="1"/>
<line x1="222.7" y1="553.8" x2="222.7" y2="556.4" stroke="#bac93c" stroke-width="1"/>
<line x1="240.6" y1="549" x2="240.6" y2="556.4" stroke="#5cb02e" stroke-width="2.4" stroke-opacity="0.3"/>
<line x1="240.6" y1="549" x2="240.6" y2="556.3" stroke="#6a945c" stroke-width="1"/>
<line x1="240.6" y1="556.3" x2="240.6" y2="556.4" stroke="#6a945c" stroke-width="1"/>
<line x1="243.8" y1="540.4" x2="243.8" y2="556.4" stroke="#5cb02e" stroke-width="2.4" stroke-opacity="0.3"/>
<line x1="243.8" y1="540.4" x2="243.8" y2="547.9" stroke="#6a945c" stroke-width="1"/>
<line x1="243.8" y1="549" x2="243.8" y2="551.9" stroke="#6a945c" stroke-width="1"/>
<line x1="243.8" y1="553.5" x2="243.8" y2="556.4" stroke="#6a945c" stroke-width="1"/>
<line x1="267.9" y1="551.9" x2="267.9" y2="556.4" stroke="#c0dd16" stroke-width="2.4" stroke-opacity="0.3"/>
<line x1="267.9" y1="551.9" x2="267.9" y2="556.4" stroke="#bac93c" stroke-width="1"/>
<line x1="275.8" y1="543.3" x2="275.8" y2="556.4" stroke="#5cb02e" stroke-width="2.4" stroke-opacity="0.3"/>
<line x1="275.8" y1="543.3" x2="275.8" y2="550.8" stroke="#6a945c" stroke-width="1"/>
<line x1="275.8" y1="551.5" x2="275.8" y2="555.7" stroke="#6a945c" stroke-width="1"/>
<line x1="275.8" y1="555.7" x2="275.8" y2="556.4" stroke="#6a945c" stroke-width="1"/>
<line x1="278" y1="550" x2="278" y2="556.4" stroke="#5cb02e" stroke-width="2.4" stroke-opacity="0.3"/>
<line x1="278" y1="550" x2="278" y2="556.4" stroke="#6a945c" stroke-width="1"/>
<line x1="305" y1="544.6" x2="305" y2="556.4" stroke="#c0dd16" stroke-width="2.4" stroke-opacity="0.3"/>
<line x1="305" y1="544.6" x2="305" y2="551.2" stroke="#bac93c" stroke-width="1"/>
<line x1="305" y1="551.2" x2="305" y2="553.6" stroke="#bac93c" stroke-width="1"/>
<line x1="305" y1="555.2" x2="305" y2="556.4" stroke="#bac93c" stroke-width="1"/>
<line x1="309.4" y1="550.5" x2="309.4" y2="556.4" stroke="#c0dd16" stroke-width="2.4" stroke-opacity="0.3"/>
<line x1="309.4" y1="550.5" x2="309.4" y2="555.7" stroke="#bac93c" stroke-width="1"/>
<line x1="309.4" y1="555.7" x2="309.4" y2="556.4" stroke="#bac93c" stroke-width="1"/>
<line x1="324.8" y1="542.7" x2="324.8" y2="556.4" stroke="#5cb02e" stroke-width="2.4" stroke-opacity="0.3"/>
<line x1="324.8" y1="542.7" x2="324.8" y2="545.2" stroke="#6a945c" stroke-width="1"/>
<line x1="324.8" y1="546" x2="324.8" y2="550.2" stroke="#6a945c" stroke-width="1"/>
<line x1="324.8" y1="550.2" x2="324.8" y2="554.9" stroke="#6a945c" stroke-width="1"/>
<line x1="324.8" y1="554.9" x2="324.8" y2="556.4" stroke="#6a945c" stroke-width="1"/>
<line x1="330.6" y1="549" x2="330.6" y2="556.4" stroke="#5cb02e" stroke-width="2.4" stroke-opacity="0.3"/>
<line x1="330.6" y1="549" x2="330.6" y2="556.4" stroke="#6a945c" stroke-width="1"/>
<line x1="334.4" y1="549" x2="334.4" y2="556.4" stroke="#5cb02e" stroke-width="2.4" stroke-opacity="0.3"/>
<line x1="334.4" y1="549" x2="334.4" y2="553.3" stroke="#6a945c" stroke-width="1"/>
<line x1="334.4" y1="553.3" x2="334.4" y2="556.4" stroke="#6a945c" stroke-width="1"/>
<line x1="340.8" y1="551.2" x2="340.8" y2="556.4" stroke="#c0dd16" stroke-width="2.4" stroke-opacity="0.3"/>
<line x1="340.8" y1="551.2" x2="340.8" y2="556.4" stroke="#bac93c" stroke-width="1"/>
<line x1="352.7" y1="541.3" x2="352.7" y2="556.4" stroke="#c0dd16" stroke-width="2.4" stroke-opacity="0.3"/>
<line x1="352.7" y1="541.3" x2="352.7" y2="545.4" stroke="#bac93c" stroke-width="1"/>
<line x1="352.7" y1="545.4" x2="352.7" y2="548.7" stroke="#bac93c" stroke-width="1"/>
<line x1="352.7" y1="548.7" x2="352.7" y2="553.9" stroke="#bac93c" stroke-width="1"/>
<line x1="352.7" y1="553.9" x2="352.7" y2="556.4" stroke="#bac93c" stroke-width="1"/>
<line x1="371" y1="550" x2="371" y2="556.4" stroke="#5cb02e" stroke-width="2.4" stroke-opacity="0.3"/>
<line x1="371" y1="550" x2="371" y2="556.4" stroke="#6a945c" stroke-width="1"/>
<line x1="396.9" y1="546.1" x2="396.9" y2="556.4" stroke="#5cb02e" stroke-width="2.4" stroke-opacity="0.3"/>
<line x1="396.9" y1="546.1" x2="396.9" y2="552.2" stroke="#6a945c" stroke-width="1"/>
<line x1="396.9" y1="552.2" x2="396.9" y2="556.1" stroke="#6a945c" stroke-width="1"/>
<line x1="396.9" y1="556.1" x2="396.9" y2="556.4" stroke="#6a945c" stroke-width="1"/>
<line x1="400.8" y1="530.8" x2="400.8" y2="556.4" stroke="#5cb02e" stroke-width="2.4" stroke-opacity="0.3"/>
<line x1="400.8" y1="530.8" x2="400.8" y2="534.6" stroke="#6a945c" stroke-width="1"/>
<line x1="400.8" y1="534.6" x2="400.8" y2="541.5" stroke="#6a945c" stroke-width="1"/>
<line x1="400.8" y1="543.1" x2="400.8" y2="551.3" stroke="#6a945c" stroke-width="1"/>
<line x1="400.8" y1="551.3" x2="400.8" y2="555.6" stroke="#6a945c" stroke-width="1"/>
<line x1="400.8" y1="555.6" x2="400.8" y2="556.4" stroke="#6a945c" stroke-width="1"/>
<line x1="407.5" y1="548" x2="407.5" y2="556.4" stroke="#c0dd16" stroke-width="2.4" stroke-opacity="0.3"/>
<line x1="407.5" y1="548" x2="407.5" y2="556.4" stroke="#bac93c" stroke-width="1"/>
<line x1="422.3" y1="545.5" x2="422.3" y2="556.4" stroke="#5cb02e" stroke-width="2.4" stroke-opacity="0.3"/>
<line x1="422.3" y1="545.5" x2="422.3" y2="549.5" stroke="#6a945c" stroke-width="1"/>
<line x1="422.3" y1="549.5" x2="422.3" y2="556.4" stroke="#6a945c" stroke-width="1"/>
<line x1="428" y1="549" x2="428" y2="556.4" stroke="#5cb02e" stroke-width="2.4" stroke-opacity="0.3"/>
<line x1="428" y1="549" x2="428" y2="553.8" stroke="#6a945c" stroke-width="1"/>
<line x1="428" y1="553.8" x2="428" y2="556.4" stroke="#6a945c" stroke-width="1"/>
<line x1="432.2" y1="550.7" x2="432.2" y2="556.4" stroke="#5cb02e" stroke-width="2.4" stroke-opacity="0.3"/>
<line x1="432.2" y1="550.7" x2="432.2" y2="555.1" stroke="#6a945c" stroke-width="1"/>
<line x1="455.5" y1="536" x2="455.5" y2="556.4" stroke="#5cb02e" stroke-width="2.4" stroke-opacity="0.3"/>
<line x1="455.5" y1="536" x2="455.5" y2="542.6" stroke="#6a945c" stroke-width="1"/>
<line x1="455.5" y1="542.6" x2="455.5" y2="547.5" stroke="#6a945c" stroke-width="1"/>
<line x1="455.5" y1="548.5" x2="455.5" y2="556.3" stroke="#6a945c" stroke-width="1"/>
<line x1="455.5" y1="556.3" x2="455.5" y2="556.4" stroke="#6a945c" stroke-width="1"/>
<line x1="457.6" y1="548.6" x2="457.6" y2="556.4" stroke="#c0dd16" stroke-width="2.4" stroke-opacity="0.3"/>
<line x1="457.6" y1="548.6" x2="457.6" y2="552.9" stroke="#bac93c" stroke-width="1"/>
<line x1="457.6" y1="552.9" x2="457.6" y2="556.4" stroke="#bac93c" stroke-width="1"/>
<line x1="466" y1="541.9" x2="466" y2="556.4" stroke="#c0dd16" stroke-width="2.4" stroke-opacity="0.3"/>
<line x1="466" y1="541.9" x2="466" y2="544.3" stroke="#bac93c" stroke-width="1"/>
<line x1="466" y1="545.9" x2="466" y2="552.2" stroke="#bac93c" stroke-width="1"/>
<line x1="466" y1="552.2" x2="466" y2="556.4" stroke="#bac93c" stroke-width="1"/>
<line x1="41" y1="553.9" x2="511.5" y2="553.9" stroke="#555" stroke-width="0.9" stroke-dasharray="2.3 2.35"/>
<line x1="39.6" y1="437.6" x2="39.6" y2="559.9" stroke="#474747" stroke-width="1.5"/>
<line x1="36.7" y1="559.5" x2="512.7" y2="559.5" stroke="#161b12" stroke-width="1.6"/>
<line x1="36.7" y1="559.3" x2="40" y2="559.3" stroke="#3c3c3c" stroke-width="1"/>
<text x="33.5" y="562.3" text-anchor="end" font-size="8.4" fill="#2a2a2a" stroke="#2a2a2a" stroke-width="0.15">0</text>
<line x1="36.7" y1="529.9" x2="40" y2="529.9" stroke="#3c3c3c" stroke-width="1"/>
<text x="33.5" y="532.9" text-anchor="end" font-size="8.4" fill="#2a2a2a" stroke="#2a2a2a" stroke-width="0.15" textLength="8.4" lengthAdjust="spacingAndGlyphs">40</text>
<line x1="36.7" y1="500.5" x2="40" y2="500.5" stroke="#3c3c3c" stroke-width="1"/>
<text x="33.5" y="503.5" text-anchor="end" font-size="8.4" fill="#2a2a2a" stroke="#2a2a2a" stroke-width="0.15" textLength="8.4" lengthAdjust="spacingAndGlyphs">80</text>
<line x1="36.7" y1="471" x2="40" y2="471" stroke="#3c3c3c" stroke-width="1"/>
<text x="33.5" y="474" text-anchor="end" font-size="8.4" fill="#2a2a2a" stroke="#2a2a2a" stroke-width="0.15" textLength="12.6" lengthAdjust="spacingAndGlyphs">120</text>
<line x1="36.7" y1="441.6" x2="40" y2="441.6" stroke="#3c3c3c" stroke-width="1"/>
<text x="33.5" y="444.6" text-anchor="end" font-size="8.4" fill="#2a2a2a" stroke="#2a2a2a" stroke-width="0.15" textLength="12.6" lengthAdjust="spacingAndGlyphs">160</text>
<line x1="64.4" y1="559.3" x2="64.4" y2="562.5" stroke="#333" stroke-width="0.9"/>
<text x="64.4" y="572.3" text-anchor="middle" font-size="8.2" fill="#2a2a2a" stroke="#2a2a2a" stroke-width="0.15">1</text>
<line x1="100.5" y1="559.3" x2="100.5" y2="562.5" stroke="#333" stroke-width="0.9"/>
<text x="100.5" y="572.3" text-anchor="middle" font-size="8.2" fill="#2a2a2a" stroke="#2a2a2a" stroke-width="0.15">2</text>
<line x1="133.6" y1="559.3" x2="133.6" y2="562.5" stroke="#333" stroke-width="0.9"/>
<text x="133.6" y="572.3" text-anchor="middle" font-size="8.2" fill="#2a2a2a" stroke="#2a2a2a" stroke-width="0.15">3</text>
<line x1="162" y1="559.3" x2="162" y2="562.5" stroke="#333" stroke-width="0.9"/>
<text x="162" y="572.3" text-anchor="middle" font-size="8.2" fill="#2a2a2a" stroke="#2a2a2a" stroke-width="0.15">4</text>
<line x1="189.5" y1="559.3" x2="189.5" y2="562.5" stroke="#333" stroke-width="0.9"/>
<text x="189.5" y="572.3" text-anchor="middle" font-size="8.2" fill="#2a2a2a" stroke="#2a2a2a" stroke-width="0.15">5</text>
<line x1="215.8" y1="559.3" x2="215.8" y2="562.5" stroke="#333" stroke-width="0.9"/>
<text x="215.8" y="572.3" text-anchor="middle" font-size="8.2" fill="#2a2a2a" stroke="#2a2a2a" stroke-width="0.15">6</text>
<line x1="240.5" y1="559.3" x2="240.5" y2="562.5" stroke="#333" stroke-width="0.9"/>
<text x="240.5" y="572.3" text-anchor="middle" font-size="8.2" fill="#2a2a2a" stroke="#2a2a2a" stroke-width="0.15">7</text>
<line x1="263.8" y1="559.3" x2="263.8" y2="562.5" stroke="#333" stroke-width="0.9"/>
<text x="263.8" y="572.3" text-anchor="middle" font-size="8.2" fill="#2a2a2a" stroke="#2a2a2a" stroke-width="0.15">8</text>
<line x1="285.3" y1="559.3" x2="285.3" y2="562.5" stroke="#333" stroke-width="0.9"/>
<text x="285.3" y="572.3" text-anchor="middle" font-size="8.2" fill="#2a2a2a" stroke="#2a2a2a" stroke-width="0.15">9</text>
<line x1="306.1" y1="559.3" x2="306.1" y2="562.5" stroke="#333" stroke-width="0.9"/>
<text x="306.1" y="572.3" text-anchor="middle" font-size="8.2" fill="#2a2a2a" stroke="#2a2a2a" stroke-width="0.15" textLength="8.2" lengthAdjust="spacingAndGlyphs">10</text>
<line x1="326.4" y1="559.3" x2="326.4" y2="562.5" stroke="#333" stroke-width="0.9"/>
<text x="326.4" y="572.3" text-anchor="middle" font-size="8.2" fill="#2a2a2a" stroke="#2a2a2a" stroke-width="0.15" textLength="8.2" lengthAdjust="spacingAndGlyphs">11</text>
<line x1="346.5" y1="559.3" x2="346.5" y2="562.5" stroke="#333" stroke-width="0.9"/>
<text x="346.5" y="572.3" text-anchor="middle" font-size="8.2" fill="#2a2a2a" stroke="#2a2a2a" stroke-width="0.15" textLength="8.2" lengthAdjust="spacingAndGlyphs">12</text>
<line x1="366.3" y1="559.3" x2="366.3" y2="562.5" stroke="#333" stroke-width="0.9"/>
<text x="366.3" y="572.3" text-anchor="middle" font-size="8.2" fill="#2a2a2a" stroke="#2a2a2a" stroke-width="0.15" textLength="8.2" lengthAdjust="spacingAndGlyphs">13</text>
<line x1="383.8" y1="559.3" x2="383.8" y2="562.5" stroke="#333" stroke-width="0.9"/>
<text x="383.8" y="572.3" text-anchor="middle" font-size="8.2" fill="#2a2a2a" stroke="#2a2a2a" stroke-width="0.15" textLength="8.2" lengthAdjust="spacingAndGlyphs">14</text>
<line x1="399.6" y1="559.3" x2="399.6" y2="562.5" stroke="#333" stroke-width="0.9"/>
<text x="399.6" y="572.3" text-anchor="middle" font-size="8.2" fill="#2a2a2a" stroke="#2a2a2a" stroke-width="0.15" textLength="8.2" lengthAdjust="spacingAndGlyphs">15</text>
<line x1="414.6" y1="559.3" x2="414.6" y2="562.5" stroke="#333" stroke-width="0.9"/>
<text x="414.6" y="572.3" text-anchor="middle" font-size="8.2" fill="#2a2a2a" stroke="#2a2a2a" stroke-width="0.15" textLength="8.2" lengthAdjust="spacingAndGlyphs">16</text>
<line x1="428.1" y1="559.3" x2="428.1" y2="562.5" stroke="#333" stroke-width="0.9"/>
<text x="428.1" y="572.3" text-anchor="middle" font-size="8.2" fill="#2a2a2a" stroke="#2a2a2a" stroke-width="0.15" textLength="8.2" lengthAdjust="spacingAndGlyphs">17</text>
<line x1="441.6" y1="559.3" x2="441.6" y2="562.5" stroke="#333" stroke-width="0.9"/>
<text x="441.6" y="572.3" text-anchor="middle" font-size="8.2" fill="#2a2a2a" stroke="#2a2a2a" stroke-width="0.15" textLength="8.2" lengthAdjust="spacingAndGlyphs">18</text>
<line x1="452.4" y1="559.3" x2="452.4" y2="562.5" stroke="#333" stroke-width="0.9"/>
<text x="452.4" y="572.3" text-anchor="middle" font-size="8.2" fill="#2a2a2a" stroke="#2a2a2a" stroke-width="0.15" textLength="8.2" lengthAdjust="spacingAndGlyphs">19</text>
<line x1="462.3" y1="559.3" x2="462.3" y2="562.5" stroke="#333" stroke-width="0.9"/>
<text x="462.3" y="572.3" text-anchor="middle" font-size="8.2" fill="#2a2a2a" stroke="#2a2a2a" stroke-width="0.15" textLength="8.2" lengthAdjust="spacingAndGlyphs">20</text>
<line x1="471.3" y1="559.3" x2="471.3" y2="562.5" stroke="#333" stroke-width="0.9"/>
<text x="471.3" y="572.3" text-anchor="middle" font-size="8.2" fill="#2a2a2a" stroke="#2a2a2a" stroke-width="0.15" textLength="8.2" lengthAdjust="spacingAndGlyphs">21</text>
<line x1="480.3" y1="559.3" x2="480.3" y2="562.5" stroke="#333" stroke-width="0.9"/>
<text x="480.3" y="572.3" text-anchor="middle" font-size="8.2" fill="#2a2a2a" stroke="#2a2a2a" stroke-width="0.15" textLength="8.2" lengthAdjust="spacingAndGlyphs">22</text>
<line x1="496.4" y1="559.3" x2="496.4" y2="562.5" stroke="#333" stroke-width="0.9"/>
<text x="496.4" y="572.3" text-anchor="middle" font-size="8.2" fill="#2a2a2a" stroke="#2a2a2a" stroke-width="0.15">X</text>
<text transform="translate(77.6,457) rotate(-90)" font-size="8.6" font-style="italic" fill="#dc3f3a" stroke="#dc3f3a" stroke-width="0.05" textLength="23.3" lengthAdjust="spacingAndGlyphs">PEAR1</text>
<text transform="translate(209.6,493.5) rotate(-90)" font-size="8.6" font-style="italic" fill="#2e2e2e" stroke="#2e2e2e" stroke-width="0.05" textLength="40.6" lengthAdjust="spacingAndGlyphs">ZBED9-AS1</text>
<text transform="translate(354.1,489.4) rotate(-90)" font-size="8.6" font-style="italic" fill="#2e2e2e" stroke="#2e2e2e" stroke-width="0.05" textLength="27.5" lengthAdjust="spacingAndGlyphs">CHST11</text>
<text transform="translate(425.4,494.9) rotate(-90)" font-size="8.6" font-style="italic" fill="#2e2e2e" stroke="#2e2e2e" stroke-width="0.05" textLength="39.9" lengthAdjust="spacingAndGlyphs">LINC00670</text>
<rect x="0.5" y="0.5" width="519" height="594" fill="none" stroke="#5e5e5e" stroke-width="1"/>
</svg></body></html>
